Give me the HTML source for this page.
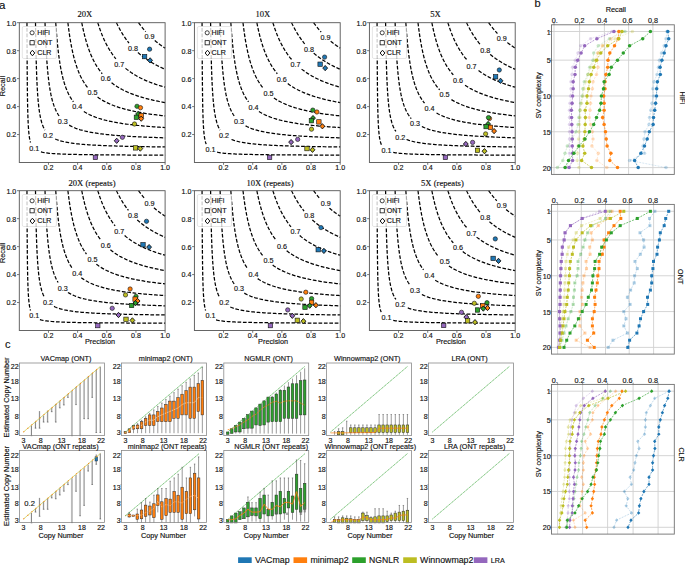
<!DOCTYPE html>
<html><head><meta charset="utf-8"><style>
html,body{margin:0;padding:0;background:#fff;width:685px;height:565px;overflow:hidden}
svg{display:block}
text{stroke:#111;stroke-width:0.15px;stroke-linejoin:round}

</style></head><body>
<svg width="685" height="565" viewBox="0 0 685 565">
<rect width="685" height="565" fill="#fff"/>
<path d="M26.97,22.7 L26.99,29.6 L27.06,46.59 L27.16,66.58 L27.31,84.75 L27.5,99.47 L27.73,110.82 L28,119.45 L28.32,126.02 L28.67,131.06 L29.07,134.98 L29.51,138.07 L29.99,140.53 L30.51,142.52" fill="none" stroke="#000" stroke-width="1.25" stroke-dasharray="3.7 1.7"/>
<path d="M40.95,151.96 L42.03,152.21 L43.14,152.43 L44.29,152.63 L45.48,152.81 L46.7,152.98 L47.96,153.13 L49.26,153.26 L50.59,153.39 L51.95,153.5 L53.35,153.61 L54.79,153.7 L56.25,153.79 L57.76,153.87 L59.29,153.95 L60.85,154.02 L62.45,154.09 L64.08,154.15 L65.74,154.21 L67.43,154.26 L69.15,154.31 L70.9,154.36 L72.68,154.4 L74.48,154.45 L76.31,154.49 L78.17,154.52 L80.06,154.56 L81.97,154.59 L83.91,154.62 L85.87,154.65 L87.86,154.68 L89.87,154.7 L91.9,154.73 L93.96,154.75 L96.04,154.78 L98.14,154.8 L100.25,154.82 L102.39,154.84 L104.55,154.86 L106.73,154.87 L108.92,154.89 L111.13,154.91 L113.36,154.92 L115.6,154.94 L117.86,154.95 L120.13,154.97 L122.42,154.98 L124.72,154.99 L127.03,155 L129.35,155.01 L131.68,155.03 L134.03,155.04 L136.38,155.05 L138.74,155.06 L141.11,155.07 L143.49,155.07 L145.88,155.08 L148.27,155.09 L150.66,155.1 L153.06,155.11 L155.46,155.11 L157.87,155.12 L160.28,155.13 L162.69,155.14 L165.1,155.14" fill="none" stroke="#000" stroke-width="1.25" stroke-dasharray="3.7 1.7"/>
<text x="34.3" y="151" text-anchor="middle" font-size="7.2" font-family="Liberation Sans, sans-serif" fill="#111">0.1</text>
<path d="M35.5,22.7 L35.52,24.21 L35.58,28.55 L35.68,35.13 L35.82,43.22 L35.99,52.06 L36.21,61.04 L36.47,69.7 L36.76,77.78 L37.1,85.13 L37.47,91.73 L37.88,97.58 L38.33,102.74 L38.82,107.27 L39.35,111.25 L39.92,114.75 L40.52,117.83 L41.16,120.53 L41.84,122.92 L42.56,125.04 L43.32,126.92 L44.11,128.59 L44.94,130.09" fill="none" stroke="#000" stroke-width="1.25" stroke-dasharray="3.7 1.7"/>
<path d="M55.19,138.96 L56.41,139.47 L57.66,139.95 L58.94,140.39 L60.25,140.79 L61.6,141.17 L62.97,141.51 L64.38,141.84 L65.82,142.14 L67.29,142.42 L68.79,142.68 L70.32,142.93 L71.87,143.16 L73.46,143.37 L75.07,143.57 L76.71,143.76 L78.38,143.94 L80.07,144.11 L81.79,144.27 L83.54,144.42 L85.31,144.56 L87.1,144.69 L88.92,144.82 L90.76,144.94 L92.63,145.05 L94.51,145.16 L96.42,145.26 L98.35,145.36 L100.3,145.45 L102.27,145.54 L104.26,145.62 L106.26,145.7 L108.29,145.78 L110.33,145.85 L112.39,145.92 L114.46,145.99 L116.55,146.05 L118.66,146.12 L120.77,146.17 L122.91,146.23 L125.05,146.28 L127.21,146.34 L129.38,146.39 L131.56,146.43 L133.75,146.48 L135.95,146.52 L138.15,146.57 L140.37,146.61 L142.6,146.65 L144.83,146.68 L147.06,146.72 L149.31,146.75 L151.55,146.79 L153.8,146.82 L156.06,146.85 L158.32,146.88 L160.58,146.91 L162.84,146.94 L165.1,146.97" fill="none" stroke="#000" stroke-width="1.25" stroke-dasharray="3.7 1.7"/>
<text x="48" y="137.8" text-anchor="middle" font-size="7.2" font-family="Liberation Sans, sans-serif" fill="#111">0.2</text>
<path d="M45.03,22.7 L45.05,23.26 L45.1,24.91 L45.19,27.56 L45.32,31.07 L45.49,35.28 L45.69,40 L45.92,45.07 L46.2,50.32 L46.51,55.61 L46.85,60.84 L47.24,65.92 L47.65,70.79 L48.11,75.42 L48.6,79.77 L49.12,83.85 L49.68,87.64 L50.28,91.17 L50.91,94.43 L51.57,97.44 L52.27,100.22 L53,102.78 L53.77,105.14 L54.57,107.32 L55.41,109.32 L56.28,111.18 L57.18,112.89 L58.12,114.47 L59.08,115.93" fill="none" stroke="#000" stroke-width="1.25" stroke-dasharray="3.7 1.7"/>
<path d="M69.21,125.17 L70.48,125.88 L71.79,126.55 L73.12,127.18 L74.48,127.76 L75.87,128.31 L77.29,128.83 L78.73,129.32 L80.2,129.78 L81.69,130.21 L83.21,130.62 L84.76,131.01 L86.33,131.37 L87.92,131.72 L89.54,132.05 L91.18,132.36 L92.84,132.65 L94.52,132.93 L96.23,133.2 L97.96,133.45 L99.7,133.7 L101.47,133.92 L103.26,134.14 L105.06,134.35 L106.89,134.55 L108.73,134.74 L110.59,134.92 L112.46,135.1 L114.36,135.26 L116.26,135.42 L118.18,135.58 L120.12,135.72 L122.07,135.86 L124.03,136 L126.01,136.12 L128,136.25 L129.99,136.37 L132,136.48 L134.02,136.59 L136.05,136.7 L138.09,136.8 L140.14,136.9 L142.19,136.99 L144.25,137.08 L146.32,137.17 L148.39,137.25 L150.47,137.33 L152.55,137.41 L154.64,137.49 L156.72,137.56 L158.82,137.63 L160.91,137.7 L163,137.77 L165.1,137.83" fill="none" stroke="#000" stroke-width="1.25" stroke-dasharray="3.7 1.7"/>
<text x="62.8" y="123.8" text-anchor="middle" font-size="7.2" font-family="Liberation Sans, sans-serif" fill="#111">0.3</text>
<path d="M55.75,22.7 L55.77,22.95 L55.82,23.71 L55.9,24.95 L56.02,26.64 L56.17,28.74 L56.35,31.19 L56.57,33.95 L56.81,36.95 L57.1,40.13 L57.41,43.46 L57.76,46.86 L58.14,50.31 L58.55,53.76 L59,57.17 L59.48,60.53 L59.99,63.8 L60.53,66.98 L61.1,70.05 L61.71,73 L62.34,75.82 L63.01,78.52 L63.71,81.09 L64.44,83.53 L65.2,85.85 L66,88.04 L66.82,90.13 L67.67,92.09 L68.55,93.96 L69.46,95.72 L70.4,97.38 L71.37,98.95 L72.37,100.43 L73.39,101.84" fill="none" stroke="#000" stroke-width="1.25" stroke-dasharray="3.7 1.7"/>
<path d="M83.84,111.49 L85.13,112.3 L86.44,113.07 L87.78,113.8 L89.14,114.5 L90.52,115.16 L91.93,115.78 L93.36,116.38 L94.81,116.95 L96.28,117.49 L97.78,118.01 L99.29,118.5 L100.83,118.97 L102.38,119.42 L103.95,119.85 L105.54,120.26 L107.15,120.65 L108.78,121.02 L110.42,121.38 L112.09,121.73 L113.76,122.05 L115.46,122.37 L117.16,122.67 L118.89,122.96 L120.62,123.24 L122.37,123.51 L124.14,123.77 L125.91,124.01 L127.7,124.25 L129.5,124.48 L131.31,124.7 L133.13,124.91 L134.96,125.11 L136.8,125.31 L138.65,125.5 L140.5,125.68 L142.36,125.86 L144.24,126.03 L146.11,126.19 L147.99,126.35 L149.88,126.5 L151.77,126.65 L153.67,126.79 L155.57,126.93 L157.47,127.06 L159.38,127.19 L161.28,127.31 L163.19,127.43 L165.1,127.55" fill="none" stroke="#000" stroke-width="1.25" stroke-dasharray="3.7 1.7"/>
<text x="77.3" y="109.3" text-anchor="middle" font-size="7.2" font-family="Liberation Sans, sans-serif" fill="#111">0.4</text>
<path d="M67.9,22.7 L67.91,22.83 L67.96,23.21 L68.03,23.84 L68.14,24.7 L68.27,25.8 L68.43,27.1 L68.62,28.6 L68.85,30.27 L69.1,32.1 L69.38,34.06 L69.69,36.14 L70.02,38.3 L70.39,40.54 L70.79,42.83 L71.21,45.16 L71.67,47.51 L72.15,49.86 L72.66,52.2 L73.2,54.53 L73.76,56.82 L74.36,59.08 L74.98,61.3 L75.63,63.46 L76.3,65.57 L77.01,67.62 L77.74,69.61 L78.49,71.54 L79.28,73.4 L80.09,75.2 L80.92,76.94 L81.78,78.62 L82.67,80.23 L83.58,81.78 L84.52,83.27 L85.48,84.7 L86.46,86.07 L87.47,87.39" fill="none" stroke="#000" stroke-width="1.25" stroke-dasharray="3.7 1.7"/>
<path d="M97.58,97.09 L98.81,97.96 L100.06,98.8 L101.33,99.6 L102.62,100.37 L103.93,101.11 L105.26,101.82 L106.6,102.5 L107.97,103.15 L109.35,103.78 L110.75,104.39 L112.16,104.97 L113.59,105.53 L115.04,106.06 L116.5,106.58 L117.98,107.08 L119.47,107.56 L120.97,108.02 L122.49,108.46 L124.02,108.89 L125.57,109.3 L127.12,109.7 L128.69,110.08 L130.27,110.45 L131.86,110.81 L133.45,111.16 L135.06,111.49 L136.68,111.81 L138.31,112.12 L139.94,112.42 L141.59,112.71 L143.23,112.99 L144.89,113.26 L146.55,113.52 L148.22,113.77 L149.89,114.02 L151.57,114.26 L153.25,114.48 L154.94,114.71 L156.63,114.92 L158.32,115.13 L160.01,115.33 L161.71,115.53 L163.4,115.72 L165.1,115.9" fill="none" stroke="#000" stroke-width="1.25" stroke-dasharray="3.7 1.7"/>
<text x="92.4" y="95.4" text-anchor="middle" font-size="7.2" font-family="Liberation Sans, sans-serif" fill="#111">0.5</text>
<path d="M81.79,22.7 L81.8,22.77 L81.84,22.96 L81.9,23.29 L81.99,23.75 L82.1,24.33 L82.24,25.03 L82.41,25.84 L82.6,26.76 L82.81,27.78 L83.05,28.89 L83.32,30.09 L83.61,31.36 L83.92,32.71 L84.26,34.11 L84.62,35.57 L85.01,37.07 L85.43,38.61 L85.86,40.18 L86.32,41.78 L86.81,43.39 L87.32,45 L87.85,46.63 L88.41,48.25 L88.99,49.86 L89.59,51.47 L90.22,53.06 L90.87,54.64 L91.54,56.19 L92.23,57.72 L92.95,59.22 L93.69,60.7 L94.45,62.15 L95.23,63.57 L96.03,64.95 L96.85,66.31 L97.7,67.63 L98.56,68.92 L99.45,70.17 L100.35,71.4 L101.28,72.58 L102.22,73.74" fill="none" stroke="#000" stroke-width="1.25" stroke-dasharray="3.7 1.7"/>
<path d="M111.55,82.74 L112.67,83.6 L113.81,84.42 L114.96,85.23 L116.13,86.01 L117.31,86.76 L118.51,87.49 L119.72,88.2 L120.95,88.88 L122.19,89.55 L123.44,90.19 L124.71,90.81 L125.99,91.42 L127.28,92 L128.58,92.57 L129.89,93.12 L131.21,93.65 L132.55,94.17 L133.89,94.67 L135.24,95.15 L136.6,95.62 L137.98,96.08 L139.35,96.52 L140.74,96.95 L142.14,97.37 L143.54,97.77 L144.94,98.16 L146.36,98.54 L147.78,98.91 L149.2,99.27 L150.63,99.62 L152.07,99.95 L153.5,100.28 L154.95,100.6 L156.39,100.91 L157.84,101.21 L159.29,101.5 L160.74,101.78 L162.19,102.06 L163.65,102.33 L165.1,102.59" fill="none" stroke="#000" stroke-width="1.25" stroke-dasharray="3.7 1.7"/>
<text x="105.7" y="81.1" text-anchor="middle" font-size="7.2" font-family="Liberation Sans, sans-serif" fill="#111">0.6</text>
<path d="M97.81,22.7 L97.82,22.73 L97.85,22.84 L97.9,23 L97.97,23.24 L98.06,23.54 L98.18,23.9 L98.31,24.33 L98.46,24.82 L98.64,25.36 L98.83,25.96 L99.04,26.61 L99.28,27.32 L99.53,28.07 L99.81,28.86 L100.1,29.7 L100.41,30.57 L100.75,31.48 L101.1,32.43 L101.47,33.4 L101.87,34.39 L102.28,35.41 L102.71,36.45 L103.16,37.51 L103.63,38.58 L104.11,39.66 L104.62,40.75 L105.14,41.85 L105.68,42.95 L106.24,44.05 L106.82,45.15 L107.42,46.25 L108.03,47.34 L108.66,48.43 L109.31,49.52 L109.98,50.59 L110.66,51.66 L111.36,52.71 L112.07,53.75 L112.8,54.78 L113.55,55.8 L114.31,56.8 L115.09,57.79 L115.89,58.76" fill="none" stroke="#000" stroke-width="1.25" stroke-dasharray="3.7 1.7"/>
<path d="M125.55,68.35 L126.5,69.12 L127.47,69.87 L128.45,70.61 L129.44,71.33 L130.44,72.03 L131.45,72.72 L132.48,73.39 L133.51,74.05 L134.55,74.69 L135.6,75.32 L136.66,75.93 L137.73,76.52 L138.81,77.11 L139.89,77.68 L140.98,78.23 L142.08,78.77 L143.19,79.3 L144.31,79.82 L145.43,80.32 L146.55,80.81 L147.68,81.29 L148.82,81.76 L149.96,82.21 L151.11,82.66 L152.26,83.09 L153.41,83.52 L154.57,83.93 L155.73,84.33 L156.9,84.73 L158.07,85.11 L159.24,85.49 L160.41,85.85 L161.58,86.21 L162.75,86.55 L163.93,86.89 L165.1,87.22" fill="none" stroke="#000" stroke-width="1.25" stroke-dasharray="3.7 1.7"/>
<text x="119.3" y="66.7" text-anchor="middle" font-size="7.2" font-family="Liberation Sans, sans-serif" fill="#111">0.7</text>
<path d="M116.5,22.7 L116.51,22.72 L116.53,22.76 L116.57,22.84 L116.62,22.95 L116.68,23.1 L116.77,23.27 L116.86,23.47 L116.97,23.71 L117.1,23.97 L117.24,24.26 L117.39,24.58 L117.56,24.93 L117.75,25.3 L117.94,25.7 L118.16,26.13 L118.38,26.57 L118.62,27.04 L118.88,27.54 L119.15,28.05 L119.43,28.58 L119.73,29.13 L120.04,29.7 L120.36,30.28 L120.7,30.88 L121.05,31.49 L121.42,32.12 L121.8,32.76 L122.19,33.41 L122.59,34.06 L123.01,34.73 L123.44,35.41 L123.88,36.09 L124.34,36.78 L124.81,37.47 L125.29,38.17 L125.78,38.87 L126.29,39.57 L126.8,40.27 L127.33,40.98 L127.87,41.68 L128.42,42.38 L128.98,43.09" fill="none" stroke="#000" stroke-width="1.25" stroke-dasharray="3.7 1.7"/>
<path d="M137.92,52.5 L138.63,53.13 L139.35,53.75 L140.07,54.36 L140.8,54.96 L141.54,55.56 L142.28,56.15 L143.04,56.73 L143.8,57.3 L144.56,57.86 L145.33,58.42 L146.11,58.96 L146.89,59.5 L147.68,60.03 L148.48,60.55 L149.28,61.07 L150.08,61.57 L150.89,62.07 L151.7,62.56 L152.52,63.04 L153.34,63.51 L154.17,63.98 L155,64.43 L155.83,64.88 L156.66,65.32 L157.5,65.75 L158.34,66.18 L159.18,66.59 L160.02,67 L160.86,67.4 L161.71,67.8 L162.56,68.18 L163.4,68.56 L164.25,68.94 L165.1,69.3" fill="none" stroke="#000" stroke-width="1.25" stroke-dasharray="3.7 1.7"/>
<text x="133" y="50.9" text-anchor="middle" font-size="7.2" font-family="Liberation Sans, sans-serif" fill="#111">0.8</text>
<path d="M138.59,22.7 L138.59,22.71 L138.61,22.72 L138.63,22.75 L138.66,22.79 L138.69,22.84 L138.74,22.91 L138.79,22.98 L138.85,23.07 L138.92,23.16 L138.99,23.27 L139.08,23.39 L139.17,23.52 L139.27,23.66 L139.38,23.81 L139.49,23.97 L139.62,24.14 L139.75,24.32 L139.89,24.51 L140.04,24.71 L140.19,24.92 L140.35,25.14 L140.52,25.37 L140.7,25.6 L140.88,25.85 L141.07,26.1 L141.27,26.36 L141.48,26.63 L141.69,26.9 L141.91,27.18 L142.14,27.47 L142.38,27.77 L142.62,28.07 L142.87,28.37 L143.12,28.69 L143.39,29 L143.65,29.33 L143.93,29.65 L144.21,29.99 L144.5,30.32 L144.79,30.66 L145.09,31.01 L145.4,31.36 L145.71,31.71" fill="none" stroke="#000" stroke-width="1.25" stroke-dasharray="3.7 1.7"/>
<path d="M154.74,40.48 L155.17,40.84 L155.6,41.2 L156.03,41.56 L156.47,41.91 L156.91,42.26 L157.35,42.61 L157.79,42.96 L158.24,43.3 L158.69,43.64 L159.14,43.98 L159.59,44.32 L160.04,44.65 L160.5,44.98 L160.95,45.31 L161.41,45.64 L161.87,45.96 L162.33,46.28 L162.79,46.59 L163.25,46.9 L163.71,47.21 L164.17,47.52 L164.64,47.82 L165.1,48.12" fill="none" stroke="#000" stroke-width="1.25" stroke-dasharray="3.7 1.7"/>
<text x="149.5" y="39" text-anchor="middle" font-size="7.2" font-family="Liberation Sans, sans-serif" fill="#111">0.9</text>
<rect x="22.3" y="26.5" width="34.1" height="32" rx="1.5" fill="#fff" fill-opacity="0.8" stroke="#d4d4d4" stroke-width="0.6"/>
<circle cx="32.1" cy="32.8" r="2.06" fill="none" stroke="#111" stroke-width="0.8"/>
<text x="37.3" y="35.3" font-size="7.1" font-family="Liberation Sans, sans-serif" fill="#111">HiFi</text>
<rect x="30" y="40.65" width="4.2" height="4.2" fill="none" stroke="#111" stroke-width="0.8"/>
<text x="37.3" y="45.25" font-size="7.1" font-family="Liberation Sans, sans-serif" fill="#111">ONT</text>
<path d="M32.4,50.2L34.75,53L32.4,55.8L30.05,53Z" fill="none" stroke="#111" stroke-width="1.0"/>
<text x="37.3" y="55.2" font-size="7.1" font-family="Liberation Sans, sans-serif" fill="#111">CLR</text>
<circle cx="149.6" cy="49.2" r="2.16" fill="#1f77b4" stroke="#111" stroke-width="0.6"/>
<rect x="142.4" y="54.4" width="4.4" height="4.4" fill="#1f77b4" stroke="#111" stroke-width="0.6"/>
<path d="M150.1,57.76L152.52,60.4L150.1,63.04L147.68,60.4Z" fill="#1f77b4" stroke="#111" stroke-width="0.9"/>
<circle cx="137" cy="106.3" r="2.16" fill="#2ca02c" stroke="#111" stroke-width="0.6"/>
<circle cx="140.5" cy="107.7" r="2.16" fill="#ff7f0e" stroke="#111" stroke-width="0.6"/>
<path d="M138.1,111.36L140.52,114L138.1,116.64L135.68,114Z" fill="#2ca02c" stroke="#111" stroke-width="0.9"/>
<rect x="134.2" y="115.1" width="4.4" height="4.4" fill="#2ca02c" stroke="#111" stroke-width="0.6"/>
<rect x="139" y="113.3" width="4.4" height="4.4" fill="#ff7f0e" stroke="#111" stroke-width="0.6"/>
<path d="M141.2,116.06L143.62,118.7L141.2,121.34L138.78,118.7Z" fill="#ff7f0e" stroke="#111" stroke-width="0.9"/>
<circle cx="134.5" cy="124" r="2.16" fill="#bcbd22" stroke="#111" stroke-width="0.6"/>
<circle cx="122.4" cy="137.3" r="2.16" fill="#9467bd" stroke="#111" stroke-width="0.6"/>
<path d="M116.7,138.16L119.12,140.8L116.7,143.44L114.28,140.8Z" fill="#9467bd" stroke="#111" stroke-width="0.9"/>
<rect x="133.3" y="145.7" width="4.4" height="4.4" fill="#bcbd22" stroke="#111" stroke-width="0.6"/>
<path d="M140.3,145.96L142.72,148.6L140.3,151.24L137.88,148.6Z" fill="#bcbd22" stroke="#111" stroke-width="0.9"/>
<rect x="93.2" y="155.2" width="4.4" height="4.4" fill="#9467bd" stroke="#111" stroke-width="0.6"/>
<rect x="19.3" y="22.7" width="145.8" height="139.8" fill="none" stroke="#555" stroke-width="0.9"/>
<line x1="48.46" y1="162.5" x2="48.46" y2="164.8" stroke="#555" stroke-width="0.8"/>
<text x="48.46" y="169.85" text-anchor="middle" font-size="7.1" font-family="Liberation Sans, sans-serif" fill="#111">0.2</text>
<line x1="17" y1="134.54" x2="19.3" y2="134.54" stroke="#555" stroke-width="0.8"/>
<text x="16.3" y="137.44" text-anchor="end" font-size="7.1" font-family="Liberation Sans, sans-serif" fill="#111">0.2</text>
<line x1="77.62" y1="162.5" x2="77.62" y2="164.8" stroke="#555" stroke-width="0.8"/>
<text x="77.62" y="169.85" text-anchor="middle" font-size="7.1" font-family="Liberation Sans, sans-serif" fill="#111">0.4</text>
<line x1="17" y1="106.58" x2="19.3" y2="106.58" stroke="#555" stroke-width="0.8"/>
<text x="16.3" y="109.48" text-anchor="end" font-size="7.1" font-family="Liberation Sans, sans-serif" fill="#111">0.4</text>
<line x1="106.78" y1="162.5" x2="106.78" y2="164.8" stroke="#555" stroke-width="0.8"/>
<text x="106.78" y="169.85" text-anchor="middle" font-size="7.1" font-family="Liberation Sans, sans-serif" fill="#111">0.6</text>
<line x1="17" y1="78.62" x2="19.3" y2="78.62" stroke="#555" stroke-width="0.8"/>
<text x="16.3" y="81.52" text-anchor="end" font-size="7.1" font-family="Liberation Sans, sans-serif" fill="#111">0.6</text>
<line x1="135.94" y1="162.5" x2="135.94" y2="164.8" stroke="#555" stroke-width="0.8"/>
<text x="135.94" y="169.85" text-anchor="middle" font-size="7.1" font-family="Liberation Sans, sans-serif" fill="#111">0.8</text>
<line x1="17" y1="50.66" x2="19.3" y2="50.66" stroke="#555" stroke-width="0.8"/>
<text x="16.3" y="53.56" text-anchor="end" font-size="7.1" font-family="Liberation Sans, sans-serif" fill="#111">0.8</text>
<line x1="165.1" y1="162.5" x2="165.1" y2="164.8" stroke="#555" stroke-width="0.8"/>
<text x="165.1" y="169.85" text-anchor="middle" font-size="7.1" font-family="Liberation Sans, sans-serif" fill="#111">1.0</text>
<line x1="17" y1="22.7" x2="19.3" y2="22.7" stroke="#555" stroke-width="0.8"/>
<text x="16.3" y="25.6" text-anchor="end" font-size="7.1" font-family="Liberation Sans, sans-serif" fill="#111">1.0</text>
<text x="84.9" y="17.3" text-anchor="middle" font-size="8.6" font-family="Liberation Serif, serif" fill="#111">20X</text>
<text transform="translate(5.3,86.1) rotate(-90)" text-anchor="middle" font-size="7.3" font-family="Liberation Sans, sans-serif" fill="#111">Recall</text>
<path d="M202.07,22.7 L202.09,29.6 L202.16,46.59 L202.26,66.58 L202.41,84.75 L202.6,99.47 L202.83,110.82 L203.1,119.45 L203.42,126.02 L203.77,131.06 L204.17,134.98 L204.61,138.07 L205.09,140.53 L205.61,142.52 L206.18,144.15" fill="none" stroke="#000" stroke-width="1.25" stroke-dasharray="3.7 1.7"/>
<path d="M217.13,152.21 L218.24,152.43 L219.39,152.63 L220.58,152.81 L221.8,152.98 L223.06,153.13 L224.36,153.26 L225.69,153.39 L227.05,153.5 L228.45,153.61 L229.89,153.7 L231.35,153.79 L232.86,153.87 L234.39,153.95 L235.95,154.02 L237.55,154.09 L239.18,154.15 L240.84,154.21 L242.53,154.26 L244.25,154.31 L246,154.36 L247.78,154.4 L249.58,154.45 L251.41,154.49 L253.27,154.52 L255.16,154.56 L257.07,154.59 L259.01,154.62 L260.97,154.65 L262.96,154.68 L264.97,154.7 L267,154.73 L269.06,154.75 L271.14,154.78 L273.24,154.8 L275.35,154.82 L277.49,154.84 L279.65,154.86 L281.83,154.87 L284.02,154.89 L286.23,154.91 L288.46,154.92 L290.7,154.94 L292.96,154.95 L295.23,154.97 L297.52,154.98 L299.82,154.99 L302.13,155 L304.45,155.01 L306.78,155.03 L309.13,155.04 L311.48,155.05 L313.84,155.06 L316.21,155.07 L318.59,155.07 L320.98,155.08 L323.37,155.09 L325.76,155.1 L328.16,155.11 L330.56,155.11 L332.97,155.12 L335.38,155.13 L337.79,155.14 L340.2,155.14" fill="none" stroke="#000" stroke-width="1.25" stroke-dasharray="3.7 1.7"/>
<text x="210.4" y="151.6" text-anchor="middle" font-size="7.2" font-family="Liberation Sans, sans-serif" fill="#111">0.1</text>
<path d="M210.6,22.7 L210.62,24.21 L210.68,28.55 L210.78,35.13 L210.92,43.22 L211.09,52.06 L211.31,61.04 L211.57,69.7 L211.86,77.78 L212.2,85.13 L212.57,91.73 L212.98,97.58 L213.43,102.74 L213.92,107.27 L214.45,111.25 L215.02,114.75 L215.62,117.83 L216.26,120.53 L216.94,122.92 L217.66,125.04 L218.42,126.92 L219.21,128.59 L220.04,130.09" fill="none" stroke="#000" stroke-width="1.25" stroke-dasharray="3.7 1.7"/>
<path d="M231.51,139.47 L232.76,139.95 L234.04,140.39 L235.35,140.79 L236.7,141.17 L238.07,141.51 L239.48,141.84 L240.92,142.14 L242.39,142.42 L243.89,142.68 L245.42,142.93 L246.97,143.16 L248.56,143.37 L250.17,143.57 L251.81,143.76 L253.48,143.94 L255.17,144.11 L256.89,144.27 L258.64,144.42 L260.41,144.56 L262.2,144.69 L264.02,144.82 L265.86,144.94 L267.73,145.05 L269.61,145.16 L271.52,145.26 L273.45,145.36 L275.4,145.45 L277.37,145.54 L279.36,145.62 L281.36,145.7 L283.39,145.78 L285.43,145.85 L287.49,145.92 L289.56,145.99 L291.65,146.05 L293.76,146.12 L295.87,146.17 L298.01,146.23 L300.15,146.28 L302.31,146.34 L304.48,146.39 L306.66,146.43 L308.85,146.48 L311.05,146.52 L313.25,146.57 L315.47,146.61 L317.7,146.65 L319.93,146.68 L322.16,146.72 L324.41,146.75 L326.65,146.79 L328.9,146.82 L331.16,146.85 L333.42,146.88 L335.68,146.91 L337.94,146.94 L340.2,146.97" fill="none" stroke="#000" stroke-width="1.25" stroke-dasharray="3.7 1.7"/>
<text x="224.1" y="138.4" text-anchor="middle" font-size="7.2" font-family="Liberation Sans, sans-serif" fill="#111">0.2</text>
<path d="M220.13,22.7 L220.15,23.26 L220.2,24.91 L220.29,27.56 L220.42,31.07 L220.59,35.28 L220.79,40 L221.02,45.07 L221.3,50.32 L221.61,55.61 L221.95,60.84 L222.34,65.92 L222.75,70.79 L223.21,75.42 L223.7,79.77 L224.22,83.85 L224.78,87.64 L225.38,91.17 L226.01,94.43 L226.67,97.44 L227.37,100.22 L228.1,102.78 L228.87,105.14 L229.67,107.32 L230.51,109.32 L231.38,111.18 L232.28,112.89 L233.22,114.47 L234.18,115.93" fill="none" stroke="#000" stroke-width="1.25" stroke-dasharray="3.7 1.7"/>
<path d="M245.58,125.88 L246.89,126.55 L248.22,127.18 L249.58,127.76 L250.97,128.31 L252.39,128.83 L253.83,129.32 L255.3,129.78 L256.79,130.21 L258.31,130.62 L259.86,131.01 L261.43,131.37 L263.02,131.72 L264.64,132.05 L266.28,132.36 L267.94,132.65 L269.62,132.93 L271.33,133.2 L273.06,133.45 L274.8,133.7 L276.57,133.92 L278.36,134.14 L280.16,134.35 L281.99,134.55 L283.83,134.74 L285.69,134.92 L287.56,135.1 L289.46,135.26 L291.36,135.42 L293.28,135.58 L295.22,135.72 L297.17,135.86 L299.13,136 L301.11,136.12 L303.1,136.25 L305.09,136.37 L307.1,136.48 L309.12,136.59 L311.15,136.7 L313.19,136.8 L315.24,136.9 L317.29,136.99 L319.35,137.08 L321.42,137.17 L323.49,137.25 L325.57,137.33 L327.65,137.41 L329.74,137.49 L331.82,137.56 L333.92,137.63 L336.01,137.7 L338.1,137.77 L340.2,137.83" fill="none" stroke="#000" stroke-width="1.25" stroke-dasharray="3.7 1.7"/>
<text x="238.9" y="124.4" text-anchor="middle" font-size="7.2" font-family="Liberation Sans, sans-serif" fill="#111">0.3</text>
<path d="M230.85,22.7 L230.87,22.95 L230.92,23.71 L231,24.95 L231.12,26.64 L231.27,28.74 L231.45,31.19 L231.67,33.95 L231.91,36.95 L232.2,40.13 L232.51,43.46 L232.86,46.86 L233.24,50.31 L233.65,53.76 L234.1,57.17 L234.58,60.53 L235.09,63.8 L235.63,66.98 L236.2,70.05 L236.81,73 L237.44,75.82 L238.11,78.52 L238.81,81.09 L239.54,83.53 L240.3,85.85 L241.1,88.04 L241.92,90.13 L242.77,92.09 L243.65,93.96 L244.56,95.72 L245.5,97.38 L246.47,98.95 L247.47,100.43 L248.49,101.84" fill="none" stroke="#000" stroke-width="1.25" stroke-dasharray="3.7 1.7"/>
<path d="M258.94,111.49 L260.23,112.3 L261.54,113.07 L262.88,113.8 L264.24,114.5 L265.62,115.16 L267.03,115.78 L268.46,116.38 L269.91,116.95 L271.38,117.49 L272.88,118.01 L274.39,118.5 L275.93,118.97 L277.48,119.42 L279.05,119.85 L280.64,120.26 L282.25,120.65 L283.88,121.02 L285.52,121.38 L287.19,121.73 L288.86,122.05 L290.56,122.37 L292.26,122.67 L293.99,122.96 L295.72,123.24 L297.47,123.51 L299.24,123.77 L301.01,124.01 L302.8,124.25 L304.6,124.48 L306.41,124.7 L308.23,124.91 L310.06,125.11 L311.9,125.31 L313.75,125.5 L315.6,125.68 L317.46,125.86 L319.34,126.03 L321.21,126.19 L323.09,126.35 L324.98,126.5 L326.87,126.65 L328.77,126.79 L330.67,126.93 L332.57,127.06 L334.48,127.19 L336.38,127.31 L338.29,127.43 L340.2,127.55" fill="none" stroke="#000" stroke-width="1.25" stroke-dasharray="3.7 1.7"/>
<text x="253.4" y="109.9" text-anchor="middle" font-size="7.2" font-family="Liberation Sans, sans-serif" fill="#111">0.4</text>
<path d="M243,22.7 L243.01,22.83 L243.06,23.21 L243.13,23.84 L243.24,24.7 L243.37,25.8 L243.53,27.1 L243.72,28.6 L243.95,30.27 L244.2,32.1 L244.48,34.06 L244.79,36.14 L245.12,38.3 L245.49,40.54 L245.89,42.83 L246.31,45.16 L246.77,47.51 L247.25,49.86 L247.76,52.2 L248.3,54.53 L248.86,56.82 L249.46,59.08 L250.08,61.3 L250.73,63.46 L251.4,65.57 L252.11,67.62 L252.84,69.61 L253.59,71.54 L254.38,73.4 L255.19,75.2 L256.02,76.94 L256.88,78.62 L257.77,80.23 L258.68,81.78 L259.62,83.27 L260.58,84.7 L261.56,86.07 L262.57,87.39 L263.61,88.66" fill="none" stroke="#000" stroke-width="1.25" stroke-dasharray="3.7 1.7"/>
<path d="M273.91,97.96 L275.16,98.8 L276.43,99.6 L277.72,100.37 L279.03,101.11 L280.36,101.82 L281.7,102.5 L283.07,103.15 L284.45,103.78 L285.85,104.39 L287.26,104.97 L288.69,105.53 L290.14,106.06 L291.6,106.58 L293.08,107.08 L294.57,107.56 L296.07,108.02 L297.59,108.46 L299.12,108.89 L300.67,109.3 L302.22,109.7 L303.79,110.08 L305.37,110.45 L306.96,110.81 L308.55,111.16 L310.16,111.49 L311.78,111.81 L313.41,112.12 L315.04,112.42 L316.69,112.71 L318.33,112.99 L319.99,113.26 L321.65,113.52 L323.32,113.77 L324.99,114.02 L326.67,114.26 L328.35,114.48 L330.04,114.71 L331.73,114.92 L333.42,115.13 L335.11,115.33 L336.81,115.53 L338.5,115.72 L340.2,115.9" fill="none" stroke="#000" stroke-width="1.25" stroke-dasharray="3.7 1.7"/>
<text x="268.5" y="96" text-anchor="middle" font-size="7.2" font-family="Liberation Sans, sans-serif" fill="#111">0.5</text>
<path d="M256.89,22.7 L256.9,22.77 L256.94,22.96 L257,23.29 L257.09,23.75 L257.2,24.33 L257.34,25.03 L257.51,25.84 L257.7,26.76 L257.91,27.78 L258.15,28.89 L258.42,30.09 L258.71,31.36 L259.02,32.71 L259.36,34.11 L259.72,35.57 L260.11,37.07 L260.53,38.61 L260.96,40.18 L261.42,41.78 L261.91,43.39 L262.42,45 L262.95,46.63 L263.51,48.25 L264.09,49.86 L264.69,51.47 L265.32,53.06 L265.97,54.64 L266.64,56.19 L267.33,57.72 L268.05,59.22 L268.79,60.7 L269.55,62.15 L270.33,63.57 L271.13,64.95 L271.95,66.31 L272.8,67.63 L273.66,68.92 L274.55,70.17 L275.45,71.4 L276.38,72.58 L277.32,73.74" fill="none" stroke="#000" stroke-width="1.25" stroke-dasharray="3.7 1.7"/>
<path d="M287.77,83.6 L288.91,84.42 L290.06,85.23 L291.23,86.01 L292.41,86.76 L293.61,87.49 L294.82,88.2 L296.05,88.88 L297.29,89.55 L298.54,90.19 L299.81,90.81 L301.09,91.42 L302.38,92 L303.68,92.57 L304.99,93.12 L306.31,93.65 L307.65,94.17 L308.99,94.67 L310.34,95.15 L311.7,95.62 L313.08,96.08 L314.45,96.52 L315.84,96.95 L317.24,97.37 L318.64,97.77 L320.04,98.16 L321.46,98.54 L322.88,98.91 L324.3,99.27 L325.73,99.62 L327.17,99.95 L328.6,100.28 L330.05,100.6 L331.49,100.91 L332.94,101.21 L334.39,101.5 L335.84,101.78 L337.29,102.06 L338.75,102.33 L340.2,102.59" fill="none" stroke="#000" stroke-width="1.25" stroke-dasharray="3.7 1.7"/>
<text x="281.8" y="81.7" text-anchor="middle" font-size="7.2" font-family="Liberation Sans, sans-serif" fill="#111">0.6</text>
<path d="M272.91,22.7 L272.92,22.73 L272.95,22.84 L273,23 L273.07,23.24 L273.16,23.54 L273.28,23.9 L273.41,24.33 L273.56,24.82 L273.74,25.36 L273.93,25.96 L274.14,26.61 L274.38,27.32 L274.63,28.07 L274.91,28.86 L275.2,29.7 L275.51,30.57 L275.85,31.48 L276.2,32.43 L276.57,33.4 L276.97,34.39 L277.38,35.41 L277.81,36.45 L278.26,37.51 L278.73,38.58 L279.21,39.66 L279.72,40.75 L280.24,41.85 L280.78,42.95 L281.34,44.05 L281.92,45.15 L282.52,46.25 L283.13,47.34 L283.76,48.43 L284.41,49.52 L285.08,50.59 L285.76,51.66 L286.46,52.71 L287.17,53.75 L287.9,54.78 L288.65,55.8 L289.41,56.8 L290.19,57.79 L290.99,58.76 L291.79,59.72" fill="none" stroke="#000" stroke-width="1.25" stroke-dasharray="3.7 1.7"/>
<path d="M301.6,69.12 L302.57,69.87 L303.55,70.61 L304.54,71.33 L305.54,72.03 L306.55,72.72 L307.58,73.39 L308.61,74.05 L309.65,74.69 L310.7,75.32 L311.76,75.93 L312.83,76.52 L313.91,77.11 L314.99,77.68 L316.08,78.23 L317.18,78.77 L318.29,79.3 L319.41,79.82 L320.53,80.32 L321.65,80.81 L322.78,81.29 L323.92,81.76 L325.06,82.21 L326.21,82.66 L327.36,83.09 L328.51,83.52 L329.67,83.93 L330.83,84.33 L332,84.73 L333.17,85.11 L334.34,85.49 L335.51,85.85 L336.68,86.21 L337.85,86.55 L339.03,86.89 L340.2,87.22" fill="none" stroke="#000" stroke-width="1.25" stroke-dasharray="3.7 1.7"/>
<text x="295.4" y="67.3" text-anchor="middle" font-size="7.2" font-family="Liberation Sans, sans-serif" fill="#111">0.7</text>
<path d="M291.6,22.7 L291.61,22.72 L291.63,22.76 L291.67,22.84 L291.72,22.95 L291.78,23.1 L291.87,23.27 L291.96,23.47 L292.07,23.71 L292.2,23.97 L292.34,24.26 L292.49,24.58 L292.66,24.93 L292.85,25.3 L293.04,25.7 L293.26,26.13 L293.48,26.57 L293.72,27.04 L293.98,27.54 L294.25,28.05 L294.53,28.58 L294.83,29.13 L295.14,29.7 L295.46,30.28 L295.8,30.88 L296.15,31.49 L296.52,32.12 L296.9,32.76 L297.29,33.41 L297.69,34.06 L298.11,34.73 L298.54,35.41 L298.98,36.09 L299.44,36.78 L299.91,37.47 L300.39,38.17 L300.88,38.87 L301.39,39.57 L301.9,40.27 L302.43,40.98 L302.97,41.68 L303.52,42.38 L304.08,43.09 L304.66,43.79" fill="none" stroke="#000" stroke-width="1.25" stroke-dasharray="3.7 1.7"/>
<path d="M313.73,53.13 L314.45,53.75 L315.17,54.36 L315.9,54.96 L316.64,55.56 L317.38,56.15 L318.14,56.73 L318.9,57.3 L319.66,57.86 L320.43,58.42 L321.21,58.96 L321.99,59.5 L322.78,60.03 L323.58,60.55 L324.38,61.07 L325.18,61.57 L325.99,62.07 L326.8,62.56 L327.62,63.04 L328.44,63.51 L329.27,63.98 L330.1,64.43 L330.93,64.88 L331.76,65.32 L332.6,65.75 L333.44,66.18 L334.28,66.59 L335.12,67 L335.96,67.4 L336.81,67.8 L337.66,68.18 L338.5,68.56 L339.35,68.94 L340.2,69.3" fill="none" stroke="#000" stroke-width="1.25" stroke-dasharray="3.7 1.7"/>
<text x="309.1" y="51.5" text-anchor="middle" font-size="7.2" font-family="Liberation Sans, sans-serif" fill="#111">0.8</text>
<path d="M313.69,22.7 L313.69,22.71 L313.71,22.72 L313.73,22.75 L313.76,22.79 L313.79,22.84 L313.84,22.91 L313.89,22.98 L313.95,23.07 L314.02,23.16 L314.09,23.27 L314.18,23.39 L314.27,23.52 L314.37,23.66 L314.48,23.81 L314.59,23.97 L314.72,24.14 L314.85,24.32 L314.99,24.51 L315.14,24.71 L315.29,24.92 L315.45,25.14 L315.62,25.37 L315.8,25.6 L315.98,25.85 L316.17,26.1 L316.37,26.36 L316.58,26.63 L316.79,26.9 L317.01,27.18 L317.24,27.47 L317.48,27.77 L317.72,28.07 L317.97,28.37 L318.22,28.69 L318.49,29 L318.75,29.33 L319.03,29.65 L319.31,29.99 L319.6,30.32 L319.89,30.66 L320.19,31.01 L320.5,31.36 L320.81,31.71 L321.13,32.06" fill="none" stroke="#000" stroke-width="1.25" stroke-dasharray="3.7 1.7"/>
<path d="M330.7,41.2 L331.13,41.56 L331.57,41.91 L332.01,42.26 L332.45,42.61 L332.89,42.96 L333.34,43.3 L333.79,43.64 L334.24,43.98 L334.69,44.32 L335.14,44.65 L335.6,44.98 L336.05,45.31 L336.51,45.64 L336.97,45.96 L337.43,46.28 L337.89,46.59 L338.35,46.9 L338.81,47.21 L339.27,47.52 L339.74,47.82 L340.2,48.12" fill="none" stroke="#000" stroke-width="1.25" stroke-dasharray="3.7 1.7"/>
<text x="325.6" y="39.6" text-anchor="middle" font-size="7.2" font-family="Liberation Sans, sans-serif" fill="#111">0.9</text>
<rect x="197.4" y="26.5" width="34.1" height="32" rx="1.5" fill="#fff" fill-opacity="0.8" stroke="#d4d4d4" stroke-width="0.6"/>
<circle cx="207.2" cy="32.8" r="2.06" fill="none" stroke="#111" stroke-width="0.8"/>
<text x="211.6" y="35.3" font-size="7.1" font-family="Liberation Sans, sans-serif" fill="#111">HiFi</text>
<rect x="205.1" y="40.65" width="4.2" height="4.2" fill="none" stroke="#111" stroke-width="0.8"/>
<text x="211.6" y="45.25" font-size="7.1" font-family="Liberation Sans, sans-serif" fill="#111">ONT</text>
<path d="M207.5,50.2L209.85,53L207.5,55.8L205.15,53Z" fill="none" stroke="#111" stroke-width="1.0"/>
<text x="211.6" y="55.2" font-size="7.1" font-family="Liberation Sans, sans-serif" fill="#111">CLR</text>
<circle cx="324.6" cy="57.1" r="2.16" fill="#1f77b4" stroke="#111" stroke-width="0.6"/>
<rect x="317.9" y="62" width="4.4" height="4.4" fill="#1f77b4" stroke="#111" stroke-width="0.6"/>
<path d="M325.2,65.46L327.62,68.1L325.2,70.74L322.78,68.1Z" fill="#1f77b4" stroke="#111" stroke-width="0.9"/>
<circle cx="312.8" cy="110.1" r="2.16" fill="#2ca02c" stroke="#111" stroke-width="0.6"/>
<circle cx="316.9" cy="112" r="2.16" fill="#ff7f0e" stroke="#111" stroke-width="0.6"/>
<path d="M313,115.46L315.42,118.1L313,120.74L310.58,118.1Z" fill="#2ca02c" stroke="#111" stroke-width="0.9"/>
<rect x="309.2" y="118.5" width="4.4" height="4.4" fill="#2ca02c" stroke="#111" stroke-width="0.6"/>
<rect x="316.7" y="119.7" width="4.4" height="4.4" fill="#ff7f0e" stroke="#111" stroke-width="0.6"/>
<path d="M322.4,123.66L324.82,126.3L322.4,128.94L319.98,126.3Z" fill="#ff7f0e" stroke="#111" stroke-width="0.9"/>
<circle cx="311.5" cy="129.2" r="2.16" fill="#bcbd22" stroke="#111" stroke-width="0.6"/>
<circle cx="297.7" cy="139.4" r="2.16" fill="#9467bd" stroke="#111" stroke-width="0.6"/>
<path d="M291.1,139.46L293.52,142.1L291.1,144.74L288.68,142.1Z" fill="#9467bd" stroke="#111" stroke-width="0.9"/>
<rect x="304.8" y="146.4" width="4.4" height="4.4" fill="#bcbd22" stroke="#111" stroke-width="0.6"/>
<path d="M312.5,147.16L314.92,149.8L312.5,152.44L310.08,149.8Z" fill="#bcbd22" stroke="#111" stroke-width="0.9"/>
<rect x="267.4" y="155.2" width="4.4" height="4.4" fill="#9467bd" stroke="#111" stroke-width="0.6"/>
<rect x="194.4" y="22.7" width="145.8" height="139.8" fill="none" stroke="#555" stroke-width="0.9"/>
<line x1="223.56" y1="162.5" x2="223.56" y2="164.8" stroke="#555" stroke-width="0.8"/>
<text x="223.56" y="169.85" text-anchor="middle" font-size="7.1" font-family="Liberation Sans, sans-serif" fill="#111">0.2</text>
<line x1="192.1" y1="134.54" x2="194.4" y2="134.54" stroke="#555" stroke-width="0.8"/>
<text x="191.4" y="137.44" text-anchor="end" font-size="7.1" font-family="Liberation Sans, sans-serif" fill="#111">0.2</text>
<line x1="252.72" y1="162.5" x2="252.72" y2="164.8" stroke="#555" stroke-width="0.8"/>
<text x="252.72" y="169.85" text-anchor="middle" font-size="7.1" font-family="Liberation Sans, sans-serif" fill="#111">0.4</text>
<line x1="192.1" y1="106.58" x2="194.4" y2="106.58" stroke="#555" stroke-width="0.8"/>
<text x="191.4" y="109.48" text-anchor="end" font-size="7.1" font-family="Liberation Sans, sans-serif" fill="#111">0.4</text>
<line x1="281.88" y1="162.5" x2="281.88" y2="164.8" stroke="#555" stroke-width="0.8"/>
<text x="281.88" y="169.85" text-anchor="middle" font-size="7.1" font-family="Liberation Sans, sans-serif" fill="#111">0.6</text>
<line x1="192.1" y1="78.62" x2="194.4" y2="78.62" stroke="#555" stroke-width="0.8"/>
<text x="191.4" y="81.52" text-anchor="end" font-size="7.1" font-family="Liberation Sans, sans-serif" fill="#111">0.6</text>
<line x1="311.04" y1="162.5" x2="311.04" y2="164.8" stroke="#555" stroke-width="0.8"/>
<text x="311.04" y="169.85" text-anchor="middle" font-size="7.1" font-family="Liberation Sans, sans-serif" fill="#111">0.8</text>
<line x1="192.1" y1="50.66" x2="194.4" y2="50.66" stroke="#555" stroke-width="0.8"/>
<text x="191.4" y="53.56" text-anchor="end" font-size="7.1" font-family="Liberation Sans, sans-serif" fill="#111">0.8</text>
<line x1="340.2" y1="162.5" x2="340.2" y2="164.8" stroke="#555" stroke-width="0.8"/>
<text x="340.2" y="169.85" text-anchor="middle" font-size="7.1" font-family="Liberation Sans, sans-serif" fill="#111">1.0</text>
<line x1="192.1" y1="22.7" x2="194.4" y2="22.7" stroke="#555" stroke-width="0.8"/>
<text x="191.4" y="25.6" text-anchor="end" font-size="7.1" font-family="Liberation Sans, sans-serif" fill="#111">1.0</text>
<text x="262.8" y="17.3" text-anchor="middle" font-size="8.6" font-family="Liberation Serif, serif" fill="#111">10X</text>
<path d="M377.07,22.7 L377.09,29.6 L377.16,46.59 L377.26,66.58 L377.41,84.75 L377.6,99.47 L377.83,110.82 L378.1,119.45 L378.42,126.02 L378.77,131.06 L379.17,134.98 L379.61,138.07 L380.09,140.53 L380.61,142.52 L381.18,144.15 L381.78,145.5" fill="none" stroke="#000" stroke-width="1.25" stroke-dasharray="3.7 1.7"/>
<path d="M393.24,152.43 L394.39,152.63 L395.58,152.81 L396.8,152.98 L398.06,153.13 L399.36,153.26 L400.69,153.39 L402.05,153.5 L403.45,153.61 L404.89,153.7 L406.35,153.79 L407.86,153.87 L409.39,153.95 L410.95,154.02 L412.55,154.09 L414.18,154.15 L415.84,154.21 L417.53,154.26 L419.25,154.31 L421,154.36 L422.78,154.4 L424.58,154.45 L426.41,154.49 L428.27,154.52 L430.16,154.56 L432.07,154.59 L434.01,154.62 L435.97,154.65 L437.96,154.68 L439.97,154.7 L442,154.73 L444.06,154.75 L446.14,154.78 L448.24,154.8 L450.35,154.82 L452.49,154.84 L454.65,154.86 L456.83,154.87 L459.02,154.89 L461.23,154.91 L463.46,154.92 L465.7,154.94 L467.96,154.95 L470.23,154.97 L472.52,154.98 L474.82,154.99 L477.13,155 L479.45,155.01 L481.78,155.03 L484.13,155.04 L486.48,155.05 L488.84,155.06 L491.21,155.07 L493.59,155.07 L495.98,155.08 L498.37,155.09 L500.76,155.1 L503.16,155.11 L505.56,155.11 L507.97,155.12 L510.38,155.13 L512.79,155.14 L515.2,155.14" fill="none" stroke="#000" stroke-width="1.25" stroke-dasharray="3.7 1.7"/>
<text x="386.5" y="153" text-anchor="middle" font-size="7.2" font-family="Liberation Sans, sans-serif" fill="#111">0.1</text>
<path d="M385.6,22.7 L385.62,24.21 L385.68,28.55 L385.78,35.13 L385.92,43.22 L386.09,52.06 L386.31,61.04 L386.57,69.7 L386.86,77.78 L387.2,85.13 L387.57,91.73 L387.98,97.58 L388.43,102.74 L388.92,107.27 L389.45,111.25 L390.02,114.75 L390.62,117.83 L391.26,120.53 L391.94,122.92 L392.66,125.04 L393.42,126.92 L394.21,128.59 L395.04,130.09 L395.9,131.42" fill="none" stroke="#000" stroke-width="1.25" stroke-dasharray="3.7 1.7"/>
<path d="M406.51,139.47 L407.76,139.95 L409.04,140.39 L410.35,140.79 L411.7,141.17 L413.07,141.51 L414.48,141.84 L415.92,142.14 L417.39,142.42 L418.89,142.68 L420.42,142.93 L421.97,143.16 L423.56,143.37 L425.17,143.57 L426.81,143.76 L428.48,143.94 L430.17,144.11 L431.89,144.27 L433.64,144.42 L435.41,144.56 L437.2,144.69 L439.02,144.82 L440.86,144.94 L442.73,145.05 L444.61,145.16 L446.52,145.26 L448.45,145.36 L450.4,145.45 L452.37,145.54 L454.36,145.62 L456.36,145.7 L458.39,145.78 L460.43,145.85 L462.49,145.92 L464.56,145.99 L466.65,146.05 L468.76,146.12 L470.87,146.17 L473.01,146.23 L475.15,146.28 L477.31,146.34 L479.48,146.39 L481.66,146.43 L483.85,146.48 L486.05,146.52 L488.25,146.57 L490.47,146.61 L492.7,146.65 L494.93,146.68 L497.16,146.72 L499.41,146.75 L501.65,146.79 L503.9,146.82 L506.16,146.85 L508.42,146.88 L510.68,146.91 L512.94,146.94 L515.2,146.97" fill="none" stroke="#000" stroke-width="1.25" stroke-dasharray="3.7 1.7"/>
<text x="400.2" y="139.8" text-anchor="middle" font-size="7.2" font-family="Liberation Sans, sans-serif" fill="#111">0.2</text>
<path d="M395.13,22.7 L395.15,23.26 L395.2,24.91 L395.29,27.56 L395.42,31.07 L395.59,35.28 L395.79,40 L396.02,45.07 L396.3,50.32 L396.61,55.61 L396.95,60.84 L397.34,65.92 L397.75,70.79 L398.21,75.42 L398.7,79.77 L399.22,83.85 L399.78,87.64 L400.38,91.17 L401.01,94.43 L401.67,97.44 L402.37,100.22 L403.1,102.78 L403.87,105.14 L404.67,107.32 L405.51,109.32 L406.38,111.18 L407.28,112.89 L408.22,114.47 L409.18,115.93 L410.18,117.28 L411.22,118.54" fill="none" stroke="#000" stroke-width="1.25" stroke-dasharray="3.7 1.7"/>
<path d="M421.89,126.55 L423.22,127.18 L424.58,127.76 L425.97,128.31 L427.39,128.83 L428.83,129.32 L430.3,129.78 L431.79,130.21 L433.31,130.62 L434.86,131.01 L436.43,131.37 L438.02,131.72 L439.64,132.05 L441.28,132.36 L442.94,132.65 L444.62,132.93 L446.33,133.2 L448.06,133.45 L449.8,133.7 L451.57,133.92 L453.36,134.14 L455.16,134.35 L456.99,134.55 L458.83,134.74 L460.69,134.92 L462.56,135.1 L464.46,135.26 L466.36,135.42 L468.28,135.58 L470.22,135.72 L472.17,135.86 L474.13,136 L476.11,136.12 L478.1,136.25 L480.09,136.37 L482.1,136.48 L484.12,136.59 L486.15,136.7 L488.19,136.8 L490.24,136.9 L492.29,136.99 L494.35,137.08 L496.42,137.17 L498.49,137.25 L500.57,137.33 L502.65,137.41 L504.74,137.49 L506.82,137.56 L508.92,137.63 L511.01,137.7 L513.1,137.77 L515.2,137.83" fill="none" stroke="#000" stroke-width="1.25" stroke-dasharray="3.7 1.7"/>
<text x="415" y="125.8" text-anchor="middle" font-size="7.2" font-family="Liberation Sans, sans-serif" fill="#111">0.3</text>
<path d="M405.85,22.7 L405.87,22.95 L405.92,23.71 L406,24.95 L406.12,26.64 L406.27,28.74 L406.45,31.19 L406.67,33.95 L406.91,36.95 L407.2,40.13 L407.51,43.46 L407.86,46.86 L408.24,50.31 L408.65,53.76 L409.1,57.17 L409.58,60.53 L410.09,63.8 L410.63,66.98 L411.2,70.05 L411.81,73 L412.44,75.82 L413.11,78.52 L413.81,81.09 L414.54,83.53 L415.3,85.85 L416.1,88.04 L416.92,90.13 L417.77,92.09 L418.65,93.96 L419.56,95.72 L420.5,97.38 L421.47,98.95 L422.47,100.43 L423.49,101.84 L424.54,103.16" fill="none" stroke="#000" stroke-width="1.25" stroke-dasharray="3.7 1.7"/>
<path d="M436.54,113.07 L437.88,113.8 L439.24,114.5 L440.62,115.16 L442.03,115.78 L443.46,116.38 L444.91,116.95 L446.38,117.49 L447.88,118.01 L449.39,118.5 L450.93,118.97 L452.48,119.42 L454.05,119.85 L455.64,120.26 L457.25,120.65 L458.88,121.02 L460.52,121.38 L462.19,121.73 L463.86,122.05 L465.56,122.37 L467.26,122.67 L468.99,122.96 L470.72,123.24 L472.47,123.51 L474.24,123.77 L476.01,124.01 L477.8,124.25 L479.6,124.48 L481.41,124.7 L483.23,124.91 L485.06,125.11 L486.9,125.31 L488.75,125.5 L490.6,125.68 L492.46,125.86 L494.34,126.03 L496.21,126.19 L498.09,126.35 L499.98,126.5 L501.87,126.65 L503.77,126.79 L505.67,126.93 L507.57,127.06 L509.48,127.19 L511.38,127.31 L513.29,127.43 L515.2,127.55" fill="none" stroke="#000" stroke-width="1.25" stroke-dasharray="3.7 1.7"/>
<text x="429.5" y="111.3" text-anchor="middle" font-size="7.2" font-family="Liberation Sans, sans-serif" fill="#111">0.4</text>
<path d="M418,22.7 L418.01,22.83 L418.06,23.21 L418.13,23.84 L418.24,24.7 L418.37,25.8 L418.53,27.1 L418.72,28.6 L418.95,30.27 L419.2,32.1 L419.48,34.06 L419.79,36.14 L420.12,38.3 L420.49,40.54 L420.89,42.83 L421.31,45.16 L421.77,47.51 L422.25,49.86 L422.76,52.2 L423.3,54.53 L423.86,56.82 L424.46,59.08 L425.08,61.3 L425.73,63.46 L426.4,65.57 L427.11,67.62 L427.84,69.61 L428.59,71.54 L429.38,73.4 L430.19,75.2 L431.02,76.94 L431.88,78.62 L432.77,80.23 L433.68,81.78 L434.62,83.27 L435.58,84.7 L436.56,86.07 L437.57,87.39 L438.61,88.66 L439.66,89.87" fill="none" stroke="#000" stroke-width="1.25" stroke-dasharray="3.7 1.7"/>
<path d="M451.43,99.6 L452.72,100.37 L454.03,101.11 L455.36,101.82 L456.7,102.5 L458.07,103.15 L459.45,103.78 L460.85,104.39 L462.26,104.97 L463.69,105.53 L465.14,106.06 L466.6,106.58 L468.08,107.08 L469.57,107.56 L471.07,108.02 L472.59,108.46 L474.12,108.89 L475.67,109.3 L477.22,109.7 L478.79,110.08 L480.37,110.45 L481.96,110.81 L483.55,111.16 L485.16,111.49 L486.78,111.81 L488.41,112.12 L490.04,112.42 L491.69,112.71 L493.33,112.99 L494.99,113.26 L496.65,113.52 L498.32,113.77 L499.99,114.02 L501.67,114.26 L503.35,114.48 L505.04,114.71 L506.73,114.92 L508.42,115.13 L510.11,115.33 L511.81,115.53 L513.5,115.72 L515.2,115.9" fill="none" stroke="#000" stroke-width="1.25" stroke-dasharray="3.7 1.7"/>
<text x="444.6" y="97.4" text-anchor="middle" font-size="7.2" font-family="Liberation Sans, sans-serif" fill="#111">0.5</text>
<path d="M431.89,22.7 L431.9,22.77 L431.94,22.96 L432,23.29 L432.09,23.75 L432.2,24.33 L432.34,25.03 L432.51,25.84 L432.7,26.76 L432.91,27.78 L433.15,28.89 L433.42,30.09 L433.71,31.36 L434.02,32.71 L434.36,34.11 L434.72,35.57 L435.11,37.07 L435.53,38.61 L435.96,40.18 L436.42,41.78 L436.91,43.39 L437.42,45 L437.95,46.63 L438.51,48.25 L439.09,49.86 L439.69,51.47 L440.32,53.06 L440.97,54.64 L441.64,56.19 L442.33,57.72 L443.05,59.22 L443.79,60.7 L444.55,62.15 L445.33,63.57 L446.13,64.95 L446.95,66.31 L447.8,67.63 L448.66,68.92 L449.55,70.17 L450.45,71.4 L451.38,72.58 L452.32,73.74 L453.29,74.86" fill="none" stroke="#000" stroke-width="1.25" stroke-dasharray="3.7 1.7"/>
<path d="M465.06,85.23 L466.23,86.01 L467.41,86.76 L468.61,87.49 L469.82,88.2 L471.05,88.88 L472.29,89.55 L473.54,90.19 L474.81,90.81 L476.09,91.42 L477.38,92 L478.68,92.57 L479.99,93.12 L481.31,93.65 L482.65,94.17 L483.99,94.67 L485.34,95.15 L486.7,95.62 L488.08,96.08 L489.45,96.52 L490.84,96.95 L492.24,97.37 L493.64,97.77 L495.04,98.16 L496.46,98.54 L497.88,98.91 L499.3,99.27 L500.73,99.62 L502.17,99.95 L503.6,100.28 L505.05,100.6 L506.49,100.91 L507.94,101.21 L509.39,101.5 L510.84,101.78 L512.29,102.06 L513.75,102.33 L515.2,102.59" fill="none" stroke="#000" stroke-width="1.25" stroke-dasharray="3.7 1.7"/>
<text x="457.9" y="83.1" text-anchor="middle" font-size="7.2" font-family="Liberation Sans, sans-serif" fill="#111">0.6</text>
<path d="M447.91,22.7 L447.92,22.73 L447.95,22.84 L448,23 L448.07,23.24 L448.16,23.54 L448.28,23.9 L448.41,24.33 L448.56,24.82 L448.74,25.36 L448.93,25.96 L449.14,26.61 L449.38,27.32 L449.63,28.07 L449.91,28.86 L450.2,29.7 L450.51,30.57 L450.85,31.48 L451.2,32.43 L451.57,33.4 L451.97,34.39 L452.38,35.41 L452.81,36.45 L453.26,37.51 L453.73,38.58 L454.21,39.66 L454.72,40.75 L455.24,41.85 L455.78,42.95 L456.34,44.05 L456.92,45.15 L457.52,46.25 L458.13,47.34 L458.76,48.43 L459.41,49.52 L460.08,50.59 L460.76,51.66 L461.46,52.71 L462.17,53.75 L462.9,54.78 L463.65,55.8 L464.41,56.8 L465.19,57.79 L465.99,58.76 L466.79,59.72 L467.62,60.66" fill="none" stroke="#000" stroke-width="1.25" stroke-dasharray="3.7 1.7"/>
<path d="M478.55,70.61 L479.54,71.33 L480.54,72.03 L481.55,72.72 L482.58,73.39 L483.61,74.05 L484.65,74.69 L485.7,75.32 L486.76,75.93 L487.83,76.52 L488.91,77.11 L489.99,77.68 L491.08,78.23 L492.18,78.77 L493.29,79.3 L494.41,79.82 L495.53,80.32 L496.65,80.81 L497.78,81.29 L498.92,81.76 L500.06,82.21 L501.21,82.66 L502.36,83.09 L503.51,83.52 L504.67,83.93 L505.83,84.33 L507,84.73 L508.17,85.11 L509.34,85.49 L510.51,85.85 L511.68,86.21 L512.85,86.55 L514.03,86.89 L515.2,87.22" fill="none" stroke="#000" stroke-width="1.25" stroke-dasharray="3.7 1.7"/>
<text x="471.5" y="68.7" text-anchor="middle" font-size="7.2" font-family="Liberation Sans, sans-serif" fill="#111">0.7</text>
<path d="M466.6,22.7 L466.61,22.72 L466.63,22.76 L466.67,22.84 L466.72,22.95 L466.78,23.1 L466.87,23.27 L466.96,23.47 L467.07,23.71 L467.2,23.97 L467.34,24.26 L467.49,24.58 L467.66,24.93 L467.85,25.3 L468.04,25.7 L468.26,26.13 L468.48,26.57 L468.72,27.04 L468.98,27.54 L469.25,28.05 L469.53,28.58 L469.83,29.13 L470.14,29.7 L470.46,30.28 L470.8,30.88 L471.15,31.49 L471.52,32.12 L471.9,32.76 L472.29,33.41 L472.69,34.06 L473.11,34.73 L473.54,35.41 L473.98,36.09 L474.44,36.78 L474.91,37.47 L475.39,38.17 L475.88,38.87 L476.39,39.57 L476.9,40.27 L477.43,40.98 L477.97,41.68 L478.52,42.38 L479.08,43.09 L479.66,43.79 L480.24,44.48 L480.83,45.18" fill="none" stroke="#000" stroke-width="1.25" stroke-dasharray="3.7 1.7"/>
<path d="M490.17,54.36 L490.9,54.96 L491.64,55.56 L492.38,56.15 L493.14,56.73 L493.9,57.3 L494.66,57.86 L495.43,58.42 L496.21,58.96 L496.99,59.5 L497.78,60.03 L498.58,60.55 L499.38,61.07 L500.18,61.57 L500.99,62.07 L501.8,62.56 L502.62,63.04 L503.44,63.51 L504.27,63.98 L505.1,64.43 L505.93,64.88 L506.76,65.32 L507.6,65.75 L508.44,66.18 L509.28,66.59 L510.12,67 L510.96,67.4 L511.81,67.8 L512.66,68.18 L513.5,68.56 L514.35,68.94 L515.2,69.3" fill="none" stroke="#000" stroke-width="1.25" stroke-dasharray="3.7 1.7"/>
<text x="485.2" y="52.9" text-anchor="middle" font-size="7.2" font-family="Liberation Sans, sans-serif" fill="#111">0.8</text>
<path d="M488.69,22.7 L488.69,22.71 L488.71,22.72 L488.73,22.75 L488.76,22.79 L488.79,22.84 L488.84,22.91 L488.89,22.98 L488.95,23.07 L489.02,23.16 L489.09,23.27 L489.18,23.39 L489.27,23.52 L489.37,23.66 L489.48,23.81 L489.59,23.97 L489.72,24.14 L489.85,24.32 L489.99,24.51 L490.14,24.71 L490.29,24.92 L490.45,25.14 L490.62,25.37 L490.8,25.6 L490.98,25.85 L491.17,26.1 L491.37,26.36 L491.58,26.63 L491.79,26.9 L492.01,27.18 L492.24,27.47 L492.48,27.77 L492.72,28.07 L492.97,28.37 L493.22,28.69 L493.49,29 L493.75,29.33 L494.03,29.65 L494.31,29.99 L494.6,30.32 L494.89,30.66 L495.19,31.01 L495.5,31.36 L495.81,31.71 L496.13,32.06 L496.46,32.42 L496.79,32.77 L497.12,33.14 L497.46,33.5" fill="none" stroke="#000" stroke-width="1.25" stroke-dasharray="3.7 1.7"/>
<path d="M507.45,42.61 L507.89,42.96 L508.34,43.3 L508.79,43.64 L509.24,43.98 L509.69,44.32 L510.14,44.65 L510.6,44.98 L511.05,45.31 L511.51,45.64 L511.97,45.96 L512.43,46.28 L512.89,46.59 L513.35,46.9 L513.81,47.21 L514.27,47.52 L514.74,47.82 L515.2,48.12" fill="none" stroke="#000" stroke-width="1.25" stroke-dasharray="3.7 1.7"/>
<text x="501.7" y="41" text-anchor="middle" font-size="7.2" font-family="Liberation Sans, sans-serif" fill="#111">0.9</text>
<rect x="372.4" y="26.5" width="34.1" height="32" rx="1.5" fill="#fff" fill-opacity="0.8" stroke="#d4d4d4" stroke-width="0.6"/>
<circle cx="382.2" cy="32.8" r="2.06" fill="none" stroke="#111" stroke-width="0.8"/>
<text x="386.8" y="35.3" font-size="7.1" font-family="Liberation Sans, sans-serif" fill="#111">HiFi</text>
<rect x="380.1" y="40.65" width="4.2" height="4.2" fill="none" stroke="#111" stroke-width="0.8"/>
<text x="386.8" y="45.25" font-size="7.1" font-family="Liberation Sans, sans-serif" fill="#111">ONT</text>
<path d="M382.5,50.2L384.85,53L382.5,55.8L380.15,53Z" fill="none" stroke="#111" stroke-width="1.0"/>
<text x="386.8" y="55.2" font-size="7.1" font-family="Liberation Sans, sans-serif" fill="#111">CLR</text>
<circle cx="499.3" cy="70" r="2.16" fill="#1f77b4" stroke="#111" stroke-width="0.6"/>
<rect x="493.4" y="74.6" width="4.4" height="4.4" fill="#1f77b4" stroke="#111" stroke-width="0.6"/>
<path d="M500.5,78.16L502.92,80.8L500.5,83.44L498.08,80.8Z" fill="#1f77b4" stroke="#111" stroke-width="0.9"/>
<circle cx="489.5" cy="118.5" r="2.16" fill="#ff7f0e" stroke="#111" stroke-width="0.6"/>
<circle cx="488.5" cy="117.6" r="2.16" fill="#2ca02c" stroke="#111" stroke-width="0.6"/>
<path d="M488.1,121.36L490.52,124L488.1,126.64L485.68,124Z" fill="#2ca02c" stroke="#111" stroke-width="0.9"/>
<rect x="483.9" y="124.4" width="4.4" height="4.4" fill="#2ca02c" stroke="#111" stroke-width="0.6"/>
<rect x="488.3" y="125.1" width="4.4" height="4.4" fill="#ff7f0e" stroke="#111" stroke-width="0.6"/>
<path d="M494.1,128.46L496.52,131.1L494.1,133.74L491.68,131.1Z" fill="#ff7f0e" stroke="#111" stroke-width="0.9"/>
<circle cx="485.6" cy="133.9" r="2.16" fill="#bcbd22" stroke="#111" stroke-width="0.6"/>
<circle cx="472.6" cy="142.4" r="2.16" fill="#9467bd" stroke="#111" stroke-width="0.6"/>
<path d="M465.8,141.36L468.22,144L465.8,146.64L463.38,144Z" fill="#9467bd" stroke="#111" stroke-width="0.9"/>
<rect x="475.3" y="148.1" width="4.4" height="4.4" fill="#bcbd22" stroke="#111" stroke-width="0.6"/>
<path d="M484.5,148.56L486.92,151.2L484.5,153.84L482.08,151.2Z" fill="#bcbd22" stroke="#111" stroke-width="0.9"/>
<rect x="443.2" y="155.2" width="4.4" height="4.4" fill="#9467bd" stroke="#111" stroke-width="0.6"/>
<rect x="369.4" y="22.7" width="145.8" height="139.8" fill="none" stroke="#555" stroke-width="0.9"/>
<line x1="398.56" y1="162.5" x2="398.56" y2="164.8" stroke="#555" stroke-width="0.8"/>
<text x="398.56" y="169.85" text-anchor="middle" font-size="7.1" font-family="Liberation Sans, sans-serif" fill="#111">0.2</text>
<line x1="367.1" y1="134.54" x2="369.4" y2="134.54" stroke="#555" stroke-width="0.8"/>
<text x="366.4" y="137.44" text-anchor="end" font-size="7.1" font-family="Liberation Sans, sans-serif" fill="#111">0.2</text>
<line x1="427.72" y1="162.5" x2="427.72" y2="164.8" stroke="#555" stroke-width="0.8"/>
<text x="427.72" y="169.85" text-anchor="middle" font-size="7.1" font-family="Liberation Sans, sans-serif" fill="#111">0.4</text>
<line x1="367.1" y1="106.58" x2="369.4" y2="106.58" stroke="#555" stroke-width="0.8"/>
<text x="366.4" y="109.48" text-anchor="end" font-size="7.1" font-family="Liberation Sans, sans-serif" fill="#111">0.4</text>
<line x1="456.88" y1="162.5" x2="456.88" y2="164.8" stroke="#555" stroke-width="0.8"/>
<text x="456.88" y="169.85" text-anchor="middle" font-size="7.1" font-family="Liberation Sans, sans-serif" fill="#111">0.6</text>
<line x1="367.1" y1="78.62" x2="369.4" y2="78.62" stroke="#555" stroke-width="0.8"/>
<text x="366.4" y="81.52" text-anchor="end" font-size="7.1" font-family="Liberation Sans, sans-serif" fill="#111">0.6</text>
<line x1="486.04" y1="162.5" x2="486.04" y2="164.8" stroke="#555" stroke-width="0.8"/>
<text x="486.04" y="169.85" text-anchor="middle" font-size="7.1" font-family="Liberation Sans, sans-serif" fill="#111">0.8</text>
<line x1="367.1" y1="50.66" x2="369.4" y2="50.66" stroke="#555" stroke-width="0.8"/>
<text x="366.4" y="53.56" text-anchor="end" font-size="7.1" font-family="Liberation Sans, sans-serif" fill="#111">0.8</text>
<line x1="515.2" y1="162.5" x2="515.2" y2="164.8" stroke="#555" stroke-width="0.8"/>
<text x="515.2" y="169.85" text-anchor="middle" font-size="7.1" font-family="Liberation Sans, sans-serif" fill="#111">1.0</text>
<line x1="367.1" y1="22.7" x2="369.4" y2="22.7" stroke="#555" stroke-width="0.8"/>
<text x="366.4" y="25.6" text-anchor="end" font-size="7.1" font-family="Liberation Sans, sans-serif" fill="#111">1.0</text>
<text x="435.5" y="17.3" text-anchor="middle" font-size="8.6" font-family="Liberation Serif, serif" fill="#111">5X</text>
<path d="M26.97,190.7 L26.99,197.6 L27.06,214.59 L27.16,234.58 L27.31,252.75 L27.5,267.47 L27.73,278.82 L28,287.45 L28.32,294.02 L28.67,299.06 L29.07,302.98 L29.51,306.07 L29.99,308.53 L30.51,310.52" fill="none" stroke="#000" stroke-width="1.25" stroke-dasharray="3.7 1.7"/>
<path d="M39.92,319.69 L40.95,319.96 L42.03,320.21 L43.14,320.43 L44.29,320.63 L45.48,320.81 L46.7,320.98 L47.96,321.13 L49.26,321.26 L50.59,321.39 L51.95,321.5 L53.35,321.61 L54.79,321.7 L56.25,321.79 L57.76,321.87 L59.29,321.95 L60.85,322.02 L62.45,322.09 L64.08,322.15 L65.74,322.21 L67.43,322.26 L69.15,322.31 L70.9,322.36 L72.68,322.4 L74.48,322.45 L76.31,322.49 L78.17,322.52 L80.06,322.56 L81.97,322.59 L83.91,322.62 L85.87,322.65 L87.86,322.68 L89.87,322.7 L91.9,322.73 L93.96,322.75 L96.04,322.78 L98.14,322.8 L100.25,322.82 L102.39,322.84 L104.55,322.86 L106.73,322.87 L108.92,322.89 L111.13,322.91 L113.36,322.92 L115.6,322.94 L117.86,322.95 L120.13,322.97 L122.42,322.98 L124.72,322.99 L127.03,323 L129.35,323.01 L131.68,323.03 L134.03,323.04 L136.38,323.05 L138.74,323.06 L141.11,323.07 L143.49,323.07 L145.88,323.08 L148.27,323.09 L150.66,323.1 L153.06,323.11 L155.46,323.11 L157.87,323.12 L160.28,323.13 L162.69,323.14 L165.1,323.14" fill="none" stroke="#000" stroke-width="1.25" stroke-dasharray="3.7 1.7"/>
<text x="34.3" y="318" text-anchor="middle" font-size="7.2" font-family="Liberation Sans, sans-serif" fill="#111">0.1</text>
<path d="M35.5,190.7 L35.52,192.21 L35.58,196.55 L35.68,203.13 L35.82,211.22 L35.99,220.06 L36.21,229.04 L36.47,237.7 L36.76,245.78 L37.1,253.13 L37.47,259.73 L37.88,265.58 L38.33,270.74 L38.82,275.27 L39.35,279.25 L39.92,282.75 L40.52,285.83 L41.16,288.53 L41.84,290.92 L42.56,293.04 L43.32,294.92 L44.11,296.59" fill="none" stroke="#000" stroke-width="1.25" stroke-dasharray="3.7 1.7"/>
<path d="M54.01,306.39 L55.19,306.96 L56.41,307.47 L57.66,307.95 L58.94,308.39 L60.25,308.79 L61.6,309.17 L62.97,309.51 L64.38,309.84 L65.82,310.14 L67.29,310.42 L68.79,310.68 L70.32,310.93 L71.87,311.16 L73.46,311.37 L75.07,311.57 L76.71,311.76 L78.38,311.94 L80.07,312.11 L81.79,312.27 L83.54,312.42 L85.31,312.56 L87.1,312.69 L88.92,312.82 L90.76,312.94 L92.63,313.05 L94.51,313.16 L96.42,313.26 L98.35,313.36 L100.3,313.45 L102.27,313.54 L104.26,313.62 L106.26,313.7 L108.29,313.78 L110.33,313.85 L112.39,313.92 L114.46,313.99 L116.55,314.05 L118.66,314.12 L120.77,314.17 L122.91,314.23 L125.05,314.28 L127.21,314.34 L129.38,314.39 L131.56,314.43 L133.75,314.48 L135.95,314.52 L138.15,314.57 L140.37,314.61 L142.6,314.65 L144.83,314.68 L147.06,314.72 L149.31,314.75 L151.55,314.79 L153.8,314.82 L156.06,314.85 L158.32,314.88 L160.58,314.91 L162.84,314.94 L165.1,314.97" fill="none" stroke="#000" stroke-width="1.25" stroke-dasharray="3.7 1.7"/>
<text x="48" y="304.8" text-anchor="middle" font-size="7.2" font-family="Liberation Sans, sans-serif" fill="#111">0.2</text>
<path d="M45.03,190.7 L45.05,191.26 L45.1,192.91 L45.19,195.56 L45.32,199.07 L45.49,203.28 L45.69,208 L45.92,213.07 L46.2,218.32 L46.51,223.61 L46.85,228.84 L47.24,233.92 L47.65,238.79 L48.11,243.42 L48.6,247.77 L49.12,251.85 L49.68,255.64 L50.28,259.17 L50.91,262.43 L51.57,265.44 L52.27,268.22 L53,270.78 L53.77,273.14 L54.57,275.32 L55.41,277.32 L56.28,279.18 L57.18,280.89 L58.12,282.47" fill="none" stroke="#000" stroke-width="1.25" stroke-dasharray="3.7 1.7"/>
<path d="M67.96,292.41 L69.21,293.17 L70.48,293.88 L71.79,294.55 L73.12,295.18 L74.48,295.76 L75.87,296.31 L77.29,296.83 L78.73,297.32 L80.2,297.78 L81.69,298.21 L83.21,298.62 L84.76,299.01 L86.33,299.37 L87.92,299.72 L89.54,300.05 L91.18,300.36 L92.84,300.65 L94.52,300.93 L96.23,301.2 L97.96,301.45 L99.7,301.7 L101.47,301.92 L103.26,302.14 L105.06,302.35 L106.89,302.55 L108.73,302.74 L110.59,302.92 L112.46,303.1 L114.36,303.26 L116.26,303.42 L118.18,303.58 L120.12,303.72 L122.07,303.86 L124.03,304 L126.01,304.12 L128,304.25 L129.99,304.37 L132,304.48 L134.02,304.59 L136.05,304.7 L138.09,304.8 L140.14,304.9 L142.19,304.99 L144.25,305.08 L146.32,305.17 L148.39,305.25 L150.47,305.33 L152.55,305.41 L154.64,305.49 L156.72,305.56 L158.82,305.63 L160.91,305.7 L163,305.77 L165.1,305.83" fill="none" stroke="#000" stroke-width="1.25" stroke-dasharray="3.7 1.7"/>
<text x="62.8" y="290.8" text-anchor="middle" font-size="7.2" font-family="Liberation Sans, sans-serif" fill="#111">0.3</text>
<path d="M55.75,190.7 L55.77,190.95 L55.82,191.71 L55.9,192.95 L56.02,194.64 L56.17,196.74 L56.35,199.19 L56.57,201.95 L56.81,204.95 L57.1,208.13 L57.41,211.46 L57.76,214.86 L58.14,218.31 L58.55,221.76 L59,225.17 L59.48,228.53 L59.99,231.8 L60.53,234.98 L61.1,238.05 L61.71,241 L62.34,243.82 L63.01,246.52 L63.71,249.09 L64.44,251.53 L65.2,253.85 L66,256.04 L66.82,258.13 L67.67,260.09 L68.55,261.96 L69.46,263.72 L70.4,265.38 L71.37,266.95 L72.37,268.43" fill="none" stroke="#000" stroke-width="1.25" stroke-dasharray="3.7 1.7"/>
<path d="M81.33,277.74 L82.57,278.64 L83.84,279.49 L85.13,280.3 L86.44,281.07 L87.78,281.8 L89.14,282.5 L90.52,283.16 L91.93,283.78 L93.36,284.38 L94.81,284.95 L96.28,285.49 L97.78,286.01 L99.29,286.5 L100.83,286.97 L102.38,287.42 L103.95,287.85 L105.54,288.26 L107.15,288.65 L108.78,289.02 L110.42,289.38 L112.09,289.73 L113.76,290.05 L115.46,290.37 L117.16,290.67 L118.89,290.96 L120.62,291.24 L122.37,291.51 L124.14,291.77 L125.91,292.01 L127.7,292.25 L129.5,292.48 L131.31,292.7 L133.13,292.91 L134.96,293.11 L136.8,293.31 L138.65,293.5 L140.5,293.68 L142.36,293.86 L144.24,294.03 L146.11,294.19 L147.99,294.35 L149.88,294.5 L151.77,294.65 L153.67,294.79 L155.57,294.93 L157.47,295.06 L159.38,295.19 L161.28,295.31 L163.19,295.43 L165.1,295.55" fill="none" stroke="#000" stroke-width="1.25" stroke-dasharray="3.7 1.7"/>
<text x="77.3" y="276.3" text-anchor="middle" font-size="7.2" font-family="Liberation Sans, sans-serif" fill="#111">0.4</text>
<path d="M67.9,190.7 L67.91,190.83 L67.96,191.21 L68.03,191.84 L68.14,192.7 L68.27,193.8 L68.43,195.1 L68.62,196.6 L68.85,198.27 L69.1,200.1 L69.38,202.06 L69.69,204.14 L70.02,206.3 L70.39,208.54 L70.79,210.83 L71.21,213.16 L71.67,215.51 L72.15,217.86 L72.66,220.2 L73.2,222.53 L73.76,224.82 L74.36,227.08 L74.98,229.3 L75.63,231.46 L76.3,233.57 L77.01,235.62 L77.74,237.61 L78.49,239.54 L79.28,241.4 L80.09,243.2 L80.92,244.94 L81.78,246.62 L82.67,248.23 L83.58,249.78 L84.52,251.27 L85.48,252.7 L86.46,254.07" fill="none" stroke="#000" stroke-width="1.25" stroke-dasharray="3.7 1.7"/>
<path d="M96.37,264.19 L97.58,265.09 L98.81,265.96 L100.06,266.8 L101.33,267.6 L102.62,268.37 L103.93,269.11 L105.26,269.82 L106.6,270.5 L107.97,271.15 L109.35,271.78 L110.75,272.39 L112.16,272.97 L113.59,273.53 L115.04,274.06 L116.5,274.58 L117.98,275.08 L119.47,275.56 L120.97,276.02 L122.49,276.46 L124.02,276.89 L125.57,277.3 L127.12,277.7 L128.69,278.08 L130.27,278.45 L131.86,278.81 L133.45,279.16 L135.06,279.49 L136.68,279.81 L138.31,280.12 L139.94,280.42 L141.59,280.71 L143.23,280.99 L144.89,281.26 L146.55,281.52 L148.22,281.77 L149.89,282.02 L151.57,282.26 L153.25,282.48 L154.94,282.71 L156.63,282.92 L158.32,283.13 L160.01,283.33 L161.71,283.53 L163.4,283.72 L165.1,283.9" fill="none" stroke="#000" stroke-width="1.25" stroke-dasharray="3.7 1.7"/>
<text x="92.4" y="262.4" text-anchor="middle" font-size="7.2" font-family="Liberation Sans, sans-serif" fill="#111">0.5</text>
<path d="M81.79,190.7 L81.8,190.77 L81.84,190.96 L81.9,191.29 L81.99,191.75 L82.1,192.33 L82.24,193.03 L82.41,193.84 L82.6,194.76 L82.81,195.78 L83.05,196.89 L83.32,198.09 L83.61,199.36 L83.92,200.71 L84.26,202.11 L84.62,203.57 L85.01,205.07 L85.43,206.61 L85.86,208.18 L86.32,209.78 L86.81,211.39 L87.32,213 L87.85,214.63 L88.41,216.25 L88.99,217.86 L89.59,219.47 L90.22,221.06 L90.87,222.64 L91.54,224.19 L92.23,225.72 L92.95,227.22 L93.69,228.7 L94.45,230.15 L95.23,231.57 L96.03,232.95 L96.85,234.31 L97.7,235.63 L98.56,236.92 L99.45,238.17 L100.35,239.4 L101.28,240.58" fill="none" stroke="#000" stroke-width="1.25" stroke-dasharray="3.7 1.7"/>
<path d="M110.44,249.86 L111.55,250.74 L112.67,251.6 L113.81,252.42 L114.96,253.23 L116.13,254.01 L117.31,254.76 L118.51,255.49 L119.72,256.2 L120.95,256.88 L122.19,257.55 L123.44,258.19 L124.71,258.81 L125.99,259.42 L127.28,260 L128.58,260.57 L129.89,261.12 L131.21,261.65 L132.55,262.17 L133.89,262.67 L135.24,263.15 L136.6,263.62 L137.98,264.08 L139.35,264.52 L140.74,264.95 L142.14,265.37 L143.54,265.77 L144.94,266.16 L146.36,266.54 L147.78,266.91 L149.2,267.27 L150.63,267.62 L152.07,267.95 L153.5,268.28 L154.95,268.6 L156.39,268.91 L157.84,269.21 L159.29,269.5 L160.74,269.78 L162.19,270.06 L163.65,270.33 L165.1,270.59" fill="none" stroke="#000" stroke-width="1.25" stroke-dasharray="3.7 1.7"/>
<text x="105.7" y="248.1" text-anchor="middle" font-size="7.2" font-family="Liberation Sans, sans-serif" fill="#111">0.6</text>
<path d="M97.81,190.7 L97.82,190.73 L97.85,190.84 L97.9,191 L97.97,191.24 L98.06,191.54 L98.18,191.9 L98.31,192.33 L98.46,192.82 L98.64,193.36 L98.83,193.96 L99.04,194.61 L99.28,195.32 L99.53,196.07 L99.81,196.86 L100.1,197.7 L100.41,198.57 L100.75,199.48 L101.1,200.43 L101.47,201.4 L101.87,202.39 L102.28,203.41 L102.71,204.45 L103.16,205.51 L103.63,206.58 L104.11,207.66 L104.62,208.75 L105.14,209.85 L105.68,210.95 L106.24,212.05 L106.82,213.15 L107.42,214.25 L108.03,215.34 L108.66,216.43 L109.31,217.52 L109.98,218.59 L110.66,219.66 L111.36,220.71 L112.07,221.75 L112.8,222.78 L113.55,223.8 L114.31,224.8 L115.09,225.79" fill="none" stroke="#000" stroke-width="1.25" stroke-dasharray="3.7 1.7"/>
<path d="M124.6,235.56 L125.55,236.35 L126.5,237.12 L127.47,237.87 L128.45,238.61 L129.44,239.33 L130.44,240.03 L131.45,240.72 L132.48,241.39 L133.51,242.05 L134.55,242.69 L135.6,243.32 L136.66,243.93 L137.73,244.52 L138.81,245.11 L139.89,245.68 L140.98,246.23 L142.08,246.77 L143.19,247.3 L144.31,247.82 L145.43,248.32 L146.55,248.81 L147.68,249.29 L148.82,249.76 L149.96,250.21 L151.11,250.66 L152.26,251.09 L153.41,251.52 L154.57,251.93 L155.73,252.33 L156.9,252.73 L158.07,253.11 L159.24,253.49 L160.41,253.85 L161.58,254.21 L162.75,254.55 L163.93,254.89 L165.1,255.22" fill="none" stroke="#000" stroke-width="1.25" stroke-dasharray="3.7 1.7"/>
<text x="119.3" y="233.7" text-anchor="middle" font-size="7.2" font-family="Liberation Sans, sans-serif" fill="#111">0.7</text>
<path d="M116.5,190.7 L116.51,190.72 L116.53,190.76 L116.57,190.84 L116.62,190.95 L116.68,191.1 L116.77,191.27 L116.86,191.47 L116.97,191.71 L117.1,191.97 L117.24,192.26 L117.39,192.58 L117.56,192.93 L117.75,193.3 L117.94,193.7 L118.16,194.13 L118.38,194.57 L118.62,195.04 L118.88,195.54 L119.15,196.05 L119.43,196.58 L119.73,197.13 L120.04,197.7 L120.36,198.28 L120.7,198.88 L121.05,199.49 L121.42,200.12 L121.8,200.76 L122.19,201.41 L122.59,202.06 L123.01,202.73 L123.44,203.41 L123.88,204.09 L124.34,204.78 L124.81,205.47 L125.29,206.17 L125.78,206.87 L126.29,207.57 L126.8,208.27 L127.33,208.98 L127.87,209.68 L128.42,210.38" fill="none" stroke="#000" stroke-width="1.25" stroke-dasharray="3.7 1.7"/>
<path d="M137.22,219.86 L137.92,220.5 L138.63,221.13 L139.35,221.75 L140.07,222.36 L140.8,222.96 L141.54,223.56 L142.28,224.15 L143.04,224.73 L143.8,225.3 L144.56,225.86 L145.33,226.42 L146.11,226.96 L146.89,227.5 L147.68,228.03 L148.48,228.55 L149.28,229.07 L150.08,229.57 L150.89,230.07 L151.7,230.56 L152.52,231.04 L153.34,231.51 L154.17,231.98 L155,232.43 L155.83,232.88 L156.66,233.32 L157.5,233.75 L158.34,234.18 L159.18,234.59 L160.02,235 L160.86,235.4 L161.71,235.8 L162.56,236.18 L163.4,236.56 L164.25,236.94 L165.1,237.3" fill="none" stroke="#000" stroke-width="1.25" stroke-dasharray="3.7 1.7"/>
<text x="133" y="217.9" text-anchor="middle" font-size="7.2" font-family="Liberation Sans, sans-serif" fill="#111">0.8</text>
<path d="M138.59,190.7 L138.59,190.71 L138.61,190.72 L138.63,190.75 L138.66,190.79 L138.69,190.84 L138.74,190.91 L138.79,190.98 L138.85,191.07 L138.92,191.16 L138.99,191.27 L139.08,191.39 L139.17,191.52 L139.27,191.66 L139.38,191.81 L139.49,191.97 L139.62,192.14 L139.75,192.32 L139.89,192.51 L140.04,192.71 L140.19,192.92 L140.35,193.14 L140.52,193.37 L140.7,193.6 L140.88,193.85 L141.07,194.1 L141.27,194.36 L141.48,194.63 L141.69,194.9 L141.91,195.18 L142.14,195.47 L142.38,195.77 L142.62,196.07 L142.87,196.37 L143.12,196.69 L143.39,197 L143.65,197.33 L143.93,197.65 L144.21,197.99 L144.5,198.32 L144.79,198.66" fill="none" stroke="#000" stroke-width="1.25" stroke-dasharray="3.7 1.7"/>
<path d="M153.9,207.76 L154.32,208.12 L154.74,208.48 L155.17,208.84 L155.6,209.2 L156.03,209.56 L156.47,209.91 L156.91,210.26 L157.35,210.61 L157.79,210.96 L158.24,211.3 L158.69,211.64 L159.14,211.98 L159.59,212.32 L160.04,212.65 L160.5,212.98 L160.95,213.31 L161.41,213.64 L161.87,213.96 L162.33,214.28 L162.79,214.59 L163.25,214.9 L163.71,215.21 L164.17,215.52 L164.64,215.82 L165.1,216.12" fill="none" stroke="#000" stroke-width="1.25" stroke-dasharray="3.7 1.7"/>
<text x="149.5" y="206" text-anchor="middle" font-size="7.2" font-family="Liberation Sans, sans-serif" fill="#111">0.9</text>
<rect x="22.3" y="194.5" width="34.1" height="32" rx="1.5" fill="#fff" fill-opacity="0.8" stroke="#d4d4d4" stroke-width="0.6"/>
<circle cx="32.1" cy="200.8" r="2.06" fill="none" stroke="#111" stroke-width="0.8"/>
<text x="37.3" y="203.3" font-size="7.1" font-family="Liberation Sans, sans-serif" fill="#111">HiFi</text>
<rect x="30" y="208.65" width="4.2" height="4.2" fill="none" stroke="#111" stroke-width="0.8"/>
<text x="37.3" y="213.25" font-size="7.1" font-family="Liberation Sans, sans-serif" fill="#111">ONT</text>
<path d="M32.4,218.2L34.75,221L32.4,223.8L30.05,221Z" fill="none" stroke="#111" stroke-width="1.0"/>
<text x="37.3" y="223.2" font-size="7.1" font-family="Liberation Sans, sans-serif" fill="#111">CLR</text>
<circle cx="146.5" cy="221.3" r="2.16" fill="#1f77b4" stroke="#111" stroke-width="0.6"/>
<rect x="140.8" y="242.5" width="4.4" height="4.4" fill="#1f77b4" stroke="#111" stroke-width="0.6"/>
<path d="M149.1,244.46L151.52,247.1L149.1,249.74L146.68,247.1Z" fill="#1f77b4" stroke="#111" stroke-width="0.9"/>
<circle cx="130.1" cy="289" r="2.16" fill="#ff7f0e" stroke="#111" stroke-width="0.6"/>
<circle cx="125.5" cy="294.9" r="2.16" fill="#bcbd22" stroke="#111" stroke-width="0.6"/>
<circle cx="136" cy="296.4" r="2.16" fill="#2ca02c" stroke="#111" stroke-width="0.6"/>
<rect x="132.9" y="296.9" width="4.4" height="4.4" fill="#ff7f0e" stroke="#111" stroke-width="0.6"/>
<path d="M137.6,298.36L140.02,301L137.6,303.64L135.18,301Z" fill="#ff7f0e" stroke="#111" stroke-width="0.9"/>
<path d="M135.4,300.46L137.82,303.1L135.4,305.74L132.98,303.1Z" fill="#2ca02c" stroke="#111" stroke-width="0.9"/>
<rect x="129.4" y="303.3" width="4.4" height="4.4" fill="#2ca02c" stroke="#111" stroke-width="0.6"/>
<circle cx="112.2" cy="308.3" r="2.16" fill="#9467bd" stroke="#111" stroke-width="0.6"/>
<path d="M118.5,312.36L120.92,315L118.5,317.64L116.08,315Z" fill="#9467bd" stroke="#111" stroke-width="0.9"/>
<rect x="123.8" y="317.1" width="4.4" height="4.4" fill="#bcbd22" stroke="#111" stroke-width="0.6"/>
<path d="M132.4,317.76L134.82,320.4L132.4,323.04L129.98,320.4Z" fill="#bcbd22" stroke="#111" stroke-width="0.9"/>
<rect x="95.6" y="323.4" width="4.4" height="4.4" fill="#9467bd" stroke="#111" stroke-width="0.6"/>
<rect x="19.3" y="190.7" width="145.8" height="139.8" fill="none" stroke="#555" stroke-width="0.9"/>
<line x1="48.46" y1="330.5" x2="48.46" y2="332.8" stroke="#555" stroke-width="0.8"/>
<text x="48.46" y="337.85" text-anchor="middle" font-size="7.1" font-family="Liberation Sans, sans-serif" fill="#111">0.2</text>
<line x1="17" y1="302.54" x2="19.3" y2="302.54" stroke="#555" stroke-width="0.8"/>
<text x="16.3" y="305.44" text-anchor="end" font-size="7.1" font-family="Liberation Sans, sans-serif" fill="#111">0.2</text>
<line x1="77.62" y1="330.5" x2="77.62" y2="332.8" stroke="#555" stroke-width="0.8"/>
<text x="77.62" y="337.85" text-anchor="middle" font-size="7.1" font-family="Liberation Sans, sans-serif" fill="#111">0.4</text>
<line x1="17" y1="274.58" x2="19.3" y2="274.58" stroke="#555" stroke-width="0.8"/>
<text x="16.3" y="277.48" text-anchor="end" font-size="7.1" font-family="Liberation Sans, sans-serif" fill="#111">0.4</text>
<line x1="106.78" y1="330.5" x2="106.78" y2="332.8" stroke="#555" stroke-width="0.8"/>
<text x="106.78" y="337.85" text-anchor="middle" font-size="7.1" font-family="Liberation Sans, sans-serif" fill="#111">0.6</text>
<line x1="17" y1="246.62" x2="19.3" y2="246.62" stroke="#555" stroke-width="0.8"/>
<text x="16.3" y="249.52" text-anchor="end" font-size="7.1" font-family="Liberation Sans, sans-serif" fill="#111">0.6</text>
<line x1="135.94" y1="330.5" x2="135.94" y2="332.8" stroke="#555" stroke-width="0.8"/>
<text x="135.94" y="337.85" text-anchor="middle" font-size="7.1" font-family="Liberation Sans, sans-serif" fill="#111">0.8</text>
<line x1="17" y1="218.66" x2="19.3" y2="218.66" stroke="#555" stroke-width="0.8"/>
<text x="16.3" y="221.56" text-anchor="end" font-size="7.1" font-family="Liberation Sans, sans-serif" fill="#111">0.8</text>
<line x1="165.1" y1="330.5" x2="165.1" y2="332.8" stroke="#555" stroke-width="0.8"/>
<text x="165.1" y="337.85" text-anchor="middle" font-size="7.1" font-family="Liberation Sans, sans-serif" fill="#111">1.0</text>
<line x1="17" y1="190.7" x2="19.3" y2="190.7" stroke="#555" stroke-width="0.8"/>
<text x="16.3" y="193.6" text-anchor="end" font-size="7.1" font-family="Liberation Sans, sans-serif" fill="#111">1.0</text>
<text x="92" y="186.0" text-anchor="middle" font-size="8.6" font-family="Liberation Serif, serif" fill="#111">20X (repeats)</text>
<text x="100" y="343.8" text-anchor="middle" font-size="7.3" font-family="Liberation Sans, sans-serif" fill="#111">Precision</text>
<text transform="translate(5.3,252.9) rotate(-90)" text-anchor="middle" font-size="7.3" font-family="Liberation Sans, sans-serif" fill="#111">Recall</text>
<path d="M202.07,190.7 L202.09,197.6 L202.16,214.59 L202.26,234.58 L202.41,252.75 L202.6,267.47 L202.83,278.82 L203.1,287.45 L203.42,294.02 L203.77,299.06 L204.17,302.98 L204.61,306.07 L205.09,308.53 L205.61,310.52" fill="none" stroke="#000" stroke-width="1.25" stroke-dasharray="3.7 1.7"/>
<path d="M216.05,319.96 L217.13,320.21 L218.24,320.43 L219.39,320.63 L220.58,320.81 L221.8,320.98 L223.06,321.13 L224.36,321.26 L225.69,321.39 L227.05,321.5 L228.45,321.61 L229.89,321.7 L231.35,321.79 L232.86,321.87 L234.39,321.95 L235.95,322.02 L237.55,322.09 L239.18,322.15 L240.84,322.21 L242.53,322.26 L244.25,322.31 L246,322.36 L247.78,322.4 L249.58,322.45 L251.41,322.49 L253.27,322.52 L255.16,322.56 L257.07,322.59 L259.01,322.62 L260.97,322.65 L262.96,322.68 L264.97,322.7 L267,322.73 L269.06,322.75 L271.14,322.78 L273.24,322.8 L275.35,322.82 L277.49,322.84 L279.65,322.86 L281.83,322.87 L284.02,322.89 L286.23,322.91 L288.46,322.92 L290.7,322.94 L292.96,322.95 L295.23,322.97 L297.52,322.98 L299.82,322.99 L302.13,323 L304.45,323.01 L306.78,323.03 L309.13,323.04 L311.48,323.05 L313.84,323.06 L316.21,323.07 L318.59,323.07 L320.98,323.08 L323.37,323.09 L325.76,323.1 L328.16,323.11 L330.56,323.11 L332.97,323.12 L335.38,323.13 L337.79,323.14 L340.2,323.14" fill="none" stroke="#000" stroke-width="1.25" stroke-dasharray="3.7 1.7"/>
<text x="210.5" y="318.4" text-anchor="middle" font-size="7.2" font-family="Liberation Sans, sans-serif" fill="#111">0.1</text>
<path d="M210.6,190.7 L210.62,192.21 L210.68,196.55 L210.78,203.13 L210.92,211.22 L211.09,220.06 L211.31,229.04 L211.57,237.7 L211.86,245.78 L212.2,253.13 L212.57,259.73 L212.98,265.58 L213.43,270.74 L213.92,275.27 L214.45,279.25 L215.02,282.75 L215.62,285.83 L216.26,288.53 L216.94,290.92 L217.66,293.04 L218.42,294.92 L219.21,296.59" fill="none" stroke="#000" stroke-width="1.25" stroke-dasharray="3.7 1.7"/>
<path d="M230.29,306.96 L231.51,307.47 L232.76,307.95 L234.04,308.39 L235.35,308.79 L236.7,309.17 L238.07,309.51 L239.48,309.84 L240.92,310.14 L242.39,310.42 L243.89,310.68 L245.42,310.93 L246.97,311.16 L248.56,311.37 L250.17,311.57 L251.81,311.76 L253.48,311.94 L255.17,312.11 L256.89,312.27 L258.64,312.42 L260.41,312.56 L262.2,312.69 L264.02,312.82 L265.86,312.94 L267.73,313.05 L269.61,313.16 L271.52,313.26 L273.45,313.36 L275.4,313.45 L277.37,313.54 L279.36,313.62 L281.36,313.7 L283.39,313.78 L285.43,313.85 L287.49,313.92 L289.56,313.99 L291.65,314.05 L293.76,314.12 L295.87,314.17 L298.01,314.23 L300.15,314.28 L302.31,314.34 L304.48,314.39 L306.66,314.43 L308.85,314.48 L311.05,314.52 L313.25,314.57 L315.47,314.61 L317.7,314.65 L319.93,314.68 L322.16,314.72 L324.41,314.75 L326.65,314.79 L328.9,314.82 L331.16,314.85 L333.42,314.88 L335.68,314.91 L337.94,314.94 L340.2,314.97" fill="none" stroke="#000" stroke-width="1.25" stroke-dasharray="3.7 1.7"/>
<text x="224.2" y="305.2" text-anchor="middle" font-size="7.2" font-family="Liberation Sans, sans-serif" fill="#111">0.2</text>
<path d="M220.13,190.7 L220.15,191.26 L220.2,192.91 L220.29,195.56 L220.42,199.07 L220.59,203.28 L220.79,208 L221.02,213.07 L221.3,218.32 L221.61,223.61 L221.95,228.84 L222.34,233.92 L222.75,238.79 L223.21,243.42 L223.7,247.77 L224.22,251.85 L224.78,255.64 L225.38,259.17 L226.01,262.43 L226.67,265.44 L227.37,268.22 L228.1,270.78 L228.87,273.14 L229.67,275.32 L230.51,277.32 L231.38,279.18 L232.28,280.89 L233.22,282.47 L234.18,283.93" fill="none" stroke="#000" stroke-width="1.25" stroke-dasharray="3.7 1.7"/>
<path d="M244.31,293.17 L245.58,293.88 L246.89,294.55 L248.22,295.18 L249.58,295.76 L250.97,296.31 L252.39,296.83 L253.83,297.32 L255.3,297.78 L256.79,298.21 L258.31,298.62 L259.86,299.01 L261.43,299.37 L263.02,299.72 L264.64,300.05 L266.28,300.36 L267.94,300.65 L269.62,300.93 L271.33,301.2 L273.06,301.45 L274.8,301.7 L276.57,301.92 L278.36,302.14 L280.16,302.35 L281.99,302.55 L283.83,302.74 L285.69,302.92 L287.56,303.1 L289.46,303.26 L291.36,303.42 L293.28,303.58 L295.22,303.72 L297.17,303.86 L299.13,304 L301.11,304.12 L303.1,304.25 L305.09,304.37 L307.1,304.48 L309.12,304.59 L311.15,304.7 L313.19,304.8 L315.24,304.9 L317.29,304.99 L319.35,305.08 L321.42,305.17 L323.49,305.25 L325.57,305.33 L327.65,305.41 L329.74,305.49 L331.82,305.56 L333.92,305.63 L336.01,305.7 L338.1,305.77 L340.2,305.83" fill="none" stroke="#000" stroke-width="1.25" stroke-dasharray="3.7 1.7"/>
<text x="239" y="291.2" text-anchor="middle" font-size="7.2" font-family="Liberation Sans, sans-serif" fill="#111">0.3</text>
<path d="M230.85,190.7 L230.87,190.95 L230.92,191.71 L231,192.95 L231.12,194.64 L231.27,196.74 L231.45,199.19 L231.67,201.95 L231.91,204.95 L232.2,208.13 L232.51,211.46 L232.86,214.86 L233.24,218.31 L233.65,221.76 L234.1,225.17 L234.58,228.53 L235.09,231.8 L235.63,234.98 L236.2,238.05 L236.81,241 L237.44,243.82 L238.11,246.52 L238.81,249.09 L239.54,251.53 L240.3,253.85 L241.1,256.04 L241.92,258.13 L242.77,260.09 L243.65,261.96 L244.56,263.72 L245.5,265.38 L246.47,266.95 L247.47,268.43" fill="none" stroke="#000" stroke-width="1.25" stroke-dasharray="3.7 1.7"/>
<path d="M257.67,278.64 L258.94,279.49 L260.23,280.3 L261.54,281.07 L262.88,281.8 L264.24,282.5 L265.62,283.16 L267.03,283.78 L268.46,284.38 L269.91,284.95 L271.38,285.49 L272.88,286.01 L274.39,286.5 L275.93,286.97 L277.48,287.42 L279.05,287.85 L280.64,288.26 L282.25,288.65 L283.88,289.02 L285.52,289.38 L287.19,289.73 L288.86,290.05 L290.56,290.37 L292.26,290.67 L293.99,290.96 L295.72,291.24 L297.47,291.51 L299.24,291.77 L301.01,292.01 L302.8,292.25 L304.6,292.48 L306.41,292.7 L308.23,292.91 L310.06,293.11 L311.9,293.31 L313.75,293.5 L315.6,293.68 L317.46,293.86 L319.34,294.03 L321.21,294.19 L323.09,294.35 L324.98,294.5 L326.87,294.65 L328.77,294.79 L330.67,294.93 L332.57,295.06 L334.48,295.19 L336.38,295.31 L338.29,295.43 L340.2,295.55" fill="none" stroke="#000" stroke-width="1.25" stroke-dasharray="3.7 1.7"/>
<text x="253.5" y="276.7" text-anchor="middle" font-size="7.2" font-family="Liberation Sans, sans-serif" fill="#111">0.4</text>
<path d="M243,190.7 L243.01,190.83 L243.06,191.21 L243.13,191.84 L243.24,192.7 L243.37,193.8 L243.53,195.1 L243.72,196.6 L243.95,198.27 L244.2,200.1 L244.48,202.06 L244.79,204.14 L245.12,206.3 L245.49,208.54 L245.89,210.83 L246.31,213.16 L246.77,215.51 L247.25,217.86 L247.76,220.2 L248.3,222.53 L248.86,224.82 L249.46,227.08 L250.08,229.3 L250.73,231.46 L251.4,233.57 L252.11,235.62 L252.84,237.61 L253.59,239.54 L254.38,241.4 L255.19,243.2 L256.02,244.94 L256.88,246.62 L257.77,248.23 L258.68,249.78 L259.62,251.27 L260.58,252.7 L261.56,254.07 L262.57,255.39" fill="none" stroke="#000" stroke-width="1.25" stroke-dasharray="3.7 1.7"/>
<path d="M272.68,265.09 L273.91,265.96 L275.16,266.8 L276.43,267.6 L277.72,268.37 L279.03,269.11 L280.36,269.82 L281.7,270.5 L283.07,271.15 L284.45,271.78 L285.85,272.39 L287.26,272.97 L288.69,273.53 L290.14,274.06 L291.6,274.58 L293.08,275.08 L294.57,275.56 L296.07,276.02 L297.59,276.46 L299.12,276.89 L300.67,277.3 L302.22,277.7 L303.79,278.08 L305.37,278.45 L306.96,278.81 L308.55,279.16 L310.16,279.49 L311.78,279.81 L313.41,280.12 L315.04,280.42 L316.69,280.71 L318.33,280.99 L319.99,281.26 L321.65,281.52 L323.32,281.77 L324.99,282.02 L326.67,282.26 L328.35,282.48 L330.04,282.71 L331.73,282.92 L333.42,283.13 L335.11,283.33 L336.81,283.53 L338.5,283.72 L340.2,283.9" fill="none" stroke="#000" stroke-width="1.25" stroke-dasharray="3.7 1.7"/>
<text x="268.6" y="262.8" text-anchor="middle" font-size="7.2" font-family="Liberation Sans, sans-serif" fill="#111">0.5</text>
<path d="M256.89,190.7 L256.9,190.77 L256.94,190.96 L257,191.29 L257.09,191.75 L257.2,192.33 L257.34,193.03 L257.51,193.84 L257.7,194.76 L257.91,195.78 L258.15,196.89 L258.42,198.09 L258.71,199.36 L259.02,200.71 L259.36,202.11 L259.72,203.57 L260.11,205.07 L260.53,206.61 L260.96,208.18 L261.42,209.78 L261.91,211.39 L262.42,213 L262.95,214.63 L263.51,216.25 L264.09,217.86 L264.69,219.47 L265.32,221.06 L265.97,222.64 L266.64,224.19 L267.33,225.72 L268.05,227.22 L268.79,228.7 L269.55,230.15 L270.33,231.57 L271.13,232.95 L271.95,234.31 L272.8,235.63 L273.66,236.92 L274.55,238.17 L275.45,239.4 L276.38,240.58" fill="none" stroke="#000" stroke-width="1.25" stroke-dasharray="3.7 1.7"/>
<path d="M286.65,250.74 L287.77,251.6 L288.91,252.42 L290.06,253.23 L291.23,254.01 L292.41,254.76 L293.61,255.49 L294.82,256.2 L296.05,256.88 L297.29,257.55 L298.54,258.19 L299.81,258.81 L301.09,259.42 L302.38,260 L303.68,260.57 L304.99,261.12 L306.31,261.65 L307.65,262.17 L308.99,262.67 L310.34,263.15 L311.7,263.62 L313.08,264.08 L314.45,264.52 L315.84,264.95 L317.24,265.37 L318.64,265.77 L320.04,266.16 L321.46,266.54 L322.88,266.91 L324.3,267.27 L325.73,267.62 L327.17,267.95 L328.6,268.28 L330.05,268.6 L331.49,268.91 L332.94,269.21 L334.39,269.5 L335.84,269.78 L337.29,270.06 L338.75,270.33 L340.2,270.59" fill="none" stroke="#000" stroke-width="1.25" stroke-dasharray="3.7 1.7"/>
<text x="281.9" y="248.5" text-anchor="middle" font-size="7.2" font-family="Liberation Sans, sans-serif" fill="#111">0.6</text>
<path d="M272.91,190.7 L272.92,190.73 L272.95,190.84 L273,191 L273.07,191.24 L273.16,191.54 L273.28,191.9 L273.41,192.33 L273.56,192.82 L273.74,193.36 L273.93,193.96 L274.14,194.61 L274.38,195.32 L274.63,196.07 L274.91,196.86 L275.2,197.7 L275.51,198.57 L275.85,199.48 L276.2,200.43 L276.57,201.4 L276.97,202.39 L277.38,203.41 L277.81,204.45 L278.26,205.51 L278.73,206.58 L279.21,207.66 L279.72,208.75 L280.24,209.85 L280.78,210.95 L281.34,212.05 L281.92,213.15 L282.52,214.25 L283.13,215.34 L283.76,216.43 L284.41,217.52 L285.08,218.59 L285.76,219.66 L286.46,220.71 L287.17,221.75 L287.9,222.78 L288.65,223.8 L289.41,224.8 L290.19,225.79 L290.99,226.76" fill="none" stroke="#000" stroke-width="1.25" stroke-dasharray="3.7 1.7"/>
<path d="M299.7,235.56 L300.65,236.35 L301.6,237.12 L302.57,237.87 L303.55,238.61 L304.54,239.33 L305.54,240.03 L306.55,240.72 L307.58,241.39 L308.61,242.05 L309.65,242.69 L310.7,243.32 L311.76,243.93 L312.83,244.52 L313.91,245.11 L314.99,245.68 L316.08,246.23 L317.18,246.77 L318.29,247.3 L319.41,247.82 L320.53,248.32 L321.65,248.81 L322.78,249.29 L323.92,249.76 L325.06,250.21 L326.21,250.66 L327.36,251.09 L328.51,251.52 L329.67,251.93 L330.83,252.33 L332,252.73 L333.17,253.11 L334.34,253.49 L335.51,253.85 L336.68,254.21 L337.85,254.55 L339.03,254.89 L340.2,255.22" fill="none" stroke="#000" stroke-width="1.25" stroke-dasharray="3.7 1.7"/>
<text x="295.5" y="234.1" text-anchor="middle" font-size="7.2" font-family="Liberation Sans, sans-serif" fill="#111">0.7</text>
<path d="M291.6,190.7 L291.61,190.72 L291.63,190.76 L291.67,190.84 L291.72,190.95 L291.78,191.1 L291.87,191.27 L291.96,191.47 L292.07,191.71 L292.2,191.97 L292.34,192.26 L292.49,192.58 L292.66,192.93 L292.85,193.3 L293.04,193.7 L293.26,194.13 L293.48,194.57 L293.72,195.04 L293.98,195.54 L294.25,196.05 L294.53,196.58 L294.83,197.13 L295.14,197.7 L295.46,198.28 L295.8,198.88 L296.15,199.49 L296.52,200.12 L296.9,200.76 L297.29,201.41 L297.69,202.06 L298.11,202.73 L298.54,203.41 L298.98,204.09 L299.44,204.78 L299.91,205.47 L300.39,206.17 L300.88,206.87 L301.39,207.57 L301.9,208.27 L302.43,208.98 L302.97,209.68 L303.52,210.38 L304.08,211.09" fill="none" stroke="#000" stroke-width="1.25" stroke-dasharray="3.7 1.7"/>
<path d="M312.32,219.86 L313.02,220.5 L313.73,221.13 L314.45,221.75 L315.17,222.36 L315.9,222.96 L316.64,223.56 L317.38,224.15 L318.14,224.73 L318.9,225.3 L319.66,225.86 L320.43,226.42 L321.21,226.96 L321.99,227.5 L322.78,228.03 L323.58,228.55 L324.38,229.07 L325.18,229.57 L325.99,230.07 L326.8,230.56 L327.62,231.04 L328.44,231.51 L329.27,231.98 L330.1,232.43 L330.93,232.88 L331.76,233.32 L332.6,233.75 L333.44,234.18 L334.28,234.59 L335.12,235 L335.96,235.4 L336.81,235.8 L337.66,236.18 L338.5,236.56 L339.35,236.94 L340.2,237.3" fill="none" stroke="#000" stroke-width="1.25" stroke-dasharray="3.7 1.7"/>
<text x="309.2" y="218.3" text-anchor="middle" font-size="7.2" font-family="Liberation Sans, sans-serif" fill="#111">0.8</text>
<path d="M313.69,190.7 L313.69,190.71 L313.71,190.72 L313.73,190.75 L313.76,190.79 L313.79,190.84 L313.84,190.91 L313.89,190.98 L313.95,191.07 L314.02,191.16 L314.09,191.27 L314.18,191.39 L314.27,191.52 L314.37,191.66 L314.48,191.81 L314.59,191.97 L314.72,192.14 L314.85,192.32 L314.99,192.51 L315.14,192.71 L315.29,192.92 L315.45,193.14 L315.62,193.37 L315.8,193.6 L315.98,193.85 L316.17,194.1 L316.37,194.36 L316.58,194.63 L316.79,194.9 L317.01,195.18 L317.24,195.47 L317.48,195.77 L317.72,196.07 L317.97,196.37 L318.22,196.69 L318.49,197 L318.75,197.33 L319.03,197.65 L319.31,197.99 L319.6,198.32 L319.89,198.66 L320.19,199.01" fill="none" stroke="#000" stroke-width="1.25" stroke-dasharray="3.7 1.7"/>
<path d="M329.42,208.12 L329.84,208.48 L330.27,208.84 L330.7,209.2 L331.13,209.56 L331.57,209.91 L332.01,210.26 L332.45,210.61 L332.89,210.96 L333.34,211.3 L333.79,211.64 L334.24,211.98 L334.69,212.32 L335.14,212.65 L335.6,212.98 L336.05,213.31 L336.51,213.64 L336.97,213.96 L337.43,214.28 L337.89,214.59 L338.35,214.9 L338.81,215.21 L339.27,215.52 L339.74,215.82 L340.2,216.12" fill="none" stroke="#000" stroke-width="1.25" stroke-dasharray="3.7 1.7"/>
<text x="325.7" y="206.4" text-anchor="middle" font-size="7.2" font-family="Liberation Sans, sans-serif" fill="#111">0.9</text>
<rect x="197.4" y="194.5" width="34.1" height="32" rx="1.5" fill="#fff" fill-opacity="0.8" stroke="#d4d4d4" stroke-width="0.6"/>
<circle cx="207.2" cy="200.8" r="2.06" fill="none" stroke="#111" stroke-width="0.8"/>
<text x="211.6" y="203.3" font-size="7.1" font-family="Liberation Sans, sans-serif" fill="#111">HiFi</text>
<rect x="205.1" y="208.65" width="4.2" height="4.2" fill="none" stroke="#111" stroke-width="0.8"/>
<text x="211.6" y="213.25" font-size="7.1" font-family="Liberation Sans, sans-serif" fill="#111">ONT</text>
<path d="M207.5,218.2L209.85,221L207.5,223.8L205.15,221Z" fill="none" stroke="#111" stroke-width="1.0"/>
<text x="211.6" y="223.2" font-size="7.1" font-family="Liberation Sans, sans-serif" fill="#111">CLR</text>
<circle cx="321" cy="227.6" r="2.16" fill="#1f77b4" stroke="#111" stroke-width="0.6"/>
<rect x="316" y="247.5" width="4.4" height="4.4" fill="#1f77b4" stroke="#111" stroke-width="0.6"/>
<path d="M323.9,248.26L326.32,250.9L323.9,253.54L321.48,250.9Z" fill="#1f77b4" stroke="#111" stroke-width="0.9"/>
<circle cx="305.8" cy="292.2" r="2.16" fill="#ff7f0e" stroke="#111" stroke-width="0.6"/>
<circle cx="301.2" cy="299" r="2.16" fill="#bcbd22" stroke="#111" stroke-width="0.6"/>
<circle cx="311.6" cy="298.6" r="2.16" fill="#2ca02c" stroke="#111" stroke-width="0.6"/>
<rect x="309.4" y="300.1" width="4.4" height="4.4" fill="#ff7f0e" stroke="#111" stroke-width="0.6"/>
<path d="M315.9,302.56L318.32,305.2L315.9,307.84L313.48,305.2Z" fill="#ff7f0e" stroke="#111" stroke-width="0.9"/>
<path d="M309.7,303.06L312.12,305.7L309.7,308.34L307.28,305.7Z" fill="#2ca02c" stroke="#111" stroke-width="0.9"/>
<rect x="302.8" y="305.1" width="4.4" height="4.4" fill="#2ca02c" stroke="#111" stroke-width="0.6"/>
<circle cx="287.7" cy="309.9" r="2.16" fill="#9467bd" stroke="#111" stroke-width="0.6"/>
<path d="M292.3,313.16L294.72,315.8L292.3,318.44L289.88,315.8Z" fill="#9467bd" stroke="#111" stroke-width="0.9"/>
<rect x="295.1" y="318.1" width="4.4" height="4.4" fill="#bcbd22" stroke="#111" stroke-width="0.6"/>
<path d="M303.4,318.56L305.82,321.2L303.4,323.84L300.98,321.2Z" fill="#bcbd22" stroke="#111" stroke-width="0.9"/>
<rect x="268.2" y="323.4" width="4.4" height="4.4" fill="#9467bd" stroke="#111" stroke-width="0.6"/>
<rect x="194.4" y="190.7" width="145.8" height="139.8" fill="none" stroke="#555" stroke-width="0.9"/>
<line x1="223.56" y1="330.5" x2="223.56" y2="332.8" stroke="#555" stroke-width="0.8"/>
<text x="223.56" y="337.85" text-anchor="middle" font-size="7.1" font-family="Liberation Sans, sans-serif" fill="#111">0.2</text>
<line x1="192.1" y1="302.54" x2="194.4" y2="302.54" stroke="#555" stroke-width="0.8"/>
<text x="191.4" y="305.44" text-anchor="end" font-size="7.1" font-family="Liberation Sans, sans-serif" fill="#111">0.2</text>
<line x1="252.72" y1="330.5" x2="252.72" y2="332.8" stroke="#555" stroke-width="0.8"/>
<text x="252.72" y="337.85" text-anchor="middle" font-size="7.1" font-family="Liberation Sans, sans-serif" fill="#111">0.4</text>
<line x1="192.1" y1="274.58" x2="194.4" y2="274.58" stroke="#555" stroke-width="0.8"/>
<text x="191.4" y="277.48" text-anchor="end" font-size="7.1" font-family="Liberation Sans, sans-serif" fill="#111">0.4</text>
<line x1="281.88" y1="330.5" x2="281.88" y2="332.8" stroke="#555" stroke-width="0.8"/>
<text x="281.88" y="337.85" text-anchor="middle" font-size="7.1" font-family="Liberation Sans, sans-serif" fill="#111">0.6</text>
<line x1="192.1" y1="246.62" x2="194.4" y2="246.62" stroke="#555" stroke-width="0.8"/>
<text x="191.4" y="249.52" text-anchor="end" font-size="7.1" font-family="Liberation Sans, sans-serif" fill="#111">0.6</text>
<line x1="311.04" y1="330.5" x2="311.04" y2="332.8" stroke="#555" stroke-width="0.8"/>
<text x="311.04" y="337.85" text-anchor="middle" font-size="7.1" font-family="Liberation Sans, sans-serif" fill="#111">0.8</text>
<line x1="192.1" y1="218.66" x2="194.4" y2="218.66" stroke="#555" stroke-width="0.8"/>
<text x="191.4" y="221.56" text-anchor="end" font-size="7.1" font-family="Liberation Sans, sans-serif" fill="#111">0.8</text>
<line x1="340.2" y1="330.5" x2="340.2" y2="332.8" stroke="#555" stroke-width="0.8"/>
<text x="340.2" y="337.85" text-anchor="middle" font-size="7.1" font-family="Liberation Sans, sans-serif" fill="#111">1.0</text>
<line x1="192.1" y1="190.7" x2="194.4" y2="190.7" stroke="#555" stroke-width="0.8"/>
<text x="191.4" y="193.6" text-anchor="end" font-size="7.1" font-family="Liberation Sans, sans-serif" fill="#111">1.0</text>
<text x="270" y="186.0" text-anchor="middle" font-size="8.6" font-family="Liberation Serif, serif" fill="#111">10X (repeats)</text>
<text x="273.1" y="343.8" text-anchor="middle" font-size="7.3" font-family="Liberation Sans, sans-serif" fill="#111">Precision</text>
<path d="M377.07,190.7 L377.09,197.6 L377.16,214.59 L377.26,234.58 L377.41,252.75 L377.6,267.47 L377.83,278.82 L378.1,287.45 L378.42,294.02 L378.77,299.06 L379.17,302.98 L379.61,306.07 L380.09,308.53 L380.61,310.52 L381.18,312.15" fill="none" stroke="#000" stroke-width="1.25" stroke-dasharray="3.7 1.7"/>
<path d="M393.24,320.43 L394.39,320.63 L395.58,320.81 L396.8,320.98 L398.06,321.13 L399.36,321.26 L400.69,321.39 L402.05,321.5 L403.45,321.61 L404.89,321.7 L406.35,321.79 L407.86,321.87 L409.39,321.95 L410.95,322.02 L412.55,322.09 L414.18,322.15 L415.84,322.21 L417.53,322.26 L419.25,322.31 L421,322.36 L422.78,322.4 L424.58,322.45 L426.41,322.49 L428.27,322.52 L430.16,322.56 L432.07,322.59 L434.01,322.62 L435.97,322.65 L437.96,322.68 L439.97,322.7 L442,322.73 L444.06,322.75 L446.14,322.78 L448.24,322.8 L450.35,322.82 L452.49,322.84 L454.65,322.86 L456.83,322.87 L459.02,322.89 L461.23,322.91 L463.46,322.92 L465.7,322.94 L467.96,322.95 L470.23,322.97 L472.52,322.98 L474.82,322.99 L477.13,323 L479.45,323.01 L481.78,323.03 L484.13,323.04 L486.48,323.05 L488.84,323.06 L491.21,323.07 L493.59,323.07 L495.98,323.08 L498.37,323.09 L500.76,323.1 L503.16,323.11 L505.56,323.11 L507.97,323.12 L510.38,323.13 L512.79,323.14 L515.2,323.14" fill="none" stroke="#000" stroke-width="1.25" stroke-dasharray="3.7 1.7"/>
<text x="386.6" y="320" text-anchor="middle" font-size="7.2" font-family="Liberation Sans, sans-serif" fill="#111">0.1</text>
<path d="M385.6,190.7 L385.62,192.21 L385.68,196.55 L385.78,203.13 L385.92,211.22 L386.09,220.06 L386.31,229.04 L386.57,237.7 L386.86,245.78 L387.2,253.13 L387.57,259.73 L387.98,265.58 L388.43,270.74 L388.92,275.27 L389.45,279.25 L390.02,282.75 L390.62,285.83 L391.26,288.53 L391.94,290.92 L392.66,293.04 L393.42,294.92 L394.21,296.59 L395.04,298.09 L395.9,299.42" fill="none" stroke="#000" stroke-width="1.25" stroke-dasharray="3.7 1.7"/>
<path d="M407.76,307.95 L409.04,308.39 L410.35,308.79 L411.7,309.17 L413.07,309.51 L414.48,309.84 L415.92,310.14 L417.39,310.42 L418.89,310.68 L420.42,310.93 L421.97,311.16 L423.56,311.37 L425.17,311.57 L426.81,311.76 L428.48,311.94 L430.17,312.11 L431.89,312.27 L433.64,312.42 L435.41,312.56 L437.2,312.69 L439.02,312.82 L440.86,312.94 L442.73,313.05 L444.61,313.16 L446.52,313.26 L448.45,313.36 L450.4,313.45 L452.37,313.54 L454.36,313.62 L456.36,313.7 L458.39,313.78 L460.43,313.85 L462.49,313.92 L464.56,313.99 L466.65,314.05 L468.76,314.12 L470.87,314.17 L473.01,314.23 L475.15,314.28 L477.31,314.34 L479.48,314.39 L481.66,314.43 L483.85,314.48 L486.05,314.52 L488.25,314.57 L490.47,314.61 L492.7,314.65 L494.93,314.68 L497.16,314.72 L499.41,314.75 L501.65,314.79 L503.9,314.82 L506.16,314.85 L508.42,314.88 L510.68,314.91 L512.94,314.94 L515.2,314.97" fill="none" stroke="#000" stroke-width="1.25" stroke-dasharray="3.7 1.7"/>
<text x="400.3" y="306.8" text-anchor="middle" font-size="7.2" font-family="Liberation Sans, sans-serif" fill="#111">0.2</text>
<path d="M395.13,190.7 L395.15,191.26 L395.2,192.91 L395.29,195.56 L395.42,199.07 L395.59,203.28 L395.79,208 L396.02,213.07 L396.3,218.32 L396.61,223.61 L396.95,228.84 L397.34,233.92 L397.75,238.79 L398.21,243.42 L398.7,247.77 L399.22,251.85 L399.78,255.64 L400.38,259.17 L401.01,262.43 L401.67,265.44 L402.37,268.22 L403.1,270.78 L403.87,273.14 L404.67,275.32 L405.51,277.32 L406.38,279.18 L407.28,280.89 L408.22,282.47 L409.18,283.93 L410.18,285.28" fill="none" stroke="#000" stroke-width="1.25" stroke-dasharray="3.7 1.7"/>
<path d="M421.89,294.55 L423.22,295.18 L424.58,295.76 L425.97,296.31 L427.39,296.83 L428.83,297.32 L430.3,297.78 L431.79,298.21 L433.31,298.62 L434.86,299.01 L436.43,299.37 L438.02,299.72 L439.64,300.05 L441.28,300.36 L442.94,300.65 L444.62,300.93 L446.33,301.2 L448.06,301.45 L449.8,301.7 L451.57,301.92 L453.36,302.14 L455.16,302.35 L456.99,302.55 L458.83,302.74 L460.69,302.92 L462.56,303.1 L464.46,303.26 L466.36,303.42 L468.28,303.58 L470.22,303.72 L472.17,303.86 L474.13,304 L476.11,304.12 L478.1,304.25 L480.09,304.37 L482.1,304.48 L484.12,304.59 L486.15,304.7 L488.19,304.8 L490.24,304.9 L492.29,304.99 L494.35,305.08 L496.42,305.17 L498.49,305.25 L500.57,305.33 L502.65,305.41 L504.74,305.49 L506.82,305.56 L508.92,305.63 L511.01,305.7 L513.1,305.77 L515.2,305.83" fill="none" stroke="#000" stroke-width="1.25" stroke-dasharray="3.7 1.7"/>
<text x="415.1" y="292.8" text-anchor="middle" font-size="7.2" font-family="Liberation Sans, sans-serif" fill="#111">0.3</text>
<path d="M405.85,190.7 L405.87,190.95 L405.92,191.71 L406,192.95 L406.12,194.64 L406.27,196.74 L406.45,199.19 L406.67,201.95 L406.91,204.95 L407.2,208.13 L407.51,211.46 L407.86,214.86 L408.24,218.31 L408.65,221.76 L409.1,225.17 L409.58,228.53 L410.09,231.8 L410.63,234.98 L411.2,238.05 L411.81,241 L412.44,243.82 L413.11,246.52 L413.81,249.09 L414.54,251.53 L415.3,253.85 L416.1,256.04 L416.92,258.13 L417.77,260.09 L418.65,261.96 L419.56,263.72 L420.5,265.38 L421.47,266.95 L422.47,268.43 L423.49,269.84" fill="none" stroke="#000" stroke-width="1.25" stroke-dasharray="3.7 1.7"/>
<path d="M435.23,280.3 L436.54,281.07 L437.88,281.8 L439.24,282.5 L440.62,283.16 L442.03,283.78 L443.46,284.38 L444.91,284.95 L446.38,285.49 L447.88,286.01 L449.39,286.5 L450.93,286.97 L452.48,287.42 L454.05,287.85 L455.64,288.26 L457.25,288.65 L458.88,289.02 L460.52,289.38 L462.19,289.73 L463.86,290.05 L465.56,290.37 L467.26,290.67 L468.99,290.96 L470.72,291.24 L472.47,291.51 L474.24,291.77 L476.01,292.01 L477.8,292.25 L479.6,292.48 L481.41,292.7 L483.23,292.91 L485.06,293.11 L486.9,293.31 L488.75,293.5 L490.6,293.68 L492.46,293.86 L494.34,294.03 L496.21,294.19 L498.09,294.35 L499.98,294.5 L501.87,294.65 L503.77,294.79 L505.67,294.93 L507.57,295.06 L509.48,295.19 L511.38,295.31 L513.29,295.43 L515.2,295.55" fill="none" stroke="#000" stroke-width="1.25" stroke-dasharray="3.7 1.7"/>
<text x="429.6" y="278.3" text-anchor="middle" font-size="7.2" font-family="Liberation Sans, sans-serif" fill="#111">0.4</text>
<path d="M418,190.7 L418.01,190.83 L418.06,191.21 L418.13,191.84 L418.24,192.7 L418.37,193.8 L418.53,195.1 L418.72,196.6 L418.95,198.27 L419.2,200.1 L419.48,202.06 L419.79,204.14 L420.12,206.3 L420.49,208.54 L420.89,210.83 L421.31,213.16 L421.77,215.51 L422.25,217.86 L422.76,220.2 L423.3,222.53 L423.86,224.82 L424.46,227.08 L425.08,229.3 L425.73,231.46 L426.4,233.57 L427.11,235.62 L427.84,237.61 L428.59,239.54 L429.38,241.4 L430.19,243.2 L431.02,244.94 L431.88,246.62 L432.77,248.23 L433.68,249.78 L434.62,251.27 L435.58,252.7 L436.56,254.07 L437.57,255.39 L438.61,256.66" fill="none" stroke="#000" stroke-width="1.25" stroke-dasharray="3.7 1.7"/>
<path d="M448.91,265.96 L450.16,266.8 L451.43,267.6 L452.72,268.37 L454.03,269.11 L455.36,269.82 L456.7,270.5 L458.07,271.15 L459.45,271.78 L460.85,272.39 L462.26,272.97 L463.69,273.53 L465.14,274.06 L466.6,274.58 L468.08,275.08 L469.57,275.56 L471.07,276.02 L472.59,276.46 L474.12,276.89 L475.67,277.3 L477.22,277.7 L478.79,278.08 L480.37,278.45 L481.96,278.81 L483.55,279.16 L485.16,279.49 L486.78,279.81 L488.41,280.12 L490.04,280.42 L491.69,280.71 L493.33,280.99 L494.99,281.26 L496.65,281.52 L498.32,281.77 L499.99,282.02 L501.67,282.26 L503.35,282.48 L505.04,282.71 L506.73,282.92 L508.42,283.13 L510.11,283.33 L511.81,283.53 L513.5,283.72 L515.2,283.9" fill="none" stroke="#000" stroke-width="1.25" stroke-dasharray="3.7 1.7"/>
<text x="444.7" y="264.4" text-anchor="middle" font-size="7.2" font-family="Liberation Sans, sans-serif" fill="#111">0.5</text>
<path d="M431.89,190.7 L431.9,190.77 L431.94,190.96 L432,191.29 L432.09,191.75 L432.2,192.33 L432.34,193.03 L432.51,193.84 L432.7,194.76 L432.91,195.78 L433.15,196.89 L433.42,198.09 L433.71,199.36 L434.02,200.71 L434.36,202.11 L434.72,203.57 L435.11,205.07 L435.53,206.61 L435.96,208.18 L436.42,209.78 L436.91,211.39 L437.42,213 L437.95,214.63 L438.51,216.25 L439.09,217.86 L439.69,219.47 L440.32,221.06 L440.97,222.64 L441.64,224.19 L442.33,225.72 L443.05,227.22 L443.79,228.7 L444.55,230.15 L445.33,231.57 L446.13,232.95 L446.95,234.31 L447.8,235.63 L448.66,236.92 L449.55,238.17 L450.45,239.4 L451.38,240.58 L452.32,241.74 L453.29,242.86" fill="none" stroke="#000" stroke-width="1.25" stroke-dasharray="3.7 1.7"/>
<path d="M462.77,251.6 L463.91,252.42 L465.06,253.23 L466.23,254.01 L467.41,254.76 L468.61,255.49 L469.82,256.2 L471.05,256.88 L472.29,257.55 L473.54,258.19 L474.81,258.81 L476.09,259.42 L477.38,260 L478.68,260.57 L479.99,261.12 L481.31,261.65 L482.65,262.17 L483.99,262.67 L485.34,263.15 L486.7,263.62 L488.08,264.08 L489.45,264.52 L490.84,264.95 L492.24,265.37 L493.64,265.77 L495.04,266.16 L496.46,266.54 L497.88,266.91 L499.3,267.27 L500.73,267.62 L502.17,267.95 L503.6,268.28 L505.05,268.6 L506.49,268.91 L507.94,269.21 L509.39,269.5 L510.84,269.78 L512.29,270.06 L513.75,270.33 L515.2,270.59" fill="none" stroke="#000" stroke-width="1.25" stroke-dasharray="3.7 1.7"/>
<text x="458" y="250.1" text-anchor="middle" font-size="7.2" font-family="Liberation Sans, sans-serif" fill="#111">0.6</text>
<path d="M447.91,190.7 L447.92,190.73 L447.95,190.84 L448,191 L448.07,191.24 L448.16,191.54 L448.28,191.9 L448.41,192.33 L448.56,192.82 L448.74,193.36 L448.93,193.96 L449.14,194.61 L449.38,195.32 L449.63,196.07 L449.91,196.86 L450.2,197.7 L450.51,198.57 L450.85,199.48 L451.2,200.43 L451.57,201.4 L451.97,202.39 L452.38,203.41 L452.81,204.45 L453.26,205.51 L453.73,206.58 L454.21,207.66 L454.72,208.75 L455.24,209.85 L455.78,210.95 L456.34,212.05 L456.92,213.15 L457.52,214.25 L458.13,215.34 L458.76,216.43 L459.41,217.52 L460.08,218.59 L460.76,219.66 L461.46,220.71 L462.17,221.75 L462.9,222.78 L463.65,223.8 L464.41,224.8 L465.19,225.79 L465.99,226.76 L466.79,227.72" fill="none" stroke="#000" stroke-width="1.25" stroke-dasharray="3.7 1.7"/>
<path d="M476.6,237.12 L477.57,237.87 L478.55,238.61 L479.54,239.33 L480.54,240.03 L481.55,240.72 L482.58,241.39 L483.61,242.05 L484.65,242.69 L485.7,243.32 L486.76,243.93 L487.83,244.52 L488.91,245.11 L489.99,245.68 L491.08,246.23 L492.18,246.77 L493.29,247.3 L494.41,247.82 L495.53,248.32 L496.65,248.81 L497.78,249.29 L498.92,249.76 L500.06,250.21 L501.21,250.66 L502.36,251.09 L503.51,251.52 L504.67,251.93 L505.83,252.33 L507,252.73 L508.17,253.11 L509.34,253.49 L510.51,253.85 L511.68,254.21 L512.85,254.55 L514.03,254.89 L515.2,255.22" fill="none" stroke="#000" stroke-width="1.25" stroke-dasharray="3.7 1.7"/>
<text x="471.6" y="235.7" text-anchor="middle" font-size="7.2" font-family="Liberation Sans, sans-serif" fill="#111">0.7</text>
<path d="M466.6,190.7 L466.61,190.72 L466.63,190.76 L466.67,190.84 L466.72,190.95 L466.78,191.1 L466.87,191.27 L466.96,191.47 L467.07,191.71 L467.2,191.97 L467.34,192.26 L467.49,192.58 L467.66,192.93 L467.85,193.3 L468.04,193.7 L468.26,194.13 L468.48,194.57 L468.72,195.04 L468.98,195.54 L469.25,196.05 L469.53,196.58 L469.83,197.13 L470.14,197.7 L470.46,198.28 L470.8,198.88 L471.15,199.49 L471.52,200.12 L471.9,200.76 L472.29,201.41 L472.69,202.06 L473.11,202.73 L473.54,203.41 L473.98,204.09 L474.44,204.78 L474.91,205.47 L475.39,206.17 L475.88,206.87 L476.39,207.57 L476.9,208.27 L477.43,208.98 L477.97,209.68 L478.52,210.38 L479.08,211.09 L479.66,211.79 L480.24,212.48" fill="none" stroke="#000" stroke-width="1.25" stroke-dasharray="3.7 1.7"/>
<path d="M489.45,221.75 L490.17,222.36 L490.9,222.96 L491.64,223.56 L492.38,224.15 L493.14,224.73 L493.9,225.3 L494.66,225.86 L495.43,226.42 L496.21,226.96 L496.99,227.5 L497.78,228.03 L498.58,228.55 L499.38,229.07 L500.18,229.57 L500.99,230.07 L501.8,230.56 L502.62,231.04 L503.44,231.51 L504.27,231.98 L505.1,232.43 L505.93,232.88 L506.76,233.32 L507.6,233.75 L508.44,234.18 L509.28,234.59 L510.12,235 L510.96,235.4 L511.81,235.8 L512.66,236.18 L513.5,236.56 L514.35,236.94 L515.2,237.3" fill="none" stroke="#000" stroke-width="1.25" stroke-dasharray="3.7 1.7"/>
<text x="485.3" y="219.9" text-anchor="middle" font-size="7.2" font-family="Liberation Sans, sans-serif" fill="#111">0.8</text>
<path d="M488.69,190.7 L488.69,190.71 L488.71,190.72 L488.73,190.75 L488.76,190.79 L488.79,190.84 L488.84,190.91 L488.89,190.98 L488.95,191.07 L489.02,191.16 L489.09,191.27 L489.18,191.39 L489.27,191.52 L489.37,191.66 L489.48,191.81 L489.59,191.97 L489.72,192.14 L489.85,192.32 L489.99,192.51 L490.14,192.71 L490.29,192.92 L490.45,193.14 L490.62,193.37 L490.8,193.6 L490.98,193.85 L491.17,194.1 L491.37,194.36 L491.58,194.63 L491.79,194.9 L492.01,195.18 L492.24,195.47 L492.48,195.77 L492.72,196.07 L492.97,196.37 L493.22,196.69 L493.49,197 L493.75,197.33 L494.03,197.65 L494.31,197.99 L494.6,198.32 L494.89,198.66 L495.19,199.01 L495.5,199.36 L495.81,199.71 L496.13,200.06 L496.46,200.42 L496.79,200.77" fill="none" stroke="#000" stroke-width="1.25" stroke-dasharray="3.7 1.7"/>
<path d="M506.13,209.56 L506.57,209.91 L507.01,210.26 L507.45,210.61 L507.89,210.96 L508.34,211.3 L508.79,211.64 L509.24,211.98 L509.69,212.32 L510.14,212.65 L510.6,212.98 L511.05,213.31 L511.51,213.64 L511.97,213.96 L512.43,214.28 L512.89,214.59 L513.35,214.9 L513.81,215.21 L514.27,215.52 L514.74,215.82 L515.2,216.12" fill="none" stroke="#000" stroke-width="1.25" stroke-dasharray="3.7 1.7"/>
<text x="501.8" y="208" text-anchor="middle" font-size="7.2" font-family="Liberation Sans, sans-serif" fill="#111">0.9</text>
<rect x="372.4" y="194.5" width="34.1" height="32" rx="1.5" fill="#fff" fill-opacity="0.8" stroke="#d4d4d4" stroke-width="0.6"/>
<circle cx="382.2" cy="200.8" r="2.06" fill="none" stroke="#111" stroke-width="0.8"/>
<text x="386.8" y="203.3" font-size="7.1" font-family="Liberation Sans, sans-serif" fill="#111">HiFi</text>
<rect x="380.1" y="208.65" width="4.2" height="4.2" fill="none" stroke="#111" stroke-width="0.8"/>
<text x="386.8" y="213.25" font-size="7.1" font-family="Liberation Sans, sans-serif" fill="#111">ONT</text>
<path d="M382.5,218.2L384.85,221L382.5,223.8L380.15,221Z" fill="none" stroke="#111" stroke-width="1.0"/>
<text x="386.8" y="223.2" font-size="7.1" font-family="Liberation Sans, sans-serif" fill="#111">CLR</text>
<circle cx="495.3" cy="238.9" r="2.16" fill="#1f77b4" stroke="#111" stroke-width="0.6"/>
<rect x="490.9" y="256.2" width="4.4" height="4.4" fill="#1f77b4" stroke="#111" stroke-width="0.6"/>
<path d="M498.5,258.26L500.92,260.9L498.5,263.54L496.08,260.9Z" fill="#1f77b4" stroke="#111" stroke-width="0.9"/>
<circle cx="478.3" cy="296.3" r="2.16" fill="#ff7f0e" stroke="#111" stroke-width="0.6"/>
<circle cx="474.3" cy="303.3" r="2.16" fill="#bcbd22" stroke="#111" stroke-width="0.6"/>
<circle cx="487" cy="302.7" r="2.16" fill="#2ca02c" stroke="#111" stroke-width="0.6"/>
<rect x="480.5" y="303.6" width="4.4" height="4.4" fill="#ff7f0e" stroke="#111" stroke-width="0.6"/>
<path d="M487.5,305.36L489.92,308L487.5,310.64L485.08,308Z" fill="#ff7f0e" stroke="#111" stroke-width="0.9"/>
<path d="M483.3,305.96L485.72,308.6L483.3,311.24L480.88,308.6Z" fill="#2ca02c" stroke="#111" stroke-width="0.9"/>
<rect x="475.3" y="307.8" width="4.4" height="4.4" fill="#2ca02c" stroke="#111" stroke-width="0.6"/>
<circle cx="461.5" cy="312.3" r="2.16" fill="#9467bd" stroke="#111" stroke-width="0.6"/>
<path d="M466.3,314.46L468.72,317.1L466.3,319.74L463.88,317.1Z" fill="#9467bd" stroke="#111" stroke-width="0.9"/>
<rect x="465.4" y="318.6" width="4.4" height="4.4" fill="#bcbd22" stroke="#111" stroke-width="0.6"/>
<path d="M475,319.56L477.42,322.2L475,324.84L472.58,322.2Z" fill="#bcbd22" stroke="#111" stroke-width="0.9"/>
<rect x="441.5" y="323.3" width="4.4" height="4.4" fill="#9467bd" stroke="#111" stroke-width="0.6"/>
<rect x="369.4" y="190.7" width="145.8" height="139.8" fill="none" stroke="#555" stroke-width="0.9"/>
<line x1="398.56" y1="330.5" x2="398.56" y2="332.8" stroke="#555" stroke-width="0.8"/>
<text x="398.56" y="337.85" text-anchor="middle" font-size="7.1" font-family="Liberation Sans, sans-serif" fill="#111">0.2</text>
<line x1="367.1" y1="302.54" x2="369.4" y2="302.54" stroke="#555" stroke-width="0.8"/>
<text x="366.4" y="305.44" text-anchor="end" font-size="7.1" font-family="Liberation Sans, sans-serif" fill="#111">0.2</text>
<line x1="427.72" y1="330.5" x2="427.72" y2="332.8" stroke="#555" stroke-width="0.8"/>
<text x="427.72" y="337.85" text-anchor="middle" font-size="7.1" font-family="Liberation Sans, sans-serif" fill="#111">0.4</text>
<line x1="367.1" y1="274.58" x2="369.4" y2="274.58" stroke="#555" stroke-width="0.8"/>
<text x="366.4" y="277.48" text-anchor="end" font-size="7.1" font-family="Liberation Sans, sans-serif" fill="#111">0.4</text>
<line x1="456.88" y1="330.5" x2="456.88" y2="332.8" stroke="#555" stroke-width="0.8"/>
<text x="456.88" y="337.85" text-anchor="middle" font-size="7.1" font-family="Liberation Sans, sans-serif" fill="#111">0.6</text>
<line x1="367.1" y1="246.62" x2="369.4" y2="246.62" stroke="#555" stroke-width="0.8"/>
<text x="366.4" y="249.52" text-anchor="end" font-size="7.1" font-family="Liberation Sans, sans-serif" fill="#111">0.6</text>
<line x1="486.04" y1="330.5" x2="486.04" y2="332.8" stroke="#555" stroke-width="0.8"/>
<text x="486.04" y="337.85" text-anchor="middle" font-size="7.1" font-family="Liberation Sans, sans-serif" fill="#111">0.8</text>
<line x1="367.1" y1="218.66" x2="369.4" y2="218.66" stroke="#555" stroke-width="0.8"/>
<text x="366.4" y="221.56" text-anchor="end" font-size="7.1" font-family="Liberation Sans, sans-serif" fill="#111">0.8</text>
<line x1="515.2" y1="330.5" x2="515.2" y2="332.8" stroke="#555" stroke-width="0.8"/>
<text x="515.2" y="337.85" text-anchor="middle" font-size="7.1" font-family="Liberation Sans, sans-serif" fill="#111">1.0</text>
<line x1="367.1" y1="190.7" x2="369.4" y2="190.7" stroke="#555" stroke-width="0.8"/>
<text x="366.4" y="193.6" text-anchor="end" font-size="7.1" font-family="Liberation Sans, sans-serif" fill="#111">1.0</text>
<text x="442.4" y="186.0" text-anchor="middle" font-size="8.6" font-family="Liberation Serif, serif" fill="#111">5X (repeats)</text>
<text x="450.9" y="343.8" text-anchor="middle" font-size="7.3" font-family="Liberation Sans, sans-serif" fill="#111">Precision</text>
<text x="-0.9" y="8.9" font-size="11.5" font-family="Liberation Sans, sans-serif" fill="#111">a</text>
<line x1="554" y1="24.8" x2="554" y2="174.4" stroke="#d0d0d0" stroke-width="0.9"/>
<line x1="579.6" y1="24.8" x2="579.6" y2="174.4" stroke="#d0d0d0" stroke-width="0.9"/>
<line x1="604.4" y1="24.8" x2="604.4" y2="174.4" stroke="#d0d0d0" stroke-width="0.9"/>
<line x1="628.6" y1="24.8" x2="628.6" y2="174.4" stroke="#d0d0d0" stroke-width="0.9"/>
<line x1="652.9" y1="24.8" x2="652.9" y2="174.4" stroke="#d0d0d0" stroke-width="0.9"/>
<line x1="551.5" y1="31.5" x2="674.3" y2="31.5" stroke="#d0d0d0" stroke-width="0.9"/>
<line x1="551.5" y1="60.15" x2="674.3" y2="60.15" stroke="#d0d0d0" stroke-width="0.9"/>
<line x1="551.5" y1="95.97" x2="674.3" y2="95.97" stroke="#d0d0d0" stroke-width="0.9"/>
<line x1="551.5" y1="131.78" x2="674.3" y2="131.78" stroke="#d0d0d0" stroke-width="0.9"/>
<line x1="551.5" y1="167.6" x2="674.3" y2="167.6" stroke="#d0d0d0" stroke-width="0.9"/>
<path d="M612,31.5 L590.6,38.66 L580.7,45.83 L578,52.99 L575.3,60.15 L572.6,67.31 L572,74.48 L571,81.64 L571,88.8 L570.5,95.97 L570,103.13 L569.5,110.29 L569.5,117.46 L569.5,124.62 L569.5,131.78 L569.5,138.94 L569.5,146.11 L569.5,153.27 L569,160.43 L567,167.6" fill="none" stroke="#9467bd" stroke-opacity="0.234" stroke-width="0.75" stroke-dasharray="2 1.1"/>
<circle cx="612" cy="31.5" r="1.75" fill="#9467bd" fill-opacity="0.26"/>
<circle cx="590.6" cy="38.66" r="1.75" fill="#9467bd" fill-opacity="0.26"/>
<circle cx="580.7" cy="45.83" r="1.75" fill="#9467bd" fill-opacity="0.26"/>
<circle cx="578" cy="52.99" r="1.75" fill="#9467bd" fill-opacity="0.26"/>
<circle cx="575.3" cy="60.15" r="1.75" fill="#9467bd" fill-opacity="0.26"/>
<circle cx="572.6" cy="67.31" r="1.75" fill="#9467bd" fill-opacity="0.26"/>
<circle cx="572" cy="74.48" r="1.75" fill="#9467bd" fill-opacity="0.26"/>
<circle cx="571" cy="81.64" r="1.75" fill="#9467bd" fill-opacity="0.26"/>
<circle cx="571" cy="88.8" r="1.75" fill="#9467bd" fill-opacity="0.26"/>
<circle cx="570.5" cy="95.97" r="1.75" fill="#9467bd" fill-opacity="0.26"/>
<circle cx="570" cy="103.13" r="1.75" fill="#9467bd" fill-opacity="0.26"/>
<circle cx="569.5" cy="110.29" r="1.75" fill="#9467bd" fill-opacity="0.26"/>
<circle cx="569.5" cy="117.46" r="1.75" fill="#9467bd" fill-opacity="0.26"/>
<circle cx="569.5" cy="124.62" r="1.75" fill="#9467bd" fill-opacity="0.26"/>
<circle cx="569.5" cy="131.78" r="1.75" fill="#9467bd" fill-opacity="0.26"/>
<circle cx="569.5" cy="138.94" r="1.75" fill="#9467bd" fill-opacity="0.26"/>
<circle cx="569.5" cy="146.11" r="1.75" fill="#9467bd" fill-opacity="0.26"/>
<circle cx="569.5" cy="153.27" r="1.75" fill="#9467bd" fill-opacity="0.26"/>
<circle cx="569" cy="160.43" r="1.75" fill="#9467bd" fill-opacity="0.26"/>
<circle cx="567" cy="167.6" r="1.75" fill="#9467bd" fill-opacity="0.26"/>
<path d="M625,31.5 L609.5,38.66 L598.3,45.83 L593.7,52.99 L593,60.15 L589.7,67.31 L587.9,74.48 L584.3,81.64 L582.9,88.8 L582.2,95.97 L580.7,103.13 L579.8,110.29 L578.9,117.46 L578,124.62 L576,131.78 L572,138.94 L567.3,146.11 L565,153.27 L562.8,160.43 L557.4,167.6" fill="none" stroke="#2ca02c" stroke-opacity="0.234" stroke-width="0.75" stroke-dasharray="2 1.1"/>
<circle cx="625" cy="31.5" r="1.75" fill="#2ca02c" fill-opacity="0.26"/>
<circle cx="609.5" cy="38.66" r="1.75" fill="#2ca02c" fill-opacity="0.26"/>
<circle cx="598.3" cy="45.83" r="1.75" fill="#2ca02c" fill-opacity="0.26"/>
<circle cx="593.7" cy="52.99" r="1.75" fill="#2ca02c" fill-opacity="0.26"/>
<circle cx="593" cy="60.15" r="1.75" fill="#2ca02c" fill-opacity="0.26"/>
<circle cx="589.7" cy="67.31" r="1.75" fill="#2ca02c" fill-opacity="0.26"/>
<circle cx="587.9" cy="74.48" r="1.75" fill="#2ca02c" fill-opacity="0.26"/>
<circle cx="584.3" cy="81.64" r="1.75" fill="#2ca02c" fill-opacity="0.26"/>
<circle cx="582.9" cy="88.8" r="1.75" fill="#2ca02c" fill-opacity="0.26"/>
<circle cx="582.2" cy="95.97" r="1.75" fill="#2ca02c" fill-opacity="0.26"/>
<circle cx="580.7" cy="103.13" r="1.75" fill="#2ca02c" fill-opacity="0.26"/>
<circle cx="579.8" cy="110.29" r="1.75" fill="#2ca02c" fill-opacity="0.26"/>
<circle cx="578.9" cy="117.46" r="1.75" fill="#2ca02c" fill-opacity="0.26"/>
<circle cx="578" cy="124.62" r="1.75" fill="#2ca02c" fill-opacity="0.26"/>
<circle cx="576" cy="131.78" r="1.75" fill="#2ca02c" fill-opacity="0.26"/>
<circle cx="572" cy="138.94" r="1.75" fill="#2ca02c" fill-opacity="0.26"/>
<circle cx="567.3" cy="146.11" r="1.75" fill="#2ca02c" fill-opacity="0.26"/>
<circle cx="565" cy="153.27" r="1.75" fill="#2ca02c" fill-opacity="0.26"/>
<circle cx="562.8" cy="160.43" r="1.75" fill="#2ca02c" fill-opacity="0.26"/>
<circle cx="557.4" cy="167.6" r="1.75" fill="#2ca02c" fill-opacity="0.26"/>
<path d="M632.4,31.5 L615,38.66 L603,45.83 L598,52.99 L594.5,60.15 L591,67.31 L588,74.48 L586,81.64 L584,88.8 L583,95.97 L581.5,103.13 L580.5,110.29 L580,117.46 L579.5,124.62 L579,131.78 L578.5,138.94 L578,146.11 L577.5,153.27 L577.1,160.43 L578.9,167.6" fill="none" stroke="#bcbd22" stroke-opacity="0.234" stroke-width="0.75" stroke-dasharray="2 1.1"/>
<circle cx="632.4" cy="31.5" r="1.75" fill="#bcbd22" fill-opacity="0.26"/>
<circle cx="615" cy="38.66" r="1.75" fill="#bcbd22" fill-opacity="0.26"/>
<circle cx="603" cy="45.83" r="1.75" fill="#bcbd22" fill-opacity="0.26"/>
<circle cx="598" cy="52.99" r="1.75" fill="#bcbd22" fill-opacity="0.26"/>
<circle cx="594.5" cy="60.15" r="1.75" fill="#bcbd22" fill-opacity="0.26"/>
<circle cx="591" cy="67.31" r="1.75" fill="#bcbd22" fill-opacity="0.26"/>
<circle cx="588" cy="74.48" r="1.75" fill="#bcbd22" fill-opacity="0.26"/>
<circle cx="586" cy="81.64" r="1.75" fill="#bcbd22" fill-opacity="0.26"/>
<circle cx="584" cy="88.8" r="1.75" fill="#bcbd22" fill-opacity="0.26"/>
<circle cx="583" cy="95.97" r="1.75" fill="#bcbd22" fill-opacity="0.26"/>
<circle cx="581.5" cy="103.13" r="1.75" fill="#bcbd22" fill-opacity="0.26"/>
<circle cx="580.5" cy="110.29" r="1.75" fill="#bcbd22" fill-opacity="0.26"/>
<circle cx="580" cy="117.46" r="1.75" fill="#bcbd22" fill-opacity="0.26"/>
<circle cx="579.5" cy="124.62" r="1.75" fill="#bcbd22" fill-opacity="0.26"/>
<circle cx="579" cy="131.78" r="1.75" fill="#bcbd22" fill-opacity="0.26"/>
<circle cx="578.5" cy="138.94" r="1.75" fill="#bcbd22" fill-opacity="0.26"/>
<circle cx="578" cy="146.11" r="1.75" fill="#bcbd22" fill-opacity="0.26"/>
<circle cx="577.5" cy="153.27" r="1.75" fill="#bcbd22" fill-opacity="0.26"/>
<circle cx="577.1" cy="160.43" r="1.75" fill="#bcbd22" fill-opacity="0.26"/>
<circle cx="578.9" cy="167.6" r="1.75" fill="#bcbd22" fill-opacity="0.26"/>
<path d="M620,31.5 L611,38.66 L602.3,45.83 L597.8,52.99 L597,60.15 L598,67.31 L596.5,74.48 L593,81.64 L592.4,88.8 L591,95.97 L590.5,103.13 L590,110.29 L589.2,117.46 L590.6,124.62 L592.4,131.78 L593,138.94 L591.9,146.11 L598.3,153.27 L596.9,160.43 L606.8,167.6" fill="none" stroke="#ff7f0e" stroke-opacity="0.234" stroke-width="0.75" stroke-dasharray="2 1.1"/>
<circle cx="620" cy="31.5" r="1.75" fill="#ff7f0e" fill-opacity="0.26"/>
<circle cx="611" cy="38.66" r="1.75" fill="#ff7f0e" fill-opacity="0.26"/>
<circle cx="602.3" cy="45.83" r="1.75" fill="#ff7f0e" fill-opacity="0.26"/>
<circle cx="597.8" cy="52.99" r="1.75" fill="#ff7f0e" fill-opacity="0.26"/>
<circle cx="597" cy="60.15" r="1.75" fill="#ff7f0e" fill-opacity="0.26"/>
<circle cx="598" cy="67.31" r="1.75" fill="#ff7f0e" fill-opacity="0.26"/>
<circle cx="596.5" cy="74.48" r="1.75" fill="#ff7f0e" fill-opacity="0.26"/>
<circle cx="593" cy="81.64" r="1.75" fill="#ff7f0e" fill-opacity="0.26"/>
<circle cx="592.4" cy="88.8" r="1.75" fill="#ff7f0e" fill-opacity="0.26"/>
<circle cx="591" cy="95.97" r="1.75" fill="#ff7f0e" fill-opacity="0.26"/>
<circle cx="590.5" cy="103.13" r="1.75" fill="#ff7f0e" fill-opacity="0.26"/>
<circle cx="590" cy="110.29" r="1.75" fill="#ff7f0e" fill-opacity="0.26"/>
<circle cx="589.2" cy="117.46" r="1.75" fill="#ff7f0e" fill-opacity="0.26"/>
<circle cx="590.6" cy="124.62" r="1.75" fill="#ff7f0e" fill-opacity="0.26"/>
<circle cx="592.4" cy="131.78" r="1.75" fill="#ff7f0e" fill-opacity="0.26"/>
<circle cx="593" cy="138.94" r="1.75" fill="#ff7f0e" fill-opacity="0.26"/>
<circle cx="591.9" cy="146.11" r="1.75" fill="#ff7f0e" fill-opacity="0.26"/>
<circle cx="598.3" cy="153.27" r="1.75" fill="#ff7f0e" fill-opacity="0.26"/>
<circle cx="596.9" cy="160.43" r="1.75" fill="#ff7f0e" fill-opacity="0.26"/>
<circle cx="606.8" cy="167.6" r="1.75" fill="#ff7f0e" fill-opacity="0.26"/>
<path d="M667,31.5 L666,38.66 L664.2,45.83 L661.5,52.99 L659.4,60.15 L658.5,67.31 L657,74.48 L654,81.64 L652.9,88.8 L653.5,95.97 L652,103.13 L650.8,110.29 L649.5,117.46 L649,124.62 L645,131.78 L644,138.94 L643,146.11 L644.5,153.27 L629.6,160.43 L666,167.6" fill="none" stroke="#1f77b4" stroke-opacity="0.234" stroke-width="0.75" stroke-dasharray="2 1.1"/>
<circle cx="667" cy="31.5" r="1.75" fill="#1f77b4" fill-opacity="0.26"/>
<circle cx="666" cy="38.66" r="1.75" fill="#1f77b4" fill-opacity="0.26"/>
<circle cx="664.2" cy="45.83" r="1.75" fill="#1f77b4" fill-opacity="0.26"/>
<circle cx="661.5" cy="52.99" r="1.75" fill="#1f77b4" fill-opacity="0.26"/>
<circle cx="659.4" cy="60.15" r="1.75" fill="#1f77b4" fill-opacity="0.26"/>
<circle cx="658.5" cy="67.31" r="1.75" fill="#1f77b4" fill-opacity="0.26"/>
<circle cx="657" cy="74.48" r="1.75" fill="#1f77b4" fill-opacity="0.26"/>
<circle cx="654" cy="81.64" r="1.75" fill="#1f77b4" fill-opacity="0.26"/>
<circle cx="652.9" cy="88.8" r="1.75" fill="#1f77b4" fill-opacity="0.26"/>
<circle cx="653.5" cy="95.97" r="1.75" fill="#1f77b4" fill-opacity="0.26"/>
<circle cx="652" cy="103.13" r="1.75" fill="#1f77b4" fill-opacity="0.26"/>
<circle cx="650.8" cy="110.29" r="1.75" fill="#1f77b4" fill-opacity="0.26"/>
<circle cx="649.5" cy="117.46" r="1.75" fill="#1f77b4" fill-opacity="0.26"/>
<circle cx="649" cy="124.62" r="1.75" fill="#1f77b4" fill-opacity="0.26"/>
<circle cx="645" cy="131.78" r="1.75" fill="#1f77b4" fill-opacity="0.26"/>
<circle cx="644" cy="138.94" r="1.75" fill="#1f77b4" fill-opacity="0.26"/>
<circle cx="643" cy="146.11" r="1.75" fill="#1f77b4" fill-opacity="0.26"/>
<circle cx="644.5" cy="153.27" r="1.75" fill="#1f77b4" fill-opacity="0.26"/>
<circle cx="629.6" cy="160.43" r="1.75" fill="#1f77b4" fill-opacity="0.26"/>
<circle cx="666" cy="167.6" r="1.75" fill="#1f77b4" fill-opacity="0.26"/>
<path d="M614,31.5 L596.9,38.66 L584.7,45.83 L581.1,52.99 L577.7,60.15 L575.3,67.31 L575,74.48 L573.2,81.64 L573.2,88.8 L572.6,95.97 L572.1,103.13 L571.4,110.29 L571.6,117.46 L571.8,124.62 L572.1,131.78 L572.3,138.94 L572.3,146.11 L572.6,153.27 L572.6,160.43 L569.1,167.6" fill="none" stroke="#9467bd" stroke-opacity="0.85" stroke-width="0.75" stroke-dasharray="2 1.1"/>
<circle cx="614" cy="31.5" r="1.75" fill="#9467bd"/>
<circle cx="596.9" cy="38.66" r="1.75" fill="#9467bd"/>
<circle cx="584.7" cy="45.83" r="1.75" fill="#9467bd"/>
<circle cx="581.1" cy="52.99" r="1.75" fill="#9467bd"/>
<circle cx="577.7" cy="60.15" r="1.75" fill="#9467bd"/>
<circle cx="575.3" cy="67.31" r="1.75" fill="#9467bd"/>
<circle cx="575" cy="74.48" r="1.75" fill="#9467bd"/>
<circle cx="573.2" cy="81.64" r="1.75" fill="#9467bd"/>
<circle cx="573.2" cy="88.8" r="1.75" fill="#9467bd"/>
<circle cx="572.6" cy="95.97" r="1.75" fill="#9467bd"/>
<circle cx="572.1" cy="103.13" r="1.75" fill="#9467bd"/>
<circle cx="571.4" cy="110.29" r="1.75" fill="#9467bd"/>
<circle cx="571.6" cy="117.46" r="1.75" fill="#9467bd"/>
<circle cx="571.8" cy="124.62" r="1.75" fill="#9467bd"/>
<circle cx="572.1" cy="131.78" r="1.75" fill="#9467bd"/>
<circle cx="572.3" cy="138.94" r="1.75" fill="#9467bd"/>
<circle cx="572.3" cy="146.11" r="1.75" fill="#9467bd"/>
<circle cx="572.6" cy="153.27" r="1.75" fill="#9467bd"/>
<circle cx="572.6" cy="160.43" r="1.75" fill="#9467bd"/>
<circle cx="569.1" cy="167.6" r="1.75" fill="#9467bd"/>
<path d="M618.8,31.5 L618.3,38.66 L614.5,45.83 L609.8,52.99 L608,60.15 L607.7,67.31 L605.9,74.48 L605,81.64 L605,88.8 L603.7,95.97 L604.1,103.13 L604.1,110.29 L602.6,117.46 L604.1,124.62 L605.5,131.78 L606.2,138.94 L607.1,146.11 L610.9,153.27 L609.8,160.43 L617.5,167.6" fill="none" stroke="#ff7f0e" stroke-opacity="0.85" stroke-width="0.75" stroke-dasharray="2 1.1"/>
<circle cx="618.8" cy="31.5" r="1.75" fill="#ff7f0e"/>
<circle cx="618.3" cy="38.66" r="1.75" fill="#ff7f0e"/>
<circle cx="614.5" cy="45.83" r="1.75" fill="#ff7f0e"/>
<circle cx="609.8" cy="52.99" r="1.75" fill="#ff7f0e"/>
<circle cx="608" cy="60.15" r="1.75" fill="#ff7f0e"/>
<circle cx="607.7" cy="67.31" r="1.75" fill="#ff7f0e"/>
<circle cx="605.9" cy="74.48" r="1.75" fill="#ff7f0e"/>
<circle cx="605" cy="81.64" r="1.75" fill="#ff7f0e"/>
<circle cx="605" cy="88.8" r="1.75" fill="#ff7f0e"/>
<circle cx="603.7" cy="95.97" r="1.75" fill="#ff7f0e"/>
<circle cx="604.1" cy="103.13" r="1.75" fill="#ff7f0e"/>
<circle cx="604.1" cy="110.29" r="1.75" fill="#ff7f0e"/>
<circle cx="602.6" cy="117.46" r="1.75" fill="#ff7f0e"/>
<circle cx="604.1" cy="124.62" r="1.75" fill="#ff7f0e"/>
<circle cx="605.5" cy="131.78" r="1.75" fill="#ff7f0e"/>
<circle cx="606.2" cy="138.94" r="1.75" fill="#ff7f0e"/>
<circle cx="607.1" cy="146.11" r="1.75" fill="#ff7f0e"/>
<circle cx="610.9" cy="153.27" r="1.75" fill="#ff7f0e"/>
<circle cx="609.8" cy="160.43" r="1.75" fill="#ff7f0e"/>
<circle cx="617.5" cy="167.6" r="1.75" fill="#ff7f0e"/>
<path d="M622,31.5 L618.8,38.66 L607.7,45.83 L600.8,52.99 L596.5,60.15 L593.8,67.31 L591.1,74.48 L589.4,81.64 L588.5,88.8 L587,95.97 L587,103.13 L585.2,110.29 L585.4,117.46 L585.2,124.62 L584.9,131.78 L584.3,138.94 L582.9,146.11 L584.7,153.27 L581.6,160.43 L591.5,167.6" fill="none" stroke="#bcbd22" stroke-opacity="0.85" stroke-width="0.75" stroke-dasharray="2 1.1"/>
<circle cx="622" cy="31.5" r="1.75" fill="#bcbd22"/>
<circle cx="618.8" cy="38.66" r="1.75" fill="#bcbd22"/>
<circle cx="607.7" cy="45.83" r="1.75" fill="#bcbd22"/>
<circle cx="600.8" cy="52.99" r="1.75" fill="#bcbd22"/>
<circle cx="596.5" cy="60.15" r="1.75" fill="#bcbd22"/>
<circle cx="593.8" cy="67.31" r="1.75" fill="#bcbd22"/>
<circle cx="591.1" cy="74.48" r="1.75" fill="#bcbd22"/>
<circle cx="589.4" cy="81.64" r="1.75" fill="#bcbd22"/>
<circle cx="588.5" cy="88.8" r="1.75" fill="#bcbd22"/>
<circle cx="587" cy="95.97" r="1.75" fill="#bcbd22"/>
<circle cx="587" cy="103.13" r="1.75" fill="#bcbd22"/>
<circle cx="585.2" cy="110.29" r="1.75" fill="#bcbd22"/>
<circle cx="585.4" cy="117.46" r="1.75" fill="#bcbd22"/>
<circle cx="585.2" cy="124.62" r="1.75" fill="#bcbd22"/>
<circle cx="584.9" cy="131.78" r="1.75" fill="#bcbd22"/>
<circle cx="584.3" cy="138.94" r="1.75" fill="#bcbd22"/>
<circle cx="582.9" cy="146.11" r="1.75" fill="#bcbd22"/>
<circle cx="584.7" cy="153.27" r="1.75" fill="#bcbd22"/>
<circle cx="581.6" cy="160.43" r="1.75" fill="#bcbd22"/>
<circle cx="591.5" cy="167.6" r="1.75" fill="#bcbd22"/>
<path d="M650.4,31.5 L642.7,38.66 L629.6,45.83 L623.3,52.99 L617.5,60.15 L611.3,67.31 L609.1,74.48 L604.1,81.64 L603.5,88.8 L601.4,95.97 L601,103.13 L599.6,110.29 L596.5,117.46 L593.7,124.62 L589.4,131.78 L585,138.94 L578.9,146.11 L573.9,153.27 L568.5,160.43 L565.1,167.6" fill="none" stroke="#2ca02c" stroke-opacity="0.85" stroke-width="0.75" stroke-dasharray="2 1.1"/>
<circle cx="650.4" cy="31.5" r="1.75" fill="#2ca02c"/>
<circle cx="642.7" cy="38.66" r="1.75" fill="#2ca02c"/>
<circle cx="629.6" cy="45.83" r="1.75" fill="#2ca02c"/>
<circle cx="623.3" cy="52.99" r="1.75" fill="#2ca02c"/>
<circle cx="617.5" cy="60.15" r="1.75" fill="#2ca02c"/>
<circle cx="611.3" cy="67.31" r="1.75" fill="#2ca02c"/>
<circle cx="609.1" cy="74.48" r="1.75" fill="#2ca02c"/>
<circle cx="604.1" cy="81.64" r="1.75" fill="#2ca02c"/>
<circle cx="603.5" cy="88.8" r="1.75" fill="#2ca02c"/>
<circle cx="601.4" cy="95.97" r="1.75" fill="#2ca02c"/>
<circle cx="601" cy="103.13" r="1.75" fill="#2ca02c"/>
<circle cx="599.6" cy="110.29" r="1.75" fill="#2ca02c"/>
<circle cx="596.5" cy="117.46" r="1.75" fill="#2ca02c"/>
<circle cx="593.7" cy="124.62" r="1.75" fill="#2ca02c"/>
<circle cx="589.4" cy="131.78" r="1.75" fill="#2ca02c"/>
<circle cx="585" cy="138.94" r="1.75" fill="#2ca02c"/>
<circle cx="578.9" cy="146.11" r="1.75" fill="#2ca02c"/>
<circle cx="573.9" cy="153.27" r="1.75" fill="#2ca02c"/>
<circle cx="568.5" cy="160.43" r="1.75" fill="#2ca02c"/>
<circle cx="565.1" cy="167.6" r="1.75" fill="#2ca02c"/>
<path d="M667.8,31.5 L668.7,38.66 L666,45.83 L664.2,52.99 L661.9,60.15 L660.1,67.31 L660.3,74.48 L657.4,81.64 L656.7,88.8 L656.5,95.97 L655.6,103.13 L654.7,110.29 L653.5,117.46 L653.1,124.62 L649.3,131.78 L647.2,138.94 L644.5,146.11 L640.9,153.27 L634.6,160.43 L638.2,167.6" fill="none" stroke="#1f77b4" stroke-opacity="0.85" stroke-width="0.75" stroke-dasharray="2 1.1"/>
<circle cx="667.8" cy="31.5" r="1.75" fill="#1f77b4"/>
<circle cx="668.7" cy="38.66" r="1.75" fill="#1f77b4"/>
<circle cx="666" cy="45.83" r="1.75" fill="#1f77b4"/>
<circle cx="664.2" cy="52.99" r="1.75" fill="#1f77b4"/>
<circle cx="661.9" cy="60.15" r="1.75" fill="#1f77b4"/>
<circle cx="660.1" cy="67.31" r="1.75" fill="#1f77b4"/>
<circle cx="660.3" cy="74.48" r="1.75" fill="#1f77b4"/>
<circle cx="657.4" cy="81.64" r="1.75" fill="#1f77b4"/>
<circle cx="656.7" cy="88.8" r="1.75" fill="#1f77b4"/>
<circle cx="656.5" cy="95.97" r="1.75" fill="#1f77b4"/>
<circle cx="655.6" cy="103.13" r="1.75" fill="#1f77b4"/>
<circle cx="654.7" cy="110.29" r="1.75" fill="#1f77b4"/>
<circle cx="653.5" cy="117.46" r="1.75" fill="#1f77b4"/>
<circle cx="653.1" cy="124.62" r="1.75" fill="#1f77b4"/>
<circle cx="649.3" cy="131.78" r="1.75" fill="#1f77b4"/>
<circle cx="647.2" cy="138.94" r="1.75" fill="#1f77b4"/>
<circle cx="644.5" cy="146.11" r="1.75" fill="#1f77b4"/>
<circle cx="640.9" cy="153.27" r="1.75" fill="#1f77b4"/>
<circle cx="634.6" cy="160.43" r="1.75" fill="#1f77b4"/>
<circle cx="638.2" cy="167.6" r="1.75" fill="#1f77b4"/>
<rect x="551.5" y="24.8" width="122.8" height="149.6" fill="none" stroke="#707070" stroke-width="0.9"/>
<line x1="554" y1="23" x2="554" y2="24.8" stroke="#666" stroke-width="0.7"/>
<text x="554.8" y="23.1" text-anchor="middle" font-size="7.2" font-family="Liberation Sans, sans-serif" fill="#111">0.</text>
<line x1="579.6" y1="23" x2="579.6" y2="24.8" stroke="#666" stroke-width="0.7"/>
<text x="579.4" y="23.1" text-anchor="middle" font-size="7.2" font-family="Liberation Sans, sans-serif" fill="#111">0.2</text>
<line x1="604.4" y1="23" x2="604.4" y2="24.8" stroke="#666" stroke-width="0.7"/>
<text x="602.3" y="23.1" text-anchor="middle" font-size="7.2" font-family="Liberation Sans, sans-serif" fill="#111">0.4</text>
<line x1="628.6" y1="23" x2="628.6" y2="24.8" stroke="#666" stroke-width="0.7"/>
<text x="627.4" y="23.1" text-anchor="middle" font-size="7.2" font-family="Liberation Sans, sans-serif" fill="#111">0.6</text>
<line x1="652.9" y1="23" x2="652.9" y2="24.8" stroke="#666" stroke-width="0.7"/>
<text x="652.9" y="23.1" text-anchor="middle" font-size="7.2" font-family="Liberation Sans, sans-serif" fill="#111">0.8</text>
<line x1="549.7" y1="31.5" x2="551.5" y2="31.5" stroke="#666" stroke-width="0.7"/>
<text x="550.8" y="34.5" text-anchor="end" font-size="7.2" font-family="Liberation Sans, sans-serif" fill="#111">1</text>
<line x1="549.7" y1="60.15" x2="551.5" y2="60.15" stroke="#666" stroke-width="0.7"/>
<text x="550.8" y="63.15" text-anchor="end" font-size="7.2" font-family="Liberation Sans, sans-serif" fill="#111">5</text>
<line x1="549.7" y1="95.97" x2="551.5" y2="95.97" stroke="#666" stroke-width="0.7"/>
<text x="550.8" y="98.97" text-anchor="end" font-size="7.2" font-family="Liberation Sans, sans-serif" fill="#111">10</text>
<line x1="549.7" y1="131.78" x2="551.5" y2="131.78" stroke="#666" stroke-width="0.7"/>
<text x="550.8" y="134.78" text-anchor="end" font-size="7.2" font-family="Liberation Sans, sans-serif" fill="#111">15</text>
<line x1="549.7" y1="167.6" x2="551.5" y2="167.6" stroke="#666" stroke-width="0.7"/>
<text x="550.8" y="170.6" text-anchor="end" font-size="7.2" font-family="Liberation Sans, sans-serif" fill="#111">20</text>
<text transform="translate(541.2,95.4) rotate(-90)" text-anchor="middle" font-size="7.3" font-family="Liberation Sans, sans-serif" fill="#111">SV complexity</text>
<text transform="translate(680.3,97.9) rotate(90)" text-anchor="middle" font-size="7.2" font-family="Liberation Sans, sans-serif" fill="#111">HiFi</text>
<line x1="557.6" y1="204.4" x2="557.6" y2="354.1" stroke="#d0d0d0" stroke-width="0.9"/>
<line x1="581.3" y1="204.4" x2="581.3" y2="354.1" stroke="#d0d0d0" stroke-width="0.9"/>
<line x1="605.5" y1="204.4" x2="605.5" y2="354.1" stroke="#d0d0d0" stroke-width="0.9"/>
<line x1="629.2" y1="204.4" x2="629.2" y2="354.1" stroke="#d0d0d0" stroke-width="0.9"/>
<line x1="653.6" y1="204.4" x2="653.6" y2="354.1" stroke="#d0d0d0" stroke-width="0.9"/>
<line x1="551.5" y1="211.3" x2="674.3" y2="211.3" stroke="#d0d0d0" stroke-width="0.9"/>
<line x1="551.5" y1="239.95" x2="674.3" y2="239.95" stroke="#d0d0d0" stroke-width="0.9"/>
<line x1="551.5" y1="275.77" x2="674.3" y2="275.77" stroke="#d0d0d0" stroke-width="0.9"/>
<line x1="551.5" y1="311.58" x2="674.3" y2="311.58" stroke="#d0d0d0" stroke-width="0.9"/>
<line x1="551.5" y1="347.4" x2="674.3" y2="347.4" stroke="#d0d0d0" stroke-width="0.9"/>
<path d="M599.7,211.3 L582,218.46 L570.2,225.63 L564.8,232.79 L563.9,239.95 L562.1,247.12 L561.9,254.28 L561,261.44 L560.7,268.6 L560.3,275.77 L560.1,282.93 L560,290.09 L559.8,297.26 L559.8,304.42 L559.2,311.58 L559.4,318.75 L559.8,325.91 L559.8,333.07 L559.4,340.23 L558.3,347.4" fill="none" stroke="#9467bd" stroke-opacity="0.324" stroke-width="0.75" stroke-dasharray="2 1.1"/>
<rect x="598.2" y="209.8" width="3" height="3" fill="#9467bd" fill-opacity="0.36"/>
<rect x="580.5" y="216.96" width="3" height="3" fill="#9467bd" fill-opacity="0.36"/>
<rect x="568.7" y="224.13" width="3" height="3" fill="#9467bd" fill-opacity="0.36"/>
<rect x="563.3" y="231.29" width="3" height="3" fill="#9467bd" fill-opacity="0.36"/>
<rect x="562.4" y="238.45" width="3" height="3" fill="#9467bd" fill-opacity="0.36"/>
<rect x="560.6" y="245.62" width="3" height="3" fill="#9467bd" fill-opacity="0.36"/>
<rect x="560.4" y="252.78" width="3" height="3" fill="#9467bd" fill-opacity="0.36"/>
<rect x="559.5" y="259.94" width="3" height="3" fill="#9467bd" fill-opacity="0.36"/>
<rect x="559.2" y="267.1" width="3" height="3" fill="#9467bd" fill-opacity="0.36"/>
<rect x="558.8" y="274.27" width="3" height="3" fill="#9467bd" fill-opacity="0.36"/>
<rect x="558.6" y="281.43" width="3" height="3" fill="#9467bd" fill-opacity="0.36"/>
<rect x="558.5" y="288.59" width="3" height="3" fill="#9467bd" fill-opacity="0.36"/>
<rect x="558.3" y="295.76" width="3" height="3" fill="#9467bd" fill-opacity="0.36"/>
<rect x="558.3" y="302.92" width="3" height="3" fill="#9467bd" fill-opacity="0.36"/>
<rect x="557.7" y="310.08" width="3" height="3" fill="#9467bd" fill-opacity="0.36"/>
<rect x="557.9" y="317.25" width="3" height="3" fill="#9467bd" fill-opacity="0.36"/>
<rect x="558.3" y="324.41" width="3" height="3" fill="#9467bd" fill-opacity="0.36"/>
<rect x="558.3" y="331.57" width="3" height="3" fill="#9467bd" fill-opacity="0.36"/>
<rect x="557.9" y="338.73" width="3" height="3" fill="#9467bd" fill-opacity="0.36"/>
<rect x="556.8" y="345.9" width="3" height="3" fill="#9467bd" fill-opacity="0.36"/>
<path d="M608,211.3 L600.1,218.46 L581.6,225.63 L576.2,232.79 L573.2,239.95 L568.7,247.12 L567.3,254.28 L566,261.44 L565.5,268.6 L565.5,275.77 L564.9,282.93 L564.6,290.09 L564.2,297.26 L564,304.42 L563,311.58 L562,318.75 L561.5,325.91 L561,333.07 L560.5,340.23 L560,347.4" fill="none" stroke="#bcbd22" stroke-opacity="0.324" stroke-width="0.75" stroke-dasharray="2 1.1"/>
<rect x="606.5" y="209.8" width="3" height="3" fill="#bcbd22" fill-opacity="0.36"/>
<rect x="598.6" y="216.96" width="3" height="3" fill="#bcbd22" fill-opacity="0.36"/>
<rect x="580.1" y="224.13" width="3" height="3" fill="#bcbd22" fill-opacity="0.36"/>
<rect x="574.7" y="231.29" width="3" height="3" fill="#bcbd22" fill-opacity="0.36"/>
<rect x="571.7" y="238.45" width="3" height="3" fill="#bcbd22" fill-opacity="0.36"/>
<rect x="567.2" y="245.62" width="3" height="3" fill="#bcbd22" fill-opacity="0.36"/>
<rect x="565.8" y="252.78" width="3" height="3" fill="#bcbd22" fill-opacity="0.36"/>
<rect x="564.5" y="259.94" width="3" height="3" fill="#bcbd22" fill-opacity="0.36"/>
<rect x="564" y="267.1" width="3" height="3" fill="#bcbd22" fill-opacity="0.36"/>
<rect x="564" y="274.27" width="3" height="3" fill="#bcbd22" fill-opacity="0.36"/>
<rect x="563.4" y="281.43" width="3" height="3" fill="#bcbd22" fill-opacity="0.36"/>
<rect x="563.1" y="288.59" width="3" height="3" fill="#bcbd22" fill-opacity="0.36"/>
<rect x="562.7" y="295.76" width="3" height="3" fill="#bcbd22" fill-opacity="0.36"/>
<rect x="562.5" y="302.92" width="3" height="3" fill="#bcbd22" fill-opacity="0.36"/>
<rect x="561.5" y="310.08" width="3" height="3" fill="#bcbd22" fill-opacity="0.36"/>
<rect x="560.5" y="317.25" width="3" height="3" fill="#bcbd22" fill-opacity="0.36"/>
<rect x="560" y="324.41" width="3" height="3" fill="#bcbd22" fill-opacity="0.36"/>
<rect x="559.5" y="331.57" width="3" height="3" fill="#bcbd22" fill-opacity="0.36"/>
<rect x="559" y="338.73" width="3" height="3" fill="#bcbd22" fill-opacity="0.36"/>
<rect x="558.5" y="345.9" width="3" height="3" fill="#bcbd22" fill-opacity="0.36"/>
<path d="M610.4,211.3 L605.5,218.46 L592,225.63 L587.6,232.79 L584.9,239.95 L583.1,247.12 L580.7,254.28 L578,261.44 L578,268.6 L577.1,275.77 L574.8,282.93 L574.4,290.09 L573.5,297.26 L573.2,304.42 L570.9,311.58 L568.2,318.75 L566,325.91 L564,333.07 L562,340.23 L560,347.4" fill="none" stroke="#2ca02c" stroke-opacity="0.324" stroke-width="0.75" stroke-dasharray="2 1.1"/>
<rect x="608.9" y="209.8" width="3" height="3" fill="#2ca02c" fill-opacity="0.36"/>
<rect x="604" y="216.96" width="3" height="3" fill="#2ca02c" fill-opacity="0.36"/>
<rect x="590.5" y="224.13" width="3" height="3" fill="#2ca02c" fill-opacity="0.36"/>
<rect x="586.1" y="231.29" width="3" height="3" fill="#2ca02c" fill-opacity="0.36"/>
<rect x="583.4" y="238.45" width="3" height="3" fill="#2ca02c" fill-opacity="0.36"/>
<rect x="581.6" y="245.62" width="3" height="3" fill="#2ca02c" fill-opacity="0.36"/>
<rect x="579.2" y="252.78" width="3" height="3" fill="#2ca02c" fill-opacity="0.36"/>
<rect x="576.5" y="259.94" width="3" height="3" fill="#2ca02c" fill-opacity="0.36"/>
<rect x="576.5" y="267.1" width="3" height="3" fill="#2ca02c" fill-opacity="0.36"/>
<rect x="575.6" y="274.27" width="3" height="3" fill="#2ca02c" fill-opacity="0.36"/>
<rect x="573.3" y="281.43" width="3" height="3" fill="#2ca02c" fill-opacity="0.36"/>
<rect x="572.9" y="288.59" width="3" height="3" fill="#2ca02c" fill-opacity="0.36"/>
<rect x="572" y="295.76" width="3" height="3" fill="#2ca02c" fill-opacity="0.36"/>
<rect x="571.7" y="302.92" width="3" height="3" fill="#2ca02c" fill-opacity="0.36"/>
<rect x="569.4" y="310.08" width="3" height="3" fill="#2ca02c" fill-opacity="0.36"/>
<rect x="566.7" y="317.25" width="3" height="3" fill="#2ca02c" fill-opacity="0.36"/>
<rect x="564.5" y="324.41" width="3" height="3" fill="#2ca02c" fill-opacity="0.36"/>
<rect x="562.5" y="331.57" width="3" height="3" fill="#2ca02c" fill-opacity="0.36"/>
<rect x="560.5" y="338.73" width="3" height="3" fill="#2ca02c" fill-opacity="0.36"/>
<rect x="558.5" y="345.9" width="3" height="3" fill="#2ca02c" fill-opacity="0.36"/>
<path d="M612,211.3 L608,218.46 L598.3,225.63 L591.1,232.79 L592.4,239.95 L589.7,247.12 L590.1,254.28 L586.1,261.44 L586.5,268.6 L584,275.77 L582.9,282.93 L582.2,290.09 L581.6,297.26 L582.5,304.42 L580,311.58 L579.8,318.75 L579.8,325.91 L584.9,333.07 L576.2,340.23 L590.1,347.4" fill="none" stroke="#ff7f0e" stroke-opacity="0.324" stroke-width="0.75" stroke-dasharray="2 1.1"/>
<rect x="610.5" y="209.8" width="3" height="3" fill="#ff7f0e" fill-opacity="0.36"/>
<rect x="606.5" y="216.96" width="3" height="3" fill="#ff7f0e" fill-opacity="0.36"/>
<rect x="596.8" y="224.13" width="3" height="3" fill="#ff7f0e" fill-opacity="0.36"/>
<rect x="589.6" y="231.29" width="3" height="3" fill="#ff7f0e" fill-opacity="0.36"/>
<rect x="590.9" y="238.45" width="3" height="3" fill="#ff7f0e" fill-opacity="0.36"/>
<rect x="588.2" y="245.62" width="3" height="3" fill="#ff7f0e" fill-opacity="0.36"/>
<rect x="588.6" y="252.78" width="3" height="3" fill="#ff7f0e" fill-opacity="0.36"/>
<rect x="584.6" y="259.94" width="3" height="3" fill="#ff7f0e" fill-opacity="0.36"/>
<rect x="585" y="267.1" width="3" height="3" fill="#ff7f0e" fill-opacity="0.36"/>
<rect x="582.5" y="274.27" width="3" height="3" fill="#ff7f0e" fill-opacity="0.36"/>
<rect x="581.4" y="281.43" width="3" height="3" fill="#ff7f0e" fill-opacity="0.36"/>
<rect x="580.7" y="288.59" width="3" height="3" fill="#ff7f0e" fill-opacity="0.36"/>
<rect x="580.1" y="295.76" width="3" height="3" fill="#ff7f0e" fill-opacity="0.36"/>
<rect x="581" y="302.92" width="3" height="3" fill="#ff7f0e" fill-opacity="0.36"/>
<rect x="578.5" y="310.08" width="3" height="3" fill="#ff7f0e" fill-opacity="0.36"/>
<rect x="578.3" y="317.25" width="3" height="3" fill="#ff7f0e" fill-opacity="0.36"/>
<rect x="578.3" y="324.41" width="3" height="3" fill="#ff7f0e" fill-opacity="0.36"/>
<rect x="583.4" y="331.57" width="3" height="3" fill="#ff7f0e" fill-opacity="0.36"/>
<rect x="574.7" y="338.73" width="3" height="3" fill="#ff7f0e" fill-opacity="0.36"/>
<rect x="588.6" y="345.9" width="3" height="3" fill="#ff7f0e" fill-opacity="0.36"/>
<path d="M654.9,211.3 L649.5,218.46 L649.9,225.63 L640,232.79 L643.6,239.95 L644.1,247.12 L640.3,254.28 L635,261.44 L637.3,268.6 L634.6,275.77 L634.2,282.93 L630.6,290.09 L627.4,297.26 L630.1,304.42 L623.8,311.58 L626,318.75 L623.8,325.91 L627.4,333.07 L613,340.23 L608.2,347.4" fill="none" stroke="#1f77b4" stroke-opacity="0.324" stroke-width="0.75" stroke-dasharray="2 1.1"/>
<rect x="653.4" y="209.8" width="3" height="3" fill="#1f77b4" fill-opacity="0.36"/>
<rect x="648" y="216.96" width="3" height="3" fill="#1f77b4" fill-opacity="0.36"/>
<rect x="648.4" y="224.13" width="3" height="3" fill="#1f77b4" fill-opacity="0.36"/>
<rect x="638.5" y="231.29" width="3" height="3" fill="#1f77b4" fill-opacity="0.36"/>
<rect x="642.1" y="238.45" width="3" height="3" fill="#1f77b4" fill-opacity="0.36"/>
<rect x="642.6" y="245.62" width="3" height="3" fill="#1f77b4" fill-opacity="0.36"/>
<rect x="638.8" y="252.78" width="3" height="3" fill="#1f77b4" fill-opacity="0.36"/>
<rect x="633.5" y="259.94" width="3" height="3" fill="#1f77b4" fill-opacity="0.36"/>
<rect x="635.8" y="267.1" width="3" height="3" fill="#1f77b4" fill-opacity="0.36"/>
<rect x="633.1" y="274.27" width="3" height="3" fill="#1f77b4" fill-opacity="0.36"/>
<rect x="632.7" y="281.43" width="3" height="3" fill="#1f77b4" fill-opacity="0.36"/>
<rect x="629.1" y="288.59" width="3" height="3" fill="#1f77b4" fill-opacity="0.36"/>
<rect x="625.9" y="295.76" width="3" height="3" fill="#1f77b4" fill-opacity="0.36"/>
<rect x="628.6" y="302.92" width="3" height="3" fill="#1f77b4" fill-opacity="0.36"/>
<rect x="622.3" y="310.08" width="3" height="3" fill="#1f77b4" fill-opacity="0.36"/>
<rect x="624.5" y="317.25" width="3" height="3" fill="#1f77b4" fill-opacity="0.36"/>
<rect x="622.3" y="324.41" width="3" height="3" fill="#1f77b4" fill-opacity="0.36"/>
<rect x="625.9" y="331.57" width="3" height="3" fill="#1f77b4" fill-opacity="0.36"/>
<rect x="611.5" y="338.73" width="3" height="3" fill="#1f77b4" fill-opacity="0.36"/>
<rect x="606.7" y="345.9" width="3" height="3" fill="#1f77b4" fill-opacity="0.36"/>
<path d="M605.3,211.3 L582.2,218.46 L570.5,225.63 L565.1,232.79 L564.2,239.95 L562.4,247.12 L562.2,254.28 L561.3,261.44 L561,268.6 L560.6,275.77 L560.4,282.93 L560.3,290.09 L560.1,297.26 L560.1,304.42 L559.5,311.58 L559.7,318.75 L560.1,325.91 L560.1,333.07 L559.7,340.23 L558.6,347.4" fill="none" stroke="#9467bd" stroke-opacity="0.85" stroke-width="0.75" stroke-dasharray="2 1.1"/>
<rect x="603.8" y="209.8" width="3" height="3" fill="#9467bd"/>
<rect x="580.7" y="216.96" width="3" height="3" fill="#9467bd"/>
<rect x="569" y="224.13" width="3" height="3" fill="#9467bd"/>
<rect x="563.6" y="231.29" width="3" height="3" fill="#9467bd"/>
<rect x="562.7" y="238.45" width="3" height="3" fill="#9467bd"/>
<rect x="560.9" y="245.62" width="3" height="3" fill="#9467bd"/>
<rect x="560.7" y="252.78" width="3" height="3" fill="#9467bd"/>
<rect x="559.8" y="259.94" width="3" height="3" fill="#9467bd"/>
<rect x="559.5" y="267.1" width="3" height="3" fill="#9467bd"/>
<rect x="559.1" y="274.27" width="3" height="3" fill="#9467bd"/>
<rect x="558.9" y="281.43" width="3" height="3" fill="#9467bd"/>
<rect x="558.8" y="288.59" width="3" height="3" fill="#9467bd"/>
<rect x="558.6" y="295.76" width="3" height="3" fill="#9467bd"/>
<rect x="558.6" y="302.92" width="3" height="3" fill="#9467bd"/>
<rect x="558" y="310.08" width="3" height="3" fill="#9467bd"/>
<rect x="558.2" y="317.25" width="3" height="3" fill="#9467bd"/>
<rect x="558.6" y="324.41" width="3" height="3" fill="#9467bd"/>
<rect x="558.6" y="331.57" width="3" height="3" fill="#9467bd"/>
<rect x="558.2" y="338.73" width="3" height="3" fill="#9467bd"/>
<rect x="557.1" y="345.9" width="3" height="3" fill="#9467bd"/>
<path d="M620.2,211.3 L620.8,218.46 L614,225.63 L608.6,232.79 L604.1,239.95 L604.1,247.12 L602.3,254.28 L599,261.44 L599,268.6 L597.8,275.77 L597.3,282.93 L596,290.09 L594.6,297.26 L595.1,304.42 L594.2,311.58 L592.4,318.75 L592.4,325.91 L593.7,333.07 L587.4,340.23 L594.2,347.4" fill="none" stroke="#ff7f0e" stroke-opacity="0.85" stroke-width="0.75" stroke-dasharray="2 1.1"/>
<rect x="618.7" y="209.8" width="3" height="3" fill="#ff7f0e"/>
<rect x="619.3" y="216.96" width="3" height="3" fill="#ff7f0e"/>
<rect x="612.5" y="224.13" width="3" height="3" fill="#ff7f0e"/>
<rect x="607.1" y="231.29" width="3" height="3" fill="#ff7f0e"/>
<rect x="602.6" y="238.45" width="3" height="3" fill="#ff7f0e"/>
<rect x="602.6" y="245.62" width="3" height="3" fill="#ff7f0e"/>
<rect x="600.8" y="252.78" width="3" height="3" fill="#ff7f0e"/>
<rect x="597.5" y="259.94" width="3" height="3" fill="#ff7f0e"/>
<rect x="597.5" y="267.1" width="3" height="3" fill="#ff7f0e"/>
<rect x="596.3" y="274.27" width="3" height="3" fill="#ff7f0e"/>
<rect x="595.8" y="281.43" width="3" height="3" fill="#ff7f0e"/>
<rect x="594.5" y="288.59" width="3" height="3" fill="#ff7f0e"/>
<rect x="593.1" y="295.76" width="3" height="3" fill="#ff7f0e"/>
<rect x="593.6" y="302.92" width="3" height="3" fill="#ff7f0e"/>
<rect x="592.7" y="310.08" width="3" height="3" fill="#ff7f0e"/>
<rect x="590.9" y="317.25" width="3" height="3" fill="#ff7f0e"/>
<rect x="590.9" y="324.41" width="3" height="3" fill="#ff7f0e"/>
<rect x="592.2" y="331.57" width="3" height="3" fill="#ff7f0e"/>
<rect x="585.9" y="338.73" width="3" height="3" fill="#ff7f0e"/>
<rect x="592.7" y="345.9" width="3" height="3" fill="#ff7f0e"/>
<path d="M623.8,211.3 L610.4,218.46 L590.6,225.63 L582.2,232.79 L575.9,239.95 L573.5,247.12 L572.3,254.28 L570.3,261.44 L569.6,268.6 L569.4,275.77 L568.7,282.93 L568.2,290.09 L567.3,297.26 L566.7,304.42 L564.9,311.58 L564,318.75 L563.1,325.91 L562.2,333.07 L560.5,340.23 L559.5,347.4" fill="none" stroke="#bcbd22" stroke-opacity="0.85" stroke-width="0.75" stroke-dasharray="2 1.1"/>
<rect x="622.3" y="209.8" width="3" height="3" fill="#bcbd22"/>
<rect x="608.9" y="216.96" width="3" height="3" fill="#bcbd22"/>
<rect x="589.1" y="224.13" width="3" height="3" fill="#bcbd22"/>
<rect x="580.7" y="231.29" width="3" height="3" fill="#bcbd22"/>
<rect x="574.4" y="238.45" width="3" height="3" fill="#bcbd22"/>
<rect x="572" y="245.62" width="3" height="3" fill="#bcbd22"/>
<rect x="570.8" y="252.78" width="3" height="3" fill="#bcbd22"/>
<rect x="568.8" y="259.94" width="3" height="3" fill="#bcbd22"/>
<rect x="568.1" y="267.1" width="3" height="3" fill="#bcbd22"/>
<rect x="567.9" y="274.27" width="3" height="3" fill="#bcbd22"/>
<rect x="567.2" y="281.43" width="3" height="3" fill="#bcbd22"/>
<rect x="566.7" y="288.59" width="3" height="3" fill="#bcbd22"/>
<rect x="565.8" y="295.76" width="3" height="3" fill="#bcbd22"/>
<rect x="565.2" y="302.92" width="3" height="3" fill="#bcbd22"/>
<rect x="563.4" y="310.08" width="3" height="3" fill="#bcbd22"/>
<rect x="562.5" y="317.25" width="3" height="3" fill="#bcbd22"/>
<rect x="561.6" y="324.41" width="3" height="3" fill="#bcbd22"/>
<rect x="560.7" y="331.57" width="3" height="3" fill="#bcbd22"/>
<rect x="559" y="338.73" width="3" height="3" fill="#bcbd22"/>
<rect x="558" y="345.9" width="3" height="3" fill="#bcbd22"/>
<path d="M650.4,211.3 L637.3,218.46 L620.2,225.63 L611.3,232.79 L606.4,239.95 L601.7,247.12 L599.6,254.28 L595.1,261.44 L594.6,268.6 L592.9,275.77 L592.4,282.93 L591.5,290.09 L588.3,297.26 L586.1,304.42 L582.2,311.58 L578.4,318.75 L574.8,325.91 L570,333.07 L566.7,340.23 L564,347.4" fill="none" stroke="#2ca02c" stroke-opacity="0.85" stroke-width="0.75" stroke-dasharray="2 1.1"/>
<rect x="648.9" y="209.8" width="3" height="3" fill="#2ca02c"/>
<rect x="635.8" y="216.96" width="3" height="3" fill="#2ca02c"/>
<rect x="618.7" y="224.13" width="3" height="3" fill="#2ca02c"/>
<rect x="609.8" y="231.29" width="3" height="3" fill="#2ca02c"/>
<rect x="604.9" y="238.45" width="3" height="3" fill="#2ca02c"/>
<rect x="600.2" y="245.62" width="3" height="3" fill="#2ca02c"/>
<rect x="598.1" y="252.78" width="3" height="3" fill="#2ca02c"/>
<rect x="593.6" y="259.94" width="3" height="3" fill="#2ca02c"/>
<rect x="593.1" y="267.1" width="3" height="3" fill="#2ca02c"/>
<rect x="591.4" y="274.27" width="3" height="3" fill="#2ca02c"/>
<rect x="590.9" y="281.43" width="3" height="3" fill="#2ca02c"/>
<rect x="590" y="288.59" width="3" height="3" fill="#2ca02c"/>
<rect x="586.8" y="295.76" width="3" height="3" fill="#2ca02c"/>
<rect x="584.6" y="302.92" width="3" height="3" fill="#2ca02c"/>
<rect x="580.7" y="310.08" width="3" height="3" fill="#2ca02c"/>
<rect x="576.9" y="317.25" width="3" height="3" fill="#2ca02c"/>
<rect x="573.3" y="324.41" width="3" height="3" fill="#2ca02c"/>
<rect x="568.5" y="331.57" width="3" height="3" fill="#2ca02c"/>
<rect x="565.2" y="338.73" width="3" height="3" fill="#2ca02c"/>
<rect x="562.5" y="345.9" width="3" height="3" fill="#2ca02c"/>
<path d="M668.7,211.3 L665.7,218.46 L664.2,225.63 L660.3,232.79 L659.4,239.95 L657.6,247.12 L657,254.28 L653.5,261.44 L652.9,268.6 L651.7,275.77 L651.7,282.93 L650.4,290.09 L647.5,297.26 L647.7,304.42 L643.6,311.58 L640.5,318.75 L639.1,325.91 L636.9,333.07 L629.6,340.23 L627.8,347.4" fill="none" stroke="#1f77b4" stroke-opacity="0.85" stroke-width="0.75" stroke-dasharray="2 1.1"/>
<rect x="667.2" y="209.8" width="3" height="3" fill="#1f77b4"/>
<rect x="664.2" y="216.96" width="3" height="3" fill="#1f77b4"/>
<rect x="662.7" y="224.13" width="3" height="3" fill="#1f77b4"/>
<rect x="658.8" y="231.29" width="3" height="3" fill="#1f77b4"/>
<rect x="657.9" y="238.45" width="3" height="3" fill="#1f77b4"/>
<rect x="656.1" y="245.62" width="3" height="3" fill="#1f77b4"/>
<rect x="655.5" y="252.78" width="3" height="3" fill="#1f77b4"/>
<rect x="652" y="259.94" width="3" height="3" fill="#1f77b4"/>
<rect x="651.4" y="267.1" width="3" height="3" fill="#1f77b4"/>
<rect x="650.2" y="274.27" width="3" height="3" fill="#1f77b4"/>
<rect x="650.2" y="281.43" width="3" height="3" fill="#1f77b4"/>
<rect x="648.9" y="288.59" width="3" height="3" fill="#1f77b4"/>
<rect x="646" y="295.76" width="3" height="3" fill="#1f77b4"/>
<rect x="646.2" y="302.92" width="3" height="3" fill="#1f77b4"/>
<rect x="642.1" y="310.08" width="3" height="3" fill="#1f77b4"/>
<rect x="639" y="317.25" width="3" height="3" fill="#1f77b4"/>
<rect x="637.6" y="324.41" width="3" height="3" fill="#1f77b4"/>
<rect x="635.4" y="331.57" width="3" height="3" fill="#1f77b4"/>
<rect x="628.1" y="338.73" width="3" height="3" fill="#1f77b4"/>
<rect x="626.3" y="345.9" width="3" height="3" fill="#1f77b4"/>
<rect x="551.5" y="204.4" width="122.8" height="149.7" fill="none" stroke="#707070" stroke-width="0.9"/>
<line x1="557.6" y1="202.6" x2="557.6" y2="204.4" stroke="#666" stroke-width="0.7"/>
<text x="554.8" y="202.7" text-anchor="middle" font-size="7.2" font-family="Liberation Sans, sans-serif" fill="#111">0.</text>
<line x1="581.3" y1="202.6" x2="581.3" y2="204.4" stroke="#666" stroke-width="0.7"/>
<text x="579.4" y="202.7" text-anchor="middle" font-size="7.2" font-family="Liberation Sans, sans-serif" fill="#111">0.2</text>
<line x1="605.5" y1="202.6" x2="605.5" y2="204.4" stroke="#666" stroke-width="0.7"/>
<text x="602.3" y="202.7" text-anchor="middle" font-size="7.2" font-family="Liberation Sans, sans-serif" fill="#111">0.4</text>
<line x1="629.2" y1="202.6" x2="629.2" y2="204.4" stroke="#666" stroke-width="0.7"/>
<text x="627.4" y="202.7" text-anchor="middle" font-size="7.2" font-family="Liberation Sans, sans-serif" fill="#111">0.6</text>
<line x1="653.6" y1="202.6" x2="653.6" y2="204.4" stroke="#666" stroke-width="0.7"/>
<text x="652.9" y="202.7" text-anchor="middle" font-size="7.2" font-family="Liberation Sans, sans-serif" fill="#111">0.8</text>
<line x1="549.7" y1="211.3" x2="551.5" y2="211.3" stroke="#666" stroke-width="0.7"/>
<text x="550.8" y="214.3" text-anchor="end" font-size="7.2" font-family="Liberation Sans, sans-serif" fill="#111">1</text>
<line x1="549.7" y1="239.95" x2="551.5" y2="239.95" stroke="#666" stroke-width="0.7"/>
<text x="550.8" y="242.95" text-anchor="end" font-size="7.2" font-family="Liberation Sans, sans-serif" fill="#111">5</text>
<line x1="549.7" y1="275.77" x2="551.5" y2="275.77" stroke="#666" stroke-width="0.7"/>
<text x="550.8" y="278.77" text-anchor="end" font-size="7.2" font-family="Liberation Sans, sans-serif" fill="#111">10</text>
<line x1="549.7" y1="311.58" x2="551.5" y2="311.58" stroke="#666" stroke-width="0.7"/>
<text x="550.8" y="314.58" text-anchor="end" font-size="7.2" font-family="Liberation Sans, sans-serif" fill="#111">15</text>
<line x1="549.7" y1="347.4" x2="551.5" y2="347.4" stroke="#666" stroke-width="0.7"/>
<text x="550.8" y="350.4" text-anchor="end" font-size="7.2" font-family="Liberation Sans, sans-serif" fill="#111">20</text>
<text transform="translate(541.2,273.1) rotate(-90)" text-anchor="middle" font-size="7.3" font-family="Liberation Sans, sans-serif" fill="#111">SV complexity</text>
<text transform="translate(677.9,276.7) rotate(90)" text-anchor="middle" font-size="7.2" font-family="Liberation Sans, sans-serif" fill="#111">ONT</text>
<line x1="557.6" y1="384.4" x2="557.6" y2="534.1" stroke="#d0d0d0" stroke-width="0.9"/>
<line x1="582.6" y1="384.4" x2="582.6" y2="534.1" stroke="#d0d0d0" stroke-width="0.9"/>
<line x1="607.6" y1="384.4" x2="607.6" y2="534.1" stroke="#d0d0d0" stroke-width="0.9"/>
<line x1="633.1" y1="384.4" x2="633.1" y2="534.1" stroke="#d0d0d0" stroke-width="0.9"/>
<line x1="658.1" y1="384.4" x2="658.1" y2="534.1" stroke="#d0d0d0" stroke-width="0.9"/>
<line x1="551.5" y1="391.2" x2="674.3" y2="391.2" stroke="#d0d0d0" stroke-width="0.9"/>
<line x1="551.5" y1="419.85" x2="674.3" y2="419.85" stroke="#d0d0d0" stroke-width="0.9"/>
<line x1="551.5" y1="455.67" x2="674.3" y2="455.67" stroke="#d0d0d0" stroke-width="0.9"/>
<line x1="551.5" y1="491.48" x2="674.3" y2="491.48" stroke="#d0d0d0" stroke-width="0.9"/>
<line x1="551.5" y1="527.3" x2="674.3" y2="527.3" stroke="#d0d0d0" stroke-width="0.9"/>
<path d="M592.4,391.2 L583.4,398.36 L576.2,405.53 L574.4,412.69 L572,419.85 L571,427.01 L570.5,434.18 L570,441.34 L570,448.5 L569.8,455.67 L569.6,462.83 L569.5,469.99 L569.4,477.16 L569.4,484.32 L569.4,491.48 L569.4,498.64 L568.2,505.81 L568,512.97 L567,520.13 L566,527.3" fill="none" stroke="#9467bd" stroke-opacity="0.324" stroke-width="0.75" stroke-dasharray="2 1.1"/>
<path d="M592.4,389.3L594.1,391.2L592.4,393.1L590.7,391.2Z" fill="#9467bd" fill-opacity="0.36"/>
<path d="M583.4,396.46L585.1,398.36L583.4,400.26L581.7,398.36Z" fill="#9467bd" fill-opacity="0.36"/>
<path d="M576.2,403.63L577.9,405.53L576.2,407.43L574.5,405.53Z" fill="#9467bd" fill-opacity="0.36"/>
<path d="M574.4,410.79L576.1,412.69L574.4,414.59L572.7,412.69Z" fill="#9467bd" fill-opacity="0.36"/>
<path d="M572,417.95L573.7,419.85L572,421.75L570.3,419.85Z" fill="#9467bd" fill-opacity="0.36"/>
<path d="M571,425.12L572.7,427.01L571,428.91L569.3,427.01Z" fill="#9467bd" fill-opacity="0.36"/>
<path d="M570.5,432.28L572.2,434.18L570.5,436.08L568.8,434.18Z" fill="#9467bd" fill-opacity="0.36"/>
<path d="M570,439.44L571.7,441.34L570,443.24L568.3,441.34Z" fill="#9467bd" fill-opacity="0.36"/>
<path d="M570,446.6L571.7,448.5L570,450.4L568.3,448.5Z" fill="#9467bd" fill-opacity="0.36"/>
<path d="M569.8,453.77L571.5,455.67L569.8,457.57L568.1,455.67Z" fill="#9467bd" fill-opacity="0.36"/>
<path d="M569.6,460.93L571.3,462.83L569.6,464.73L567.9,462.83Z" fill="#9467bd" fill-opacity="0.36"/>
<path d="M569.5,468.09L571.2,469.99L569.5,471.89L567.8,469.99Z" fill="#9467bd" fill-opacity="0.36"/>
<path d="M569.4,475.26L571.1,477.16L569.4,479.06L567.7,477.16Z" fill="#9467bd" fill-opacity="0.36"/>
<path d="M569.4,482.42L571.1,484.32L569.4,486.22L567.7,484.32Z" fill="#9467bd" fill-opacity="0.36"/>
<path d="M569.4,489.58L571.1,491.48L569.4,493.38L567.7,491.48Z" fill="#9467bd" fill-opacity="0.36"/>
<path d="M569.4,496.75L571.1,498.64L569.4,500.54L567.7,498.64Z" fill="#9467bd" fill-opacity="0.36"/>
<path d="M568.2,503.91L569.9,505.81L568.2,507.71L566.5,505.81Z" fill="#9467bd" fill-opacity="0.36"/>
<path d="M568,511.07L569.7,512.97L568,514.87L566.3,512.97Z" fill="#9467bd" fill-opacity="0.36"/>
<path d="M567,518.23L568.7,520.13L567,522.03L565.3,520.13Z" fill="#9467bd" fill-opacity="0.36"/>
<path d="M566,525.4L567.7,527.3L566,529.2L564.3,527.3Z" fill="#9467bd" fill-opacity="0.36"/>
<path d="M605,391.2 L602.3,398.36 L580.7,405.53 L575.5,412.69 L570,419.85 L568.2,427.01 L568.5,434.18 L566.4,441.34 L565.5,448.5 L565.5,455.67 L565.1,462.83 L564.9,469.99 L564.6,477.16 L563.7,484.32 L563,491.48 L562,498.64 L561,505.81 L560.5,512.97 L559.8,520.13 L559.5,527.3" fill="none" stroke="#bcbd22" stroke-opacity="0.324" stroke-width="0.75" stroke-dasharray="2 1.1"/>
<path d="M605,389.3L606.7,391.2L605,393.1L603.3,391.2Z" fill="#bcbd22" fill-opacity="0.36"/>
<path d="M602.3,396.46L604,398.36L602.3,400.26L600.6,398.36Z" fill="#bcbd22" fill-opacity="0.36"/>
<path d="M580.7,403.63L582.4,405.53L580.7,407.43L579,405.53Z" fill="#bcbd22" fill-opacity="0.36"/>
<path d="M575.5,410.79L577.2,412.69L575.5,414.59L573.8,412.69Z" fill="#bcbd22" fill-opacity="0.36"/>
<path d="M570,417.95L571.7,419.85L570,421.75L568.3,419.85Z" fill="#bcbd22" fill-opacity="0.36"/>
<path d="M568.2,425.12L569.9,427.01L568.2,428.91L566.5,427.01Z" fill="#bcbd22" fill-opacity="0.36"/>
<path d="M568.5,432.28L570.2,434.18L568.5,436.08L566.8,434.18Z" fill="#bcbd22" fill-opacity="0.36"/>
<path d="M566.4,439.44L568.1,441.34L566.4,443.24L564.7,441.34Z" fill="#bcbd22" fill-opacity="0.36"/>
<path d="M565.5,446.6L567.2,448.5L565.5,450.4L563.8,448.5Z" fill="#bcbd22" fill-opacity="0.36"/>
<path d="M565.5,453.77L567.2,455.67L565.5,457.57L563.8,455.67Z" fill="#bcbd22" fill-opacity="0.36"/>
<path d="M565.1,460.93L566.8,462.83L565.1,464.73L563.4,462.83Z" fill="#bcbd22" fill-opacity="0.36"/>
<path d="M564.9,468.09L566.6,469.99L564.9,471.89L563.2,469.99Z" fill="#bcbd22" fill-opacity="0.36"/>
<path d="M564.6,475.26L566.3,477.16L564.6,479.06L562.9,477.16Z" fill="#bcbd22" fill-opacity="0.36"/>
<path d="M563.7,482.42L565.4,484.32L563.7,486.22L562,484.32Z" fill="#bcbd22" fill-opacity="0.36"/>
<path d="M563,489.58L564.7,491.48L563,493.38L561.3,491.48Z" fill="#bcbd22" fill-opacity="0.36"/>
<path d="M562,496.75L563.7,498.64L562,500.54L560.3,498.64Z" fill="#bcbd22" fill-opacity="0.36"/>
<path d="M561,503.91L562.7,505.81L561,507.71L559.3,505.81Z" fill="#bcbd22" fill-opacity="0.36"/>
<path d="M560.5,511.07L562.2,512.97L560.5,514.87L558.8,512.97Z" fill="#bcbd22" fill-opacity="0.36"/>
<path d="M559.8,518.23L561.5,520.13L559.8,522.03L558.1,520.13Z" fill="#bcbd22" fill-opacity="0.36"/>
<path d="M559.5,525.4L561.2,527.3L559.5,529.2L557.8,527.3Z" fill="#bcbd22" fill-opacity="0.36"/>
<path d="M610.4,391.2 L603,398.36 L595.1,405.53 L589.7,412.69 L587.9,419.85 L585.8,427.01 L584,434.18 L581.6,441.34 L581.1,448.5 L580.4,455.67 L578.9,462.83 L578.6,469.99 L577.1,477.16 L576,484.32 L575,491.48 L574,498.64 L573,505.81 L572,512.97 L569,520.13 L566,527.3" fill="none" stroke="#2ca02c" stroke-opacity="0.324" stroke-width="0.75" stroke-dasharray="2 1.1"/>
<path d="M610.4,389.3L612.1,391.2L610.4,393.1L608.7,391.2Z" fill="#2ca02c" fill-opacity="0.36"/>
<path d="M603,396.46L604.7,398.36L603,400.26L601.3,398.36Z" fill="#2ca02c" fill-opacity="0.36"/>
<path d="M595.1,403.63L596.8,405.53L595.1,407.43L593.4,405.53Z" fill="#2ca02c" fill-opacity="0.36"/>
<path d="M589.7,410.79L591.4,412.69L589.7,414.59L588,412.69Z" fill="#2ca02c" fill-opacity="0.36"/>
<path d="M587.9,417.95L589.6,419.85L587.9,421.75L586.2,419.85Z" fill="#2ca02c" fill-opacity="0.36"/>
<path d="M585.8,425.12L587.5,427.01L585.8,428.91L584.1,427.01Z" fill="#2ca02c" fill-opacity="0.36"/>
<path d="M584,432.28L585.7,434.18L584,436.08L582.3,434.18Z" fill="#2ca02c" fill-opacity="0.36"/>
<path d="M581.6,439.44L583.3,441.34L581.6,443.24L579.9,441.34Z" fill="#2ca02c" fill-opacity="0.36"/>
<path d="M581.1,446.6L582.8,448.5L581.1,450.4L579.4,448.5Z" fill="#2ca02c" fill-opacity="0.36"/>
<path d="M580.4,453.77L582.1,455.67L580.4,457.57L578.7,455.67Z" fill="#2ca02c" fill-opacity="0.36"/>
<path d="M578.9,460.93L580.6,462.83L578.9,464.73L577.2,462.83Z" fill="#2ca02c" fill-opacity="0.36"/>
<path d="M578.6,468.09L580.3,469.99L578.6,471.89L576.9,469.99Z" fill="#2ca02c" fill-opacity="0.36"/>
<path d="M577.1,475.26L578.8,477.16L577.1,479.06L575.4,477.16Z" fill="#2ca02c" fill-opacity="0.36"/>
<path d="M576,482.42L577.7,484.32L576,486.22L574.3,484.32Z" fill="#2ca02c" fill-opacity="0.36"/>
<path d="M575,489.58L576.7,491.48L575,493.38L573.3,491.48Z" fill="#2ca02c" fill-opacity="0.36"/>
<path d="M574,496.75L575.7,498.64L574,500.54L572.3,498.64Z" fill="#2ca02c" fill-opacity="0.36"/>
<path d="M573,503.91L574.7,505.81L573,507.71L571.3,505.81Z" fill="#2ca02c" fill-opacity="0.36"/>
<path d="M572,511.07L573.7,512.97L572,514.87L570.3,512.97Z" fill="#2ca02c" fill-opacity="0.36"/>
<path d="M569,518.23L570.7,520.13L569,522.03L567.3,520.13Z" fill="#2ca02c" fill-opacity="0.36"/>
<path d="M566,525.4L567.7,527.3L566,529.2L564.3,527.3Z" fill="#2ca02c" fill-opacity="0.36"/>
<path d="M615.7,391.2 L607,398.36 L598,405.53 L592.9,412.69 L592.4,419.85 L587.9,427.01 L590.6,434.18 L585.2,441.34 L587.6,448.5 L584,455.67 L583.4,462.83 L583.4,469.99 L581.6,477.16 L583.4,484.32 L582,491.48 L581,498.64 L580,505.81 L585.2,512.97 L573.5,520.13 L575,527.3" fill="none" stroke="#ff7f0e" stroke-opacity="0.324" stroke-width="0.75" stroke-dasharray="2 1.1"/>
<path d="M615.7,389.3L617.4,391.2L615.7,393.1L614,391.2Z" fill="#ff7f0e" fill-opacity="0.36"/>
<path d="M607,396.46L608.7,398.36L607,400.26L605.3,398.36Z" fill="#ff7f0e" fill-opacity="0.36"/>
<path d="M598,403.63L599.7,405.53L598,407.43L596.3,405.53Z" fill="#ff7f0e" fill-opacity="0.36"/>
<path d="M592.9,410.79L594.6,412.69L592.9,414.59L591.2,412.69Z" fill="#ff7f0e" fill-opacity="0.36"/>
<path d="M592.4,417.95L594.1,419.85L592.4,421.75L590.7,419.85Z" fill="#ff7f0e" fill-opacity="0.36"/>
<path d="M587.9,425.12L589.6,427.01L587.9,428.91L586.2,427.01Z" fill="#ff7f0e" fill-opacity="0.36"/>
<path d="M590.6,432.28L592.3,434.18L590.6,436.08L588.9,434.18Z" fill="#ff7f0e" fill-opacity="0.36"/>
<path d="M585.2,439.44L586.9,441.34L585.2,443.24L583.5,441.34Z" fill="#ff7f0e" fill-opacity="0.36"/>
<path d="M587.6,446.6L589.3,448.5L587.6,450.4L585.9,448.5Z" fill="#ff7f0e" fill-opacity="0.36"/>
<path d="M584,453.77L585.7,455.67L584,457.57L582.3,455.67Z" fill="#ff7f0e" fill-opacity="0.36"/>
<path d="M583.4,460.93L585.1,462.83L583.4,464.73L581.7,462.83Z" fill="#ff7f0e" fill-opacity="0.36"/>
<path d="M583.4,468.09L585.1,469.99L583.4,471.89L581.7,469.99Z" fill="#ff7f0e" fill-opacity="0.36"/>
<path d="M581.6,475.26L583.3,477.16L581.6,479.06L579.9,477.16Z" fill="#ff7f0e" fill-opacity="0.36"/>
<path d="M583.4,482.42L585.1,484.32L583.4,486.22L581.7,484.32Z" fill="#ff7f0e" fill-opacity="0.36"/>
<path d="M582,489.58L583.7,491.48L582,493.38L580.3,491.48Z" fill="#ff7f0e" fill-opacity="0.36"/>
<path d="M581,496.75L582.7,498.64L581,500.54L579.3,498.64Z" fill="#ff7f0e" fill-opacity="0.36"/>
<path d="M580,503.91L581.7,505.81L580,507.71L578.3,505.81Z" fill="#ff7f0e" fill-opacity="0.36"/>
<path d="M585.2,511.07L586.9,512.97L585.2,514.87L583.5,512.97Z" fill="#ff7f0e" fill-opacity="0.36"/>
<path d="M573.5,518.23L575.2,520.13L573.5,522.03L571.8,520.13Z" fill="#ff7f0e" fill-opacity="0.36"/>
<path d="M575,525.4L576.7,527.3L575,529.2L573.3,527.3Z" fill="#ff7f0e" fill-opacity="0.36"/>
<path d="M669,391.2 L654.7,398.36 L650.4,405.53 L646.3,412.69 L645.4,419.85 L645.4,427.01 L644.5,434.18 L637.8,441.34 L639.1,448.5 L636.4,455.67 L635,462.83 L633.7,469.99 L630.1,477.16 L631.4,484.32 L624.4,491.48 L627.8,498.64 L626.2,505.81 L631.5,512.97 L616.6,520.13 L614,527.3" fill="none" stroke="#1f77b4" stroke-opacity="0.324" stroke-width="0.75" stroke-dasharray="2 1.1"/>
<path d="M669,389.3L670.7,391.2L669,393.1L667.3,391.2Z" fill="#1f77b4" fill-opacity="0.36"/>
<path d="M654.7,396.46L656.4,398.36L654.7,400.26L653,398.36Z" fill="#1f77b4" fill-opacity="0.36"/>
<path d="M650.4,403.63L652.1,405.53L650.4,407.43L648.7,405.53Z" fill="#1f77b4" fill-opacity="0.36"/>
<path d="M646.3,410.79L648,412.69L646.3,414.59L644.6,412.69Z" fill="#1f77b4" fill-opacity="0.36"/>
<path d="M645.4,417.95L647.1,419.85L645.4,421.75L643.7,419.85Z" fill="#1f77b4" fill-opacity="0.36"/>
<path d="M645.4,425.12L647.1,427.01L645.4,428.91L643.7,427.01Z" fill="#1f77b4" fill-opacity="0.36"/>
<path d="M644.5,432.28L646.2,434.18L644.5,436.08L642.8,434.18Z" fill="#1f77b4" fill-opacity="0.36"/>
<path d="M637.8,439.44L639.5,441.34L637.8,443.24L636.1,441.34Z" fill="#1f77b4" fill-opacity="0.36"/>
<path d="M639.1,446.6L640.8,448.5L639.1,450.4L637.4,448.5Z" fill="#1f77b4" fill-opacity="0.36"/>
<path d="M636.4,453.77L638.1,455.67L636.4,457.57L634.7,455.67Z" fill="#1f77b4" fill-opacity="0.36"/>
<path d="M635,460.93L636.7,462.83L635,464.73L633.3,462.83Z" fill="#1f77b4" fill-opacity="0.36"/>
<path d="M633.7,468.09L635.4,469.99L633.7,471.89L632,469.99Z" fill="#1f77b4" fill-opacity="0.36"/>
<path d="M630.1,475.26L631.8,477.16L630.1,479.06L628.4,477.16Z" fill="#1f77b4" fill-opacity="0.36"/>
<path d="M631.4,482.42L633.1,484.32L631.4,486.22L629.7,484.32Z" fill="#1f77b4" fill-opacity="0.36"/>
<path d="M624.4,489.58L626.1,491.48L624.4,493.38L622.7,491.48Z" fill="#1f77b4" fill-opacity="0.36"/>
<path d="M627.8,496.75L629.5,498.64L627.8,500.54L626.1,498.64Z" fill="#1f77b4" fill-opacity="0.36"/>
<path d="M626.2,503.91L627.9,505.81L626.2,507.71L624.5,505.81Z" fill="#1f77b4" fill-opacity="0.36"/>
<path d="M631.5,511.07L633.2,512.97L631.5,514.87L629.8,512.97Z" fill="#1f77b4" fill-opacity="0.36"/>
<path d="M616.6,518.23L618.3,520.13L616.6,522.03L614.9,520.13Z" fill="#1f77b4" fill-opacity="0.36"/>
<path d="M614,525.4L615.7,527.3L614,529.2L612.3,527.3Z" fill="#1f77b4" fill-opacity="0.36"/>
<path d="M605.3,391.2 L592.9,398.36 L584.3,405.53 L580.7,412.69 L579.8,419.85 L578.9,427.01 L578,434.18 L576.6,441.34 L575.3,448.5 L574.8,455.67 L575.3,462.83 L575,469.99 L573.5,477.16 L574.4,484.32 L573.5,491.48 L573,498.64 L572.3,505.81 L572.3,512.97 L570,520.13 L569.6,527.3" fill="none" stroke="#9467bd" stroke-opacity="0.85" stroke-width="0.75" stroke-dasharray="2 1.1"/>
<path d="M605.3,389.3L607,391.2L605.3,393.1L603.6,391.2Z" fill="#9467bd"/>
<path d="M592.9,396.46L594.6,398.36L592.9,400.26L591.2,398.36Z" fill="#9467bd"/>
<path d="M584.3,403.63L586,405.53L584.3,407.43L582.6,405.53Z" fill="#9467bd"/>
<path d="M580.7,410.79L582.4,412.69L580.7,414.59L579,412.69Z" fill="#9467bd"/>
<path d="M579.8,417.95L581.5,419.85L579.8,421.75L578.1,419.85Z" fill="#9467bd"/>
<path d="M578.9,425.12L580.6,427.01L578.9,428.91L577.2,427.01Z" fill="#9467bd"/>
<path d="M578,432.28L579.7,434.18L578,436.08L576.3,434.18Z" fill="#9467bd"/>
<path d="M576.6,439.44L578.3,441.34L576.6,443.24L574.9,441.34Z" fill="#9467bd"/>
<path d="M575.3,446.6L577,448.5L575.3,450.4L573.6,448.5Z" fill="#9467bd"/>
<path d="M574.8,453.77L576.5,455.67L574.8,457.57L573.1,455.67Z" fill="#9467bd"/>
<path d="M575.3,460.93L577,462.83L575.3,464.73L573.6,462.83Z" fill="#9467bd"/>
<path d="M575,468.09L576.7,469.99L575,471.89L573.3,469.99Z" fill="#9467bd"/>
<path d="M573.5,475.26L575.2,477.16L573.5,479.06L571.8,477.16Z" fill="#9467bd"/>
<path d="M574.4,482.42L576.1,484.32L574.4,486.22L572.7,484.32Z" fill="#9467bd"/>
<path d="M573.5,489.58L575.2,491.48L573.5,493.38L571.8,491.48Z" fill="#9467bd"/>
<path d="M573,496.75L574.7,498.64L573,500.54L571.3,498.64Z" fill="#9467bd"/>
<path d="M572.3,503.91L574,505.81L572.3,507.71L570.6,505.81Z" fill="#9467bd"/>
<path d="M572.3,511.07L574,512.97L572.3,514.87L570.6,512.97Z" fill="#9467bd"/>
<path d="M570,518.23L571.7,520.13L570,522.03L568.3,520.13Z" fill="#9467bd"/>
<path d="M569.6,525.4L571.3,527.3L569.6,529.2L567.9,527.3Z" fill="#9467bd"/>
<path d="M622,391.2 L619.3,398.36 L611.8,405.53 L607.3,412.69 L604.4,419.85 L601.9,427.01 L601,434.18 L598.3,441.34 L597.4,448.5 L596.9,455.67 L596.5,462.83 L596,469.99 L594.2,477.16 L594.6,484.32 L593.7,491.48 L592.4,498.64 L591.1,505.81 L592.4,512.97 L585.2,520.13 L586.7,527.3" fill="none" stroke="#ff7f0e" stroke-opacity="0.85" stroke-width="0.75" stroke-dasharray="2 1.1"/>
<path d="M622,389.3L623.7,391.2L622,393.1L620.3,391.2Z" fill="#ff7f0e"/>
<path d="M619.3,396.46L621,398.36L619.3,400.26L617.6,398.36Z" fill="#ff7f0e"/>
<path d="M611.8,403.63L613.5,405.53L611.8,407.43L610.1,405.53Z" fill="#ff7f0e"/>
<path d="M607.3,410.79L609,412.69L607.3,414.59L605.6,412.69Z" fill="#ff7f0e"/>
<path d="M604.4,417.95L606.1,419.85L604.4,421.75L602.7,419.85Z" fill="#ff7f0e"/>
<path d="M601.9,425.12L603.6,427.01L601.9,428.91L600.2,427.01Z" fill="#ff7f0e"/>
<path d="M601,432.28L602.7,434.18L601,436.08L599.3,434.18Z" fill="#ff7f0e"/>
<path d="M598.3,439.44L600,441.34L598.3,443.24L596.6,441.34Z" fill="#ff7f0e"/>
<path d="M597.4,446.6L599.1,448.5L597.4,450.4L595.7,448.5Z" fill="#ff7f0e"/>
<path d="M596.9,453.77L598.6,455.67L596.9,457.57L595.2,455.67Z" fill="#ff7f0e"/>
<path d="M596.5,460.93L598.2,462.83L596.5,464.73L594.8,462.83Z" fill="#ff7f0e"/>
<path d="M596,468.09L597.7,469.99L596,471.89L594.3,469.99Z" fill="#ff7f0e"/>
<path d="M594.2,475.26L595.9,477.16L594.2,479.06L592.5,477.16Z" fill="#ff7f0e"/>
<path d="M594.6,482.42L596.3,484.32L594.6,486.22L592.9,484.32Z" fill="#ff7f0e"/>
<path d="M593.7,489.58L595.4,491.48L593.7,493.38L592,491.48Z" fill="#ff7f0e"/>
<path d="M592.4,496.75L594.1,498.64L592.4,500.54L590.7,498.64Z" fill="#ff7f0e"/>
<path d="M591.1,503.91L592.8,505.81L591.1,507.71L589.4,505.81Z" fill="#ff7f0e"/>
<path d="M592.4,511.07L594.1,512.97L592.4,514.87L590.7,512.97Z" fill="#ff7f0e"/>
<path d="M585.2,518.23L586.9,520.13L585.2,522.03L583.5,520.13Z" fill="#ff7f0e"/>
<path d="M586.7,525.4L588.4,527.3L586.7,529.2L585,527.3Z" fill="#ff7f0e"/>
<path d="M625.6,391.2 L608.2,398.36 L588.8,405.53 L579.8,412.69 L574.4,419.85 L572.7,427.01 L572.3,434.18 L570,441.34 L569.6,448.5 L569.4,455.67 L569.4,462.83 L568.5,469.99 L567.8,477.16 L567.3,484.32 L565.5,491.48 L564,498.64 L563.1,505.81 L561.9,512.97 L559.5,520.13 L559.5,527.3" fill="none" stroke="#bcbd22" stroke-opacity="0.85" stroke-width="0.75" stroke-dasharray="2 1.1"/>
<path d="M625.6,389.3L627.3,391.2L625.6,393.1L623.9,391.2Z" fill="#bcbd22"/>
<path d="M608.2,396.46L609.9,398.36L608.2,400.26L606.5,398.36Z" fill="#bcbd22"/>
<path d="M588.8,403.63L590.5,405.53L588.8,407.43L587.1,405.53Z" fill="#bcbd22"/>
<path d="M579.8,410.79L581.5,412.69L579.8,414.59L578.1,412.69Z" fill="#bcbd22"/>
<path d="M574.4,417.95L576.1,419.85L574.4,421.75L572.7,419.85Z" fill="#bcbd22"/>
<path d="M572.7,425.12L574.4,427.01L572.7,428.91L571,427.01Z" fill="#bcbd22"/>
<path d="M572.3,432.28L574,434.18L572.3,436.08L570.6,434.18Z" fill="#bcbd22"/>
<path d="M570,439.44L571.7,441.34L570,443.24L568.3,441.34Z" fill="#bcbd22"/>
<path d="M569.6,446.6L571.3,448.5L569.6,450.4L567.9,448.5Z" fill="#bcbd22"/>
<path d="M569.4,453.77L571.1,455.67L569.4,457.57L567.7,455.67Z" fill="#bcbd22"/>
<path d="M569.4,460.93L571.1,462.83L569.4,464.73L567.7,462.83Z" fill="#bcbd22"/>
<path d="M568.5,468.09L570.2,469.99L568.5,471.89L566.8,469.99Z" fill="#bcbd22"/>
<path d="M567.8,475.26L569.5,477.16L567.8,479.06L566.1,477.16Z" fill="#bcbd22"/>
<path d="M567.3,482.42L569,484.32L567.3,486.22L565.6,484.32Z" fill="#bcbd22"/>
<path d="M565.5,489.58L567.2,491.48L565.5,493.38L563.8,491.48Z" fill="#bcbd22"/>
<path d="M564,496.75L565.7,498.64L564,500.54L562.3,498.64Z" fill="#bcbd22"/>
<path d="M563.1,503.91L564.8,505.81L563.1,507.71L561.4,505.81Z" fill="#bcbd22"/>
<path d="M561.9,511.07L563.6,512.97L561.9,514.87L560.2,512.97Z" fill="#bcbd22"/>
<path d="M559.5,518.23L561.2,520.13L559.5,522.03L557.8,520.13Z" fill="#bcbd22"/>
<path d="M559.5,525.4L561.2,527.3L559.5,529.2L557.8,527.3Z" fill="#bcbd22"/>
<path d="M651.7,391.2 L639.1,398.36 L622.4,405.53 L615.4,412.69 L610.4,419.85 L605.5,427.01 L604.4,434.18 L600.5,441.34 L599.9,448.5 L598.7,455.67 L597.8,462.83 L596.5,469.99 L592.9,477.16 L591.1,484.32 L587.6,491.48 L582.2,498.64 L578.6,505.81 L575,512.97 L567.3,520.13 L566.9,527.3" fill="none" stroke="#2ca02c" stroke-opacity="0.85" stroke-width="0.75" stroke-dasharray="2 1.1"/>
<path d="M651.7,389.3L653.4,391.2L651.7,393.1L650,391.2Z" fill="#2ca02c"/>
<path d="M639.1,396.46L640.8,398.36L639.1,400.26L637.4,398.36Z" fill="#2ca02c"/>
<path d="M622.4,403.63L624.1,405.53L622.4,407.43L620.7,405.53Z" fill="#2ca02c"/>
<path d="M615.4,410.79L617.1,412.69L615.4,414.59L613.7,412.69Z" fill="#2ca02c"/>
<path d="M610.4,417.95L612.1,419.85L610.4,421.75L608.7,419.85Z" fill="#2ca02c"/>
<path d="M605.5,425.12L607.2,427.01L605.5,428.91L603.8,427.01Z" fill="#2ca02c"/>
<path d="M604.4,432.28L606.1,434.18L604.4,436.08L602.7,434.18Z" fill="#2ca02c"/>
<path d="M600.5,439.44L602.2,441.34L600.5,443.24L598.8,441.34Z" fill="#2ca02c"/>
<path d="M599.9,446.6L601.6,448.5L599.9,450.4L598.2,448.5Z" fill="#2ca02c"/>
<path d="M598.7,453.77L600.4,455.67L598.7,457.57L597,455.67Z" fill="#2ca02c"/>
<path d="M597.8,460.93L599.5,462.83L597.8,464.73L596.1,462.83Z" fill="#2ca02c"/>
<path d="M596.5,468.09L598.2,469.99L596.5,471.89L594.8,469.99Z" fill="#2ca02c"/>
<path d="M592.9,475.26L594.6,477.16L592.9,479.06L591.2,477.16Z" fill="#2ca02c"/>
<path d="M591.1,482.42L592.8,484.32L591.1,486.22L589.4,484.32Z" fill="#2ca02c"/>
<path d="M587.6,489.58L589.3,491.48L587.6,493.38L585.9,491.48Z" fill="#2ca02c"/>
<path d="M582.2,496.75L583.9,498.64L582.2,500.54L580.5,498.64Z" fill="#2ca02c"/>
<path d="M578.6,503.91L580.3,505.81L578.6,507.71L576.9,505.81Z" fill="#2ca02c"/>
<path d="M575,511.07L576.7,512.97L575,514.87L573.3,512.97Z" fill="#2ca02c"/>
<path d="M567.3,518.23L569,520.13L567.3,522.03L565.6,520.13Z" fill="#2ca02c"/>
<path d="M566.9,525.4L568.6,527.3L566.9,529.2L565.2,527.3Z" fill="#2ca02c"/>
<path d="M669.1,391.2 L667.8,398.36 L664.6,405.53 L662.4,412.69 L660.3,419.85 L658.8,427.01 L658.8,434.18 L654.7,441.34 L654.9,448.5 L653.5,455.67 L652.6,462.83 L652.6,469.99 L649,477.16 L649,484.32 L643.9,491.48 L640.9,498.64 L639.4,505.81 L638.6,512.97 L631,520.13 L628,527.3" fill="none" stroke="#1f77b4" stroke-opacity="0.85" stroke-width="0.75" stroke-dasharray="2 1.1"/>
<path d="M669.1,389.3L670.8,391.2L669.1,393.1L667.4,391.2Z" fill="#1f77b4"/>
<path d="M667.8,396.46L669.5,398.36L667.8,400.26L666.1,398.36Z" fill="#1f77b4"/>
<path d="M664.6,403.63L666.3,405.53L664.6,407.43L662.9,405.53Z" fill="#1f77b4"/>
<path d="M662.4,410.79L664.1,412.69L662.4,414.59L660.7,412.69Z" fill="#1f77b4"/>
<path d="M660.3,417.95L662,419.85L660.3,421.75L658.6,419.85Z" fill="#1f77b4"/>
<path d="M658.8,425.12L660.5,427.01L658.8,428.91L657.1,427.01Z" fill="#1f77b4"/>
<path d="M658.8,432.28L660.5,434.18L658.8,436.08L657.1,434.18Z" fill="#1f77b4"/>
<path d="M654.7,439.44L656.4,441.34L654.7,443.24L653,441.34Z" fill="#1f77b4"/>
<path d="M654.9,446.6L656.6,448.5L654.9,450.4L653.2,448.5Z" fill="#1f77b4"/>
<path d="M653.5,453.77L655.2,455.67L653.5,457.57L651.8,455.67Z" fill="#1f77b4"/>
<path d="M652.6,460.93L654.3,462.83L652.6,464.73L650.9,462.83Z" fill="#1f77b4"/>
<path d="M652.6,468.09L654.3,469.99L652.6,471.89L650.9,469.99Z" fill="#1f77b4"/>
<path d="M649,475.26L650.7,477.16L649,479.06L647.3,477.16Z" fill="#1f77b4"/>
<path d="M649,482.42L650.7,484.32L649,486.22L647.3,484.32Z" fill="#1f77b4"/>
<path d="M643.9,489.58L645.6,491.48L643.9,493.38L642.2,491.48Z" fill="#1f77b4"/>
<path d="M640.9,496.75L642.6,498.64L640.9,500.54L639.2,498.64Z" fill="#1f77b4"/>
<path d="M639.4,503.91L641.1,505.81L639.4,507.71L637.7,505.81Z" fill="#1f77b4"/>
<path d="M638.6,511.07L640.3,512.97L638.6,514.87L636.9,512.97Z" fill="#1f77b4"/>
<path d="M631,518.23L632.7,520.13L631,522.03L629.3,520.13Z" fill="#1f77b4"/>
<path d="M628,525.4L629.7,527.3L628,529.2L626.3,527.3Z" fill="#1f77b4"/>
<rect x="551.5" y="384.4" width="122.8" height="149.7" fill="none" stroke="#707070" stroke-width="0.9"/>
<line x1="557.6" y1="382.6" x2="557.6" y2="384.4" stroke="#666" stroke-width="0.7"/>
<text x="554.8" y="382.7" text-anchor="middle" font-size="7.2" font-family="Liberation Sans, sans-serif" fill="#111">0.</text>
<line x1="582.6" y1="382.6" x2="582.6" y2="384.4" stroke="#666" stroke-width="0.7"/>
<text x="579.4" y="382.7" text-anchor="middle" font-size="7.2" font-family="Liberation Sans, sans-serif" fill="#111">0.2</text>
<line x1="607.6" y1="382.6" x2="607.6" y2="384.4" stroke="#666" stroke-width="0.7"/>
<text x="602.3" y="382.7" text-anchor="middle" font-size="7.2" font-family="Liberation Sans, sans-serif" fill="#111">0.4</text>
<line x1="633.1" y1="382.6" x2="633.1" y2="384.4" stroke="#666" stroke-width="0.7"/>
<text x="627.4" y="382.7" text-anchor="middle" font-size="7.2" font-family="Liberation Sans, sans-serif" fill="#111">0.6</text>
<line x1="658.1" y1="382.6" x2="658.1" y2="384.4" stroke="#666" stroke-width="0.7"/>
<text x="652.9" y="382.7" text-anchor="middle" font-size="7.2" font-family="Liberation Sans, sans-serif" fill="#111">0.8</text>
<line x1="549.7" y1="391.2" x2="551.5" y2="391.2" stroke="#666" stroke-width="0.7"/>
<text x="550.8" y="394.2" text-anchor="end" font-size="7.2" font-family="Liberation Sans, sans-serif" fill="#111">1</text>
<line x1="549.7" y1="419.85" x2="551.5" y2="419.85" stroke="#666" stroke-width="0.7"/>
<text x="550.8" y="422.85" text-anchor="end" font-size="7.2" font-family="Liberation Sans, sans-serif" fill="#111">5</text>
<line x1="549.7" y1="455.67" x2="551.5" y2="455.67" stroke="#666" stroke-width="0.7"/>
<text x="550.8" y="458.67" text-anchor="end" font-size="7.2" font-family="Liberation Sans, sans-serif" fill="#111">10</text>
<line x1="549.7" y1="491.48" x2="551.5" y2="491.48" stroke="#666" stroke-width="0.7"/>
<text x="550.8" y="494.48" text-anchor="end" font-size="7.2" font-family="Liberation Sans, sans-serif" fill="#111">15</text>
<line x1="549.7" y1="527.3" x2="551.5" y2="527.3" stroke="#666" stroke-width="0.7"/>
<text x="550.8" y="530.3" text-anchor="end" font-size="7.2" font-family="Liberation Sans, sans-serif" fill="#111">20</text>
<text transform="translate(541.2,454.2) rotate(-90)" text-anchor="middle" font-size="7.3" font-family="Liberation Sans, sans-serif" fill="#111">SV complexity</text>
<text transform="translate(678.8,454.6) rotate(90)" text-anchor="middle" font-size="7.2" font-family="Liberation Sans, sans-serif" fill="#111">CLR</text>
<text x="615.8" y="11.8" text-anchor="middle" font-size="7.3" font-family="Liberation Sans, sans-serif" fill="#111">Recall</text>
<text x="534.6" y="7.4" font-size="11" font-family="Liberation Sans, sans-serif" fill="#111">b</text>
<line x1="30.75" y1="425.5" x2="30.75" y2="435.7" stroke="#d8d8d8" stroke-width="0.5"/>
<line x1="31.5" y1="425.5" x2="31.5" y2="435.7" stroke="#3a3a3a" stroke-width="0.6"/>
<line x1="30.7" y1="435.7" x2="32.3" y2="435.7" stroke="#333" stroke-width="0.5"/>
<line x1="34.8" y1="421.7" x2="34.8" y2="428.2" stroke="#d8d8d8" stroke-width="0.5"/>
<line x1="35.55" y1="421.7" x2="35.55" y2="428.2" stroke="#3a3a3a" stroke-width="0.6"/>
<line x1="34.75" y1="428.2" x2="36.35" y2="428.2" stroke="#333" stroke-width="0.5"/>
<line x1="38.85" y1="411.1" x2="38.85" y2="428.2" stroke="#d8d8d8" stroke-width="0.5"/>
<line x1="39.6" y1="411.1" x2="39.6" y2="428.2" stroke="#3a3a3a" stroke-width="0.6"/>
<line x1="38.8" y1="428.2" x2="40.4" y2="428.2" stroke="#333" stroke-width="0.5"/>
<line x1="42.9" y1="415.5" x2="42.9" y2="422.1" stroke="#d8d8d8" stroke-width="0.5"/>
<line x1="43.65" y1="415.5" x2="43.65" y2="422.1" stroke="#3a3a3a" stroke-width="0.6"/>
<line x1="42.85" y1="422.1" x2="44.45" y2="422.1" stroke="#333" stroke-width="0.5"/>
<line x1="46.95" y1="410.7" x2="46.95" y2="422.1" stroke="#d8d8d8" stroke-width="0.5"/>
<line x1="47.7" y1="410.7" x2="47.7" y2="422.1" stroke="#3a3a3a" stroke-width="0.6"/>
<line x1="46.9" y1="422.1" x2="48.5" y2="422.1" stroke="#333" stroke-width="0.5"/>
<line x1="51" y1="407.9" x2="51" y2="411.7" stroke="#d8d8d8" stroke-width="0.5"/>
<line x1="51.75" y1="407.9" x2="51.75" y2="411.7" stroke="#3a3a3a" stroke-width="0.6"/>
<line x1="50.95" y1="411.7" x2="52.55" y2="411.7" stroke="#333" stroke-width="0.5"/>
<line x1="55.05" y1="404" x2="55.05" y2="422.1" stroke="#d8d8d8" stroke-width="0.5"/>
<line x1="55.8" y1="404" x2="55.8" y2="422.1" stroke="#3a3a3a" stroke-width="0.6"/>
<line x1="55" y1="422.1" x2="56.6" y2="422.1" stroke="#333" stroke-width="0.5"/>
<line x1="59.1" y1="401.2" x2="59.1" y2="407.9" stroke="#d8d8d8" stroke-width="0.5"/>
<line x1="59.85" y1="401.2" x2="59.85" y2="407.9" stroke="#3a3a3a" stroke-width="0.6"/>
<line x1="59.05" y1="407.9" x2="60.65" y2="407.9" stroke="#333" stroke-width="0.5"/>
<line x1="63.15" y1="397.4" x2="63.15" y2="405" stroke="#d8d8d8" stroke-width="0.5"/>
<line x1="63.9" y1="397.4" x2="63.9" y2="405" stroke="#3a3a3a" stroke-width="0.6"/>
<line x1="63.1" y1="405" x2="64.7" y2="405" stroke="#333" stroke-width="0.5"/>
<line x1="67.2" y1="394" x2="67.2" y2="397.4" stroke="#d8d8d8" stroke-width="0.5"/>
<line x1="67.95" y1="394" x2="67.95" y2="397.4" stroke="#3a3a3a" stroke-width="0.6"/>
<line x1="67.15" y1="397.4" x2="68.75" y2="397.4" stroke="#333" stroke-width="0.5"/>
<line x1="71.25" y1="390.8" x2="71.25" y2="435.7" stroke="#d8d8d8" stroke-width="0.5"/>
<line x1="72" y1="390.8" x2="72" y2="435.7" stroke="#3a3a3a" stroke-width="0.6"/>
<line x1="71.2" y1="435.7" x2="72.8" y2="435.7" stroke="#333" stroke-width="0.5"/>
<line x1="75.3" y1="387" x2="75.3" y2="404.6" stroke="#d8d8d8" stroke-width="0.5"/>
<line x1="76.05" y1="387" x2="76.05" y2="404.6" stroke="#3a3a3a" stroke-width="0.6"/>
<line x1="75.25" y1="404.6" x2="76.85" y2="404.6" stroke="#333" stroke-width="0.5"/>
<line x1="79.35" y1="383.8" x2="79.35" y2="435.7" stroke="#d8d8d8" stroke-width="0.5"/>
<line x1="80.1" y1="383.8" x2="80.1" y2="435.7" stroke="#3a3a3a" stroke-width="0.6"/>
<line x1="79.3" y1="435.7" x2="80.9" y2="435.7" stroke="#333" stroke-width="0.5"/>
<line x1="83.4" y1="380.4" x2="83.4" y2="418.7" stroke="#d8d8d8" stroke-width="0.5"/>
<line x1="84.15" y1="380.4" x2="84.15" y2="418.7" stroke="#3a3a3a" stroke-width="0.6"/>
<line x1="83.35" y1="418.7" x2="84.95" y2="418.7" stroke="#333" stroke-width="0.5"/>
<line x1="87.45" y1="376.6" x2="87.45" y2="418.7" stroke="#d8d8d8" stroke-width="0.5"/>
<line x1="88.2" y1="376.6" x2="88.2" y2="418.7" stroke="#3a3a3a" stroke-width="0.6"/>
<line x1="87.4" y1="418.7" x2="89" y2="418.7" stroke="#333" stroke-width="0.5"/>
<line x1="91.5" y1="373.1" x2="91.5" y2="397.4" stroke="#d8d8d8" stroke-width="0.5"/>
<line x1="92.25" y1="373.1" x2="92.25" y2="397.4" stroke="#3a3a3a" stroke-width="0.6"/>
<line x1="91.45" y1="397.4" x2="93.05" y2="397.4" stroke="#333" stroke-width="0.5"/>
<line x1="95.55" y1="369.9" x2="95.55" y2="432.5" stroke="#d8d8d8" stroke-width="0.5"/>
<line x1="96.3" y1="369.9" x2="96.3" y2="432.5" stroke="#3a3a3a" stroke-width="0.6"/>
<line x1="95.5" y1="432.5" x2="97.1" y2="432.5" stroke="#333" stroke-width="0.5"/>
<line x1="99.6" y1="366.7" x2="99.6" y2="432.5" stroke="#d8d8d8" stroke-width="0.5"/>
<line x1="100.35" y1="366.7" x2="100.35" y2="432.5" stroke="#3a3a3a" stroke-width="0.6"/>
<line x1="99.55" y1="432.5" x2="101.15" y2="432.5" stroke="#333" stroke-width="0.5"/>
<line x1="23.4" y1="432.05" x2="100.35" y2="366.5" stroke="#bcbd22" stroke-width="0.6"/>
<line x1="23.4" y1="432.05" x2="100.35" y2="366.5" stroke="#ff7f0e" stroke-width="1.1" stroke-dasharray="1.1 4.22" opacity="0.9"/>
<rect x="19.5" y="363" width="84.9" height="72.6" fill="none" stroke="#8a8a8a" stroke-width="0.8"/>
<line x1="18.3" y1="366.5" x2="19.5" y2="366.5" stroke="#777" stroke-width="0.5"/>
<text x="18.6" y="369.4" text-anchor="end" font-size="7.0" font-family="Liberation Sans, sans-serif" fill="#111">22</text>
<line x1="18.3" y1="380.3" x2="19.5" y2="380.3" stroke="#777" stroke-width="0.5"/>
<text x="18.6" y="383.5" text-anchor="end" font-size="7.0" font-family="Liberation Sans, sans-serif" fill="#111">18</text>
<line x1="18.3" y1="397.55" x2="19.5" y2="397.55" stroke="#777" stroke-width="0.5"/>
<text x="18.6" y="400.8" text-anchor="end" font-size="7.0" font-family="Liberation Sans, sans-serif" fill="#111">13</text>
<line x1="18.3" y1="414.8" x2="19.5" y2="414.8" stroke="#777" stroke-width="0.5"/>
<text x="18.6" y="418.5" text-anchor="end" font-size="7.0" font-family="Liberation Sans, sans-serif" fill="#111">8</text>
<line x1="18.3" y1="432.05" x2="19.5" y2="432.05" stroke="#777" stroke-width="0.5"/>
<text x="18.6" y="435.1" text-anchor="end" font-size="7.0" font-family="Liberation Sans, sans-serif" fill="#111">3</text>
<text x="23.4" y="442.8" text-anchor="middle" font-size="7.0" font-family="Liberation Sans, sans-serif" fill="#111">3</text>
<text x="40.8" y="442.8" text-anchor="middle" font-size="7.0" font-family="Liberation Sans, sans-serif" fill="#111">8</text>
<text x="61.6" y="442.8" text-anchor="middle" font-size="7.0" font-family="Liberation Sans, sans-serif" fill="#111">13</text>
<text x="82" y="442.8" text-anchor="middle" font-size="7.0" font-family="Liberation Sans, sans-serif" fill="#111">18</text>
<text x="101.1" y="442.8" text-anchor="middle" font-size="7.0" font-family="Liberation Sans, sans-serif" fill="#111">22</text>
<text x="66" y="360.8" text-anchor="middle" font-size="7.3" font-family="Liberation Sans, sans-serif" fill="#111">VACmap (ONT)</text>
<rect x="124.1" y="431.5" width="2.6" height="2.1" fill="#ff7f0e" stroke="#2a2a2a" stroke-width="0.5"/>
<rect x="128.15" y="428.8" width="2.6" height="3.8" fill="#ff7f0e" stroke="#2a2a2a" stroke-width="0.5"/>
<line x1="133.5" y1="427.15" x2="133.5" y2="433.2" stroke="#555" stroke-width="0.6"/>
<line x1="132.8" y1="427.15" x2="134.2" y2="427.15" stroke="#444" stroke-width="0.5"/>
<rect x="132.2" y="425.5" width="2.6" height="3.6" fill="#ff7f0e" stroke="#2a2a2a" stroke-width="0.5"/>
<line x1="137.55" y1="423.7" x2="137.55" y2="433.2" stroke="#555" stroke-width="0.6"/>
<line x1="136.85" y1="423.7" x2="138.25" y2="423.7" stroke="#444" stroke-width="0.5"/>
<rect x="136.25" y="425" width="2.6" height="3.8" fill="#ff7f0e" stroke="#2a2a2a" stroke-width="0.5"/>
<line x1="141.6" y1="420.25" x2="141.6" y2="433.2" stroke="#555" stroke-width="0.6"/>
<line x1="140.9" y1="420.25" x2="142.3" y2="420.25" stroke="#444" stroke-width="0.5"/>
<rect x="140.3" y="421.7" width="2.6" height="7.1" fill="#ff7f0e" stroke="#2a2a2a" stroke-width="0.5"/>
<line x1="145.65" y1="416.8" x2="145.65" y2="433.2" stroke="#555" stroke-width="0.6"/>
<line x1="144.95" y1="416.8" x2="146.35" y2="416.8" stroke="#444" stroke-width="0.5"/>
<rect x="144.35" y="418.3" width="2.6" height="7.2" fill="#ff7f0e" stroke="#2a2a2a" stroke-width="0.5"/>
<line x1="149.7" y1="413.35" x2="149.7" y2="433.2" stroke="#555" stroke-width="0.6"/>
<line x1="149" y1="413.35" x2="150.4" y2="413.35" stroke="#444" stroke-width="0.5"/>
<rect x="148.4" y="414.9" width="2.6" height="10.6" fill="#ff7f0e" stroke="#2a2a2a" stroke-width="0.5"/>
<line x1="153.75" y1="409.9" x2="153.75" y2="433.2" stroke="#555" stroke-width="0.6"/>
<line x1="153.05" y1="409.9" x2="154.45" y2="409.9" stroke="#444" stroke-width="0.5"/>
<rect x="152.45" y="414.9" width="2.6" height="10.6" fill="#ff7f0e" stroke="#2a2a2a" stroke-width="0.5"/>
<line x1="157.8" y1="406.45" x2="157.8" y2="433.2" stroke="#555" stroke-width="0.6"/>
<line x1="157.1" y1="406.45" x2="158.5" y2="406.45" stroke="#444" stroke-width="0.5"/>
<rect x="156.5" y="411.5" width="2.6" height="10.2" fill="#ff7f0e" stroke="#2a2a2a" stroke-width="0.5"/>
<line x1="161.85" y1="403" x2="161.85" y2="433.2" stroke="#555" stroke-width="0.6"/>
<line x1="161.15" y1="403" x2="162.55" y2="403" stroke="#444" stroke-width="0.5"/>
<rect x="160.55" y="408" width="2.6" height="13.7" fill="#ff7f0e" stroke="#2a2a2a" stroke-width="0.5"/>
<line x1="165.9" y1="399.55" x2="165.9" y2="433.2" stroke="#555" stroke-width="0.6"/>
<line x1="165.2" y1="399.55" x2="166.6" y2="399.55" stroke="#444" stroke-width="0.5"/>
<rect x="164.6" y="404.4" width="2.6" height="17.3" fill="#ff7f0e" stroke="#2a2a2a" stroke-width="0.5"/>
<line x1="169.95" y1="396.1" x2="169.95" y2="433.2" stroke="#555" stroke-width="0.6"/>
<line x1="169.25" y1="396.1" x2="170.65" y2="396.1" stroke="#444" stroke-width="0.5"/>
<rect x="168.65" y="401.1" width="2.6" height="20.6" fill="#ff7f0e" stroke="#2a2a2a" stroke-width="0.5"/>
<line x1="174" y1="392.65" x2="174" y2="433.2" stroke="#555" stroke-width="0.6"/>
<line x1="173.3" y1="392.65" x2="174.7" y2="392.65" stroke="#444" stroke-width="0.5"/>
<rect x="172.7" y="401.1" width="2.6" height="17.2" fill="#ff7f0e" stroke="#2a2a2a" stroke-width="0.5"/>
<line x1="178.05" y1="389.2" x2="178.05" y2="433.2" stroke="#555" stroke-width="0.6"/>
<line x1="177.35" y1="389.2" x2="178.75" y2="389.2" stroke="#444" stroke-width="0.5"/>
<rect x="176.75" y="397.6" width="2.6" height="20.7" fill="#ff7f0e" stroke="#2a2a2a" stroke-width="0.5"/>
<line x1="182.1" y1="385.75" x2="182.1" y2="433.2" stroke="#555" stroke-width="0.6"/>
<line x1="181.4" y1="385.75" x2="182.8" y2="385.75" stroke="#444" stroke-width="0.5"/>
<rect x="180.8" y="394.2" width="2.6" height="20.7" fill="#ff7f0e" stroke="#2a2a2a" stroke-width="0.5"/>
<line x1="186.15" y1="382.3" x2="186.15" y2="433.2" stroke="#555" stroke-width="0.6"/>
<line x1="185.45" y1="382.3" x2="186.85" y2="382.3" stroke="#444" stroke-width="0.5"/>
<rect x="184.85" y="390.7" width="2.6" height="24.2" fill="#ff7f0e" stroke="#2a2a2a" stroke-width="0.5"/>
<line x1="190.2" y1="378.85" x2="190.2" y2="433.2" stroke="#555" stroke-width="0.6"/>
<line x1="189.5" y1="378.85" x2="190.9" y2="378.85" stroke="#444" stroke-width="0.5"/>
<rect x="188.9" y="387.1" width="2.6" height="31.2" fill="#ff7f0e" stroke="#2a2a2a" stroke-width="0.5"/>
<line x1="194.25" y1="375.4" x2="194.25" y2="433.2" stroke="#555" stroke-width="0.6"/>
<line x1="193.55" y1="375.4" x2="194.95" y2="375.4" stroke="#444" stroke-width="0.5"/>
<rect x="192.95" y="387.1" width="2.6" height="31.2" fill="#ff7f0e" stroke="#2a2a2a" stroke-width="0.5"/>
<line x1="198.3" y1="373" x2="198.3" y2="433.2" stroke="#555" stroke-width="0.6"/>
<line x1="197.6" y1="373" x2="199" y2="373" stroke="#444" stroke-width="0.5"/>
<rect x="197" y="383.6" width="2.6" height="27.9" fill="#ff7f0e" stroke="#2a2a2a" stroke-width="0.5"/>
<line x1="202.35" y1="367.2" x2="202.35" y2="433.2" stroke="#555" stroke-width="0.6"/>
<line x1="201.65" y1="367.2" x2="203.05" y2="367.2" stroke="#444" stroke-width="0.5"/>
<rect x="201.05" y="380.3" width="2.6" height="34.6" fill="#ff7f0e" stroke="#2a2a2a" stroke-width="0.5"/>
<path d="M125.4,432.55 L129.45,430.7 L133.5,427.3 L137.55,426.9 L141.6,425.25 L145.65,421.9 L149.7,420.2 L153.75,420.2 L157.8,416.6 L161.85,414.85 L165.9,413.05 L169.95,411.4 L174,409.7 L178.05,407.95 L182.1,404.55 L186.15,402.8 L190.2,402.7 L194.25,402.7 L198.3,397.55 L202.35,397.6" fill="none" stroke="#ffd9b0" stroke-width="0.8" stroke-dasharray="1.5 1"/>
<line x1="125.4" y1="432.05" x2="202.35" y2="366.5" stroke="#2ca02c" stroke-opacity="0.3" stroke-width="0.8"/><line x1="125.4" y1="432.05" x2="202.35" y2="366.5" stroke="#2ca02c" stroke-opacity="0.8" stroke-width="0.8" stroke-dasharray="0.9 1.1"/>
<rect x="121.5" y="363" width="84.9" height="72.6" fill="none" stroke="#8a8a8a" stroke-width="0.8"/>
<line x1="120.3" y1="366.5" x2="121.5" y2="366.5" stroke="#777" stroke-width="0.5"/>
<text x="120.6" y="369.4" text-anchor="end" font-size="7.0" font-family="Liberation Sans, sans-serif" fill="#111">22</text>
<line x1="120.3" y1="380.3" x2="121.5" y2="380.3" stroke="#777" stroke-width="0.5"/>
<text x="120.6" y="383.5" text-anchor="end" font-size="7.0" font-family="Liberation Sans, sans-serif" fill="#111">18</text>
<line x1="120.3" y1="397.55" x2="121.5" y2="397.55" stroke="#777" stroke-width="0.5"/>
<text x="120.6" y="400.8" text-anchor="end" font-size="7.0" font-family="Liberation Sans, sans-serif" fill="#111">13</text>
<line x1="120.3" y1="414.8" x2="121.5" y2="414.8" stroke="#777" stroke-width="0.5"/>
<text x="120.6" y="418.5" text-anchor="end" font-size="7.0" font-family="Liberation Sans, sans-serif" fill="#111">8</text>
<line x1="120.3" y1="432.05" x2="121.5" y2="432.05" stroke="#777" stroke-width="0.5"/>
<text x="120.6" y="435.1" text-anchor="end" font-size="7.0" font-family="Liberation Sans, sans-serif" fill="#111">3</text>
<text x="125.4" y="442.8" text-anchor="middle" font-size="7.0" font-family="Liberation Sans, sans-serif" fill="#111">3</text>
<text x="142.8" y="442.8" text-anchor="middle" font-size="7.0" font-family="Liberation Sans, sans-serif" fill="#111">8</text>
<text x="163.6" y="442.8" text-anchor="middle" font-size="7.0" font-family="Liberation Sans, sans-serif" fill="#111">13</text>
<text x="184" y="442.8" text-anchor="middle" font-size="7.0" font-family="Liberation Sans, sans-serif" fill="#111">18</text>
<text x="203.1" y="442.8" text-anchor="middle" font-size="7.0" font-family="Liberation Sans, sans-serif" fill="#111">22</text>
<text x="165.8" y="360.8" text-anchor="middle" font-size="7.3" font-family="Liberation Sans, sans-serif" fill="#111">minimap2 (ONT)</text>
<rect x="226.4" y="431.97" width="2.6" height="2.47" fill="#2ca02c" stroke="#2a2a2a" stroke-width="0.5"/>
<rect x="230.45" y="428.75" width="2.6" height="4.74" fill="#2ca02c" stroke="#2a2a2a" stroke-width="0.5"/>
<line x1="235.8" y1="426.95" x2="235.8" y2="433.6" stroke="#555" stroke-width="0.6"/>
<rect x="234.5" y="425.52" width="2.6" height="6.45" fill="#2ca02c" stroke="#2a2a2a" stroke-width="0.5"/>
<line x1="239.85" y1="423.5" x2="239.85" y2="433.6" stroke="#555" stroke-width="0.6"/>
<rect x="238.55" y="422.11" width="2.6" height="9.87" fill="#2ca02c" stroke="#2a2a2a" stroke-width="0.5"/>
<line x1="243.9" y1="420.05" x2="243.9" y2="433.6" stroke="#555" stroke-width="0.6"/>
<rect x="242.6" y="418.31" width="2.6" height="10.44" fill="#2ca02c" stroke="#2a2a2a" stroke-width="0.5"/>
<line x1="247.95" y1="416.6" x2="247.95" y2="433.6" stroke="#555" stroke-width="0.6"/>
<rect x="246.65" y="414.52" width="2.6" height="13.66" fill="#2ca02c" stroke="#2a2a2a" stroke-width="0.5"/>
<line x1="252" y1="413.15" x2="252" y2="433.6" stroke="#555" stroke-width="0.6"/>
<rect x="250.7" y="411.1" width="2.6" height="17.08" fill="#2ca02c" stroke="#2a2a2a" stroke-width="0.5"/>
<line x1="256.05" y1="409.7" x2="256.05" y2="433.6" stroke="#555" stroke-width="0.6"/>
<rect x="254.75" y="407.87" width="2.6" height="17.08" fill="#2ca02c" stroke="#2a2a2a" stroke-width="0.5"/>
<line x1="260.1" y1="406.25" x2="260.1" y2="433.6" stroke="#555" stroke-width="0.6"/>
<rect x="258.8" y="404.08" width="2.6" height="21.44" fill="#2ca02c" stroke="#2a2a2a" stroke-width="0.5"/>
<line x1="264.15" y1="402.8" x2="264.15" y2="433.6" stroke="#555" stroke-width="0.6"/>
<rect x="262.85" y="400.85" width="2.6" height="24.1" fill="#2ca02c" stroke="#2a2a2a" stroke-width="0.5"/>
<line x1="268.2" y1="399.35" x2="268.2" y2="433.6" stroke="#555" stroke-width="0.6"/>
<rect x="266.9" y="397.06" width="2.6" height="25.05" fill="#2ca02c" stroke="#2a2a2a" stroke-width="0.5"/>
<line x1="272.25" y1="395.9" x2="272.25" y2="433.6" stroke="#555" stroke-width="0.6"/>
<rect x="270.95" y="397.06" width="2.6" height="24.67" fill="#2ca02c" stroke="#2a2a2a" stroke-width="0.5"/>
<line x1="276.3" y1="392.45" x2="276.3" y2="433.6" stroke="#555" stroke-width="0.6"/>
<rect x="275" y="394.02" width="2.6" height="27.7" fill="#2ca02c" stroke="#2a2a2a" stroke-width="0.5"/>
<line x1="280.35" y1="389" x2="280.35" y2="433.6" stroke="#555" stroke-width="0.6"/>
<rect x="279.05" y="390.23" width="2.6" height="31.5" fill="#2ca02c" stroke="#2a2a2a" stroke-width="0.5"/>
<line x1="284.4" y1="385.55" x2="284.4" y2="433.6" stroke="#555" stroke-width="0.6"/>
<rect x="283.1" y="390.23" width="2.6" height="28.08" fill="#2ca02c" stroke="#2a2a2a" stroke-width="0.5"/>
<line x1="288.45" y1="382.1" x2="288.45" y2="433.6" stroke="#555" stroke-width="0.6"/>
<rect x="287.15" y="387" width="2.6" height="31.31" fill="#2ca02c" stroke="#2a2a2a" stroke-width="0.5"/>
<line x1="292.5" y1="378.65" x2="292.5" y2="433.6" stroke="#555" stroke-width="0.6"/>
<rect x="291.2" y="383.78" width="2.6" height="34.54" fill="#2ca02c" stroke="#2a2a2a" stroke-width="0.5"/>
<line x1="296.55" y1="375.2" x2="296.55" y2="433.6" stroke="#555" stroke-width="0.6"/>
<rect x="295.25" y="383.78" width="2.6" height="34.54" fill="#2ca02c" stroke="#2a2a2a" stroke-width="0.5"/>
<line x1="300.6" y1="371.75" x2="300.6" y2="433.6" stroke="#555" stroke-width="0.6"/>
<rect x="299.3" y="380.74" width="2.6" height="34.16" fill="#2ca02c" stroke="#2a2a2a" stroke-width="0.5"/>
<line x1="304.65" y1="368.3" x2="304.65" y2="433.6" stroke="#555" stroke-width="0.6"/>
<rect x="303.35" y="379.98" width="2.6" height="34.91" fill="#2ca02c" stroke="#2a2a2a" stroke-width="0.5"/>
<path d="M227.7,429.7 L231.75,428.75 L235.8,426.85 L239.85,424.95 L243.9,422.11 L247.95,419.83 L252,416.41 L256.05,414.14 L260.1,410.34 L264.15,406.93 L268.2,405.03 L272.25,402.18 L276.3,401.23 L280.35,403.13 L284.4,401.23 L288.45,400.85 L292.5,400.85 L296.55,400.85 L300.6,403.13 L304.65,405.03" fill="none" stroke="#ff7f0e" stroke-width="0.7" stroke-dasharray="2 0.8"/>
<line x1="227.7" y1="432.05" x2="304.65" y2="366.5" stroke="#2ca02c" stroke-opacity="0.3" stroke-width="0.8"/><line x1="227.7" y1="432.05" x2="304.65" y2="366.5" stroke="#2ca02c" stroke-opacity="0.8" stroke-width="0.8" stroke-dasharray="0.9 1.1"/>
<rect x="223.8" y="363" width="84.9" height="72.6" fill="none" stroke="#8a8a8a" stroke-width="0.8"/>
<line x1="222.6" y1="366.5" x2="223.8" y2="366.5" stroke="#777" stroke-width="0.5"/>
<text x="222.9" y="369.4" text-anchor="end" font-size="7.0" font-family="Liberation Sans, sans-serif" fill="#111">22</text>
<line x1="222.6" y1="380.3" x2="223.8" y2="380.3" stroke="#777" stroke-width="0.5"/>
<text x="222.9" y="383.5" text-anchor="end" font-size="7.0" font-family="Liberation Sans, sans-serif" fill="#111">18</text>
<line x1="222.6" y1="397.55" x2="223.8" y2="397.55" stroke="#777" stroke-width="0.5"/>
<text x="222.9" y="400.8" text-anchor="end" font-size="7.0" font-family="Liberation Sans, sans-serif" fill="#111">13</text>
<line x1="222.6" y1="414.8" x2="223.8" y2="414.8" stroke="#777" stroke-width="0.5"/>
<text x="222.9" y="418.5" text-anchor="end" font-size="7.0" font-family="Liberation Sans, sans-serif" fill="#111">8</text>
<line x1="222.6" y1="432.05" x2="223.8" y2="432.05" stroke="#777" stroke-width="0.5"/>
<text x="222.9" y="435.1" text-anchor="end" font-size="7.0" font-family="Liberation Sans, sans-serif" fill="#111">3</text>
<text x="227.7" y="442.8" text-anchor="middle" font-size="7.0" font-family="Liberation Sans, sans-serif" fill="#111">3</text>
<text x="245.1" y="442.8" text-anchor="middle" font-size="7.0" font-family="Liberation Sans, sans-serif" fill="#111">8</text>
<text x="265.9" y="442.8" text-anchor="middle" font-size="7.0" font-family="Liberation Sans, sans-serif" fill="#111">13</text>
<text x="286.3" y="442.8" text-anchor="middle" font-size="7.0" font-family="Liberation Sans, sans-serif" fill="#111">18</text>
<text x="305.4" y="442.8" text-anchor="middle" font-size="7.0" font-family="Liberation Sans, sans-serif" fill="#111">22</text>
<text x="268.6" y="360.8" text-anchor="middle" font-size="7.3" font-family="Liberation Sans, sans-serif" fill="#111">NGMLR (ONT)</text>
<line x1="330.5" y1="432.05" x2="407.45" y2="366.5" stroke="#2ca02c" stroke-opacity="0.3" stroke-width="0.8"/><line x1="330.5" y1="432.05" x2="407.45" y2="366.5" stroke="#2ca02c" stroke-opacity="0.8" stroke-width="0.8" stroke-dasharray="0.9 1.1"/>
<line x1="334.55" y1="431.59" x2="334.55" y2="434.82" stroke="#555" stroke-width="0.6"/>
<line x1="333.85" y1="431.59" x2="335.25" y2="431.59" stroke="#444" stroke-width="0.5"/>
<line x1="338.6" y1="428.75" x2="338.6" y2="434.82" stroke="#555" stroke-width="0.6"/>
<line x1="337.9" y1="428.75" x2="339.3" y2="428.75" stroke="#444" stroke-width="0.5"/>
<rect x="337.3" y="431.59" width="2.6" height="3.23" fill="#bcbd22" stroke="#2a2a2a" stroke-width="0.5"/>
<line x1="342.65" y1="427.8" x2="342.65" y2="434.82" stroke="#555" stroke-width="0.6"/>
<line x1="341.95" y1="427.8" x2="343.35" y2="427.8" stroke="#444" stroke-width="0.5"/>
<rect x="341.35" y="431.59" width="2.6" height="3.23" fill="#bcbd22" stroke="#2a2a2a" stroke-width="0.5"/>
<line x1="346.7" y1="421.16" x2="346.7" y2="434.82" stroke="#555" stroke-width="0.6"/>
<line x1="346" y1="421.16" x2="347.4" y2="421.16" stroke="#444" stroke-width="0.5"/>
<line x1="350.75" y1="424.95" x2="350.75" y2="434.82" stroke="#555" stroke-width="0.6"/>
<line x1="350.05" y1="424.95" x2="351.45" y2="424.95" stroke="#444" stroke-width="0.5"/>
<rect x="349.45" y="427.8" width="2.6" height="4.74" fill="#bcbd22" stroke="#2a2a2a" stroke-width="0.5"/>
<line x1="354.8" y1="424.95" x2="354.8" y2="434.82" stroke="#555" stroke-width="0.6"/>
<line x1="354.1" y1="424.95" x2="355.5" y2="424.95" stroke="#444" stroke-width="0.5"/>
<rect x="353.5" y="427.8" width="2.6" height="4.74" fill="#bcbd22" stroke="#2a2a2a" stroke-width="0.5"/>
<line x1="358.85" y1="424.95" x2="358.85" y2="434.82" stroke="#555" stroke-width="0.6"/>
<line x1="358.15" y1="424.95" x2="359.55" y2="424.95" stroke="#444" stroke-width="0.5"/>
<rect x="357.55" y="427.8" width="2.6" height="4.74" fill="#bcbd22" stroke="#2a2a2a" stroke-width="0.5"/>
<line x1="362.9" y1="424.95" x2="362.9" y2="434.82" stroke="#555" stroke-width="0.6"/>
<line x1="362.2" y1="424.95" x2="363.6" y2="424.95" stroke="#444" stroke-width="0.5"/>
<rect x="361.6" y="427.8" width="2.6" height="4.74" fill="#bcbd22" stroke="#2a2a2a" stroke-width="0.5"/>
<line x1="366.95" y1="424.95" x2="366.95" y2="434.82" stroke="#555" stroke-width="0.6"/>
<line x1="366.25" y1="424.95" x2="367.65" y2="424.95" stroke="#444" stroke-width="0.5"/>
<rect x="365.65" y="427.8" width="2.6" height="4.74" fill="#bcbd22" stroke="#2a2a2a" stroke-width="0.5"/>
<line x1="371" y1="424.95" x2="371" y2="434.82" stroke="#555" stroke-width="0.6"/>
<line x1="370.3" y1="424.95" x2="371.7" y2="424.95" stroke="#444" stroke-width="0.5"/>
<rect x="369.7" y="427.8" width="2.6" height="4.74" fill="#bcbd22" stroke="#2a2a2a" stroke-width="0.5"/>
<line x1="375.05" y1="424.95" x2="375.05" y2="434.82" stroke="#555" stroke-width="0.6"/>
<line x1="374.35" y1="424.95" x2="375.75" y2="424.95" stroke="#444" stroke-width="0.5"/>
<rect x="373.75" y="427.8" width="2.6" height="4.74" fill="#bcbd22" stroke="#2a2a2a" stroke-width="0.5"/>
<line x1="379.1" y1="414.52" x2="379.1" y2="434.82" stroke="#555" stroke-width="0.6"/>
<line x1="378.4" y1="414.52" x2="379.8" y2="414.52" stroke="#444" stroke-width="0.5"/>
<rect x="377.8" y="424.95" width="2.6" height="7.59" fill="#bcbd22" stroke="#2a2a2a" stroke-width="0.5"/>
<line x1="383.15" y1="414.52" x2="383.15" y2="434.82" stroke="#555" stroke-width="0.6"/>
<line x1="382.45" y1="414.52" x2="383.85" y2="414.52" stroke="#444" stroke-width="0.5"/>
<rect x="381.85" y="424.95" width="2.6" height="7.59" fill="#bcbd22" stroke="#2a2a2a" stroke-width="0.5"/>
<line x1="387.2" y1="414.52" x2="387.2" y2="434.82" stroke="#555" stroke-width="0.6"/>
<line x1="386.5" y1="414.52" x2="387.9" y2="414.52" stroke="#444" stroke-width="0.5"/>
<rect x="385.9" y="424.95" width="2.6" height="7.59" fill="#bcbd22" stroke="#2a2a2a" stroke-width="0.5"/>
<line x1="391.25" y1="414.52" x2="391.25" y2="434.82" stroke="#555" stroke-width="0.6"/>
<line x1="390.55" y1="414.52" x2="391.95" y2="414.52" stroke="#444" stroke-width="0.5"/>
<rect x="389.95" y="424.95" width="2.6" height="7.59" fill="#bcbd22" stroke="#2a2a2a" stroke-width="0.5"/>
<line x1="395.3" y1="414.52" x2="395.3" y2="434.82" stroke="#555" stroke-width="0.6"/>
<line x1="394.6" y1="414.52" x2="396" y2="414.52" stroke="#444" stroke-width="0.5"/>
<rect x="394" y="424.95" width="2.6" height="7.59" fill="#bcbd22" stroke="#2a2a2a" stroke-width="0.5"/>
<line x1="399.35" y1="414.52" x2="399.35" y2="434.82" stroke="#555" stroke-width="0.6"/>
<line x1="398.65" y1="414.52" x2="400.05" y2="414.52" stroke="#444" stroke-width="0.5"/>
<rect x="398.05" y="424.95" width="2.6" height="7.59" fill="#bcbd22" stroke="#2a2a2a" stroke-width="0.5"/>
<line x1="403.4" y1="414.52" x2="403.4" y2="434.82" stroke="#555" stroke-width="0.6"/>
<line x1="402.7" y1="414.52" x2="404.1" y2="414.52" stroke="#444" stroke-width="0.5"/>
<rect x="402.1" y="424.95" width="2.6" height="7.59" fill="#bcbd22" stroke="#2a2a2a" stroke-width="0.5"/>
<line x1="407.45" y1="414.52" x2="407.45" y2="434.82" stroke="#555" stroke-width="0.6"/>
<line x1="406.75" y1="414.52" x2="408.15" y2="414.52" stroke="#444" stroke-width="0.5"/>
<rect x="406.15" y="424.95" width="2.6" height="7.59" fill="#bcbd22" stroke="#2a2a2a" stroke-width="0.5"/>
<path d="M330.5,432.92 L375.05,432.54 L379.1,428.18 L407.45,428.18" fill="none" stroke="#ff7f0e" stroke-width="0.7"/>
<rect x="326.6" y="363" width="84.9" height="72.6" fill="none" stroke="#8a8a8a" stroke-width="0.8"/>
<line x1="325.4" y1="366.5" x2="326.6" y2="366.5" stroke="#777" stroke-width="0.5"/>
<text x="325.7" y="369.4" text-anchor="end" font-size="7.0" font-family="Liberation Sans, sans-serif" fill="#111">22</text>
<line x1="325.4" y1="380.3" x2="326.6" y2="380.3" stroke="#777" stroke-width="0.5"/>
<text x="325.7" y="383.5" text-anchor="end" font-size="7.0" font-family="Liberation Sans, sans-serif" fill="#111">18</text>
<line x1="325.4" y1="397.55" x2="326.6" y2="397.55" stroke="#777" stroke-width="0.5"/>
<text x="325.7" y="400.8" text-anchor="end" font-size="7.0" font-family="Liberation Sans, sans-serif" fill="#111">13</text>
<line x1="325.4" y1="414.8" x2="326.6" y2="414.8" stroke="#777" stroke-width="0.5"/>
<text x="325.7" y="418.5" text-anchor="end" font-size="7.0" font-family="Liberation Sans, sans-serif" fill="#111">8</text>
<line x1="325.4" y1="432.05" x2="326.6" y2="432.05" stroke="#777" stroke-width="0.5"/>
<text x="325.7" y="435.1" text-anchor="end" font-size="7.0" font-family="Liberation Sans, sans-serif" fill="#111">3</text>
<text x="330.5" y="442.8" text-anchor="middle" font-size="7.0" font-family="Liberation Sans, sans-serif" fill="#111">3</text>
<text x="347.9" y="442.8" text-anchor="middle" font-size="7.0" font-family="Liberation Sans, sans-serif" fill="#111">8</text>
<text x="368.7" y="442.8" text-anchor="middle" font-size="7.0" font-family="Liberation Sans, sans-serif" fill="#111">13</text>
<text x="389.1" y="442.8" text-anchor="middle" font-size="7.0" font-family="Liberation Sans, sans-serif" fill="#111">18</text>
<text x="408.2" y="442.8" text-anchor="middle" font-size="7.0" font-family="Liberation Sans, sans-serif" fill="#111">22</text>
<text x="367.3" y="360.8" text-anchor="middle" font-size="7.3" font-family="Liberation Sans, sans-serif" fill="#111">Winnowmap2 (ONT)</text>
<line x1="432.4" y1="432.05" x2="509.35" y2="366.5" stroke="#2ca02c" stroke-opacity="0.3" stroke-width="0.8"/><line x1="432.4" y1="432.05" x2="509.35" y2="366.5" stroke="#2ca02c" stroke-opacity="0.8" stroke-width="0.8" stroke-dasharray="0.9 1.1"/>
<rect x="428.5" y="363" width="84.9" height="72.6" fill="none" stroke="#8a8a8a" stroke-width="0.8"/>
<line x1="427.3" y1="366.5" x2="428.5" y2="366.5" stroke="#777" stroke-width="0.5"/>
<text x="427.6" y="369.4" text-anchor="end" font-size="7.0" font-family="Liberation Sans, sans-serif" fill="#111">22</text>
<line x1="427.3" y1="380.3" x2="428.5" y2="380.3" stroke="#777" stroke-width="0.5"/>
<text x="427.6" y="383.5" text-anchor="end" font-size="7.0" font-family="Liberation Sans, sans-serif" fill="#111">18</text>
<line x1="427.3" y1="397.55" x2="428.5" y2="397.55" stroke="#777" stroke-width="0.5"/>
<text x="427.6" y="400.8" text-anchor="end" font-size="7.0" font-family="Liberation Sans, sans-serif" fill="#111">13</text>
<line x1="427.3" y1="414.8" x2="428.5" y2="414.8" stroke="#777" stroke-width="0.5"/>
<text x="427.6" y="418.5" text-anchor="end" font-size="7.0" font-family="Liberation Sans, sans-serif" fill="#111">8</text>
<line x1="427.3" y1="432.05" x2="428.5" y2="432.05" stroke="#777" stroke-width="0.5"/>
<text x="427.6" y="435.1" text-anchor="end" font-size="7.0" font-family="Liberation Sans, sans-serif" fill="#111">3</text>
<text x="432.4" y="442.8" text-anchor="middle" font-size="7.0" font-family="Liberation Sans, sans-serif" fill="#111">3</text>
<text x="449.8" y="442.8" text-anchor="middle" font-size="7.0" font-family="Liberation Sans, sans-serif" fill="#111">8</text>
<text x="470.6" y="442.8" text-anchor="middle" font-size="7.0" font-family="Liberation Sans, sans-serif" fill="#111">13</text>
<text x="491" y="442.8" text-anchor="middle" font-size="7.0" font-family="Liberation Sans, sans-serif" fill="#111">18</text>
<text x="510.1" y="442.8" text-anchor="middle" font-size="7.0" font-family="Liberation Sans, sans-serif" fill="#111">22</text>
<text x="469.6" y="360.8" text-anchor="middle" font-size="7.3" font-family="Liberation Sans, sans-serif" fill="#111">LRA (ONT)</text>
<text transform="translate(8.9,397.5) rotate(-90)" text-anchor="middle" font-size="7.35" font-family="Liberation Sans, sans-serif" fill="#111">Estimated Copy Number</text>
<line x1="30.75" y1="513" x2="30.75" y2="522.9" stroke="#d8d8d8" stroke-width="0.5"/>
<line x1="31.5" y1="513" x2="31.5" y2="522.9" stroke="#3a3a3a" stroke-width="0.6"/>
<line x1="30.7" y1="522.9" x2="32.3" y2="522.9" stroke="#333" stroke-width="0.5"/>
<line x1="34.8" y1="508.7" x2="34.8" y2="512.1" stroke="#d8d8d8" stroke-width="0.5"/>
<line x1="35.55" y1="508.7" x2="35.55" y2="512.1" stroke="#3a3a3a" stroke-width="0.6"/>
<line x1="34.75" y1="512.1" x2="36.35" y2="512.1" stroke="#333" stroke-width="0.5"/>
<line x1="38.85" y1="497.9" x2="38.85" y2="516.3" stroke="#d8d8d8" stroke-width="0.5"/>
<line x1="39.6" y1="497.9" x2="39.6" y2="516.3" stroke="#3a3a3a" stroke-width="0.6"/>
<line x1="38.8" y1="516.3" x2="40.4" y2="516.3" stroke="#333" stroke-width="0.5"/>
<line x1="42.9" y1="501.7" x2="42.9" y2="509.3" stroke="#d8d8d8" stroke-width="0.5"/>
<line x1="43.65" y1="501.7" x2="43.65" y2="509.3" stroke="#3a3a3a" stroke-width="0.6"/>
<line x1="42.85" y1="509.3" x2="44.45" y2="509.3" stroke="#333" stroke-width="0.5"/>
<line x1="46.95" y1="498.4" x2="46.95" y2="509.3" stroke="#d8d8d8" stroke-width="0.5"/>
<line x1="47.7" y1="498.4" x2="47.7" y2="509.3" stroke="#3a3a3a" stroke-width="0.6"/>
<line x1="46.9" y1="509.3" x2="48.5" y2="509.3" stroke="#333" stroke-width="0.5"/>
<line x1="51" y1="495" x2="51" y2="497.9" stroke="#d8d8d8" stroke-width="0.5"/>
<line x1="51.75" y1="495" x2="51.75" y2="497.9" stroke="#3a3a3a" stroke-width="0.6"/>
<line x1="50.95" y1="497.9" x2="52.55" y2="497.9" stroke="#333" stroke-width="0.5"/>
<line x1="55.05" y1="491.2" x2="55.05" y2="498.8" stroke="#d8d8d8" stroke-width="0.5"/>
<line x1="55.8" y1="491.2" x2="55.8" y2="498.8" stroke="#3a3a3a" stroke-width="0.6"/>
<line x1="55" y1="498.8" x2="56.6" y2="498.8" stroke="#333" stroke-width="0.5"/>
<line x1="59.1" y1="488.4" x2="59.1" y2="495" stroke="#d8d8d8" stroke-width="0.5"/>
<line x1="59.85" y1="488.4" x2="59.85" y2="495" stroke="#3a3a3a" stroke-width="0.6"/>
<line x1="59.05" y1="495" x2="60.65" y2="495" stroke="#333" stroke-width="0.5"/>
<line x1="63.15" y1="484.6" x2="63.15" y2="491.2" stroke="#d8d8d8" stroke-width="0.5"/>
<line x1="63.9" y1="484.6" x2="63.9" y2="491.2" stroke="#3a3a3a" stroke-width="0.6"/>
<line x1="63.1" y1="491.2" x2="64.7" y2="491.2" stroke="#333" stroke-width="0.5"/>
<line x1="67.2" y1="481.7" x2="67.2" y2="484.6" stroke="#d8d8d8" stroke-width="0.5"/>
<line x1="67.95" y1="481.7" x2="67.95" y2="484.6" stroke="#3a3a3a" stroke-width="0.6"/>
<line x1="67.15" y1="484.6" x2="68.75" y2="484.6" stroke="#333" stroke-width="0.5"/>
<line x1="71.25" y1="478.2" x2="71.25" y2="522.6" stroke="#d8d8d8" stroke-width="0.5"/>
<line x1="72" y1="478.2" x2="72" y2="522.6" stroke="#3a3a3a" stroke-width="0.6"/>
<line x1="71.2" y1="522.6" x2="72.8" y2="522.6" stroke="#333" stroke-width="0.5"/>
<line x1="75.3" y1="475" x2="75.3" y2="491.3" stroke="#d8d8d8" stroke-width="0.5"/>
<line x1="76.05" y1="475" x2="76.05" y2="491.3" stroke="#3a3a3a" stroke-width="0.6"/>
<line x1="75.25" y1="491.3" x2="76.85" y2="491.3" stroke="#333" stroke-width="0.5"/>
<line x1="79.35" y1="471.1" x2="79.35" y2="515.8" stroke="#d8d8d8" stroke-width="0.5"/>
<line x1="80.1" y1="471.1" x2="80.1" y2="515.8" stroke="#3a3a3a" stroke-width="0.6"/>
<line x1="79.3" y1="515.8" x2="80.9" y2="515.8" stroke="#333" stroke-width="0.5"/>
<line x1="83.4" y1="468.1" x2="83.4" y2="505.4" stroke="#d8d8d8" stroke-width="0.5"/>
<line x1="84.15" y1="468.1" x2="84.15" y2="505.4" stroke="#3a3a3a" stroke-width="0.6"/>
<line x1="83.35" y1="505.4" x2="84.95" y2="505.4" stroke="#333" stroke-width="0.5"/>
<line x1="87.45" y1="464.6" x2="87.45" y2="471.1" stroke="#d8d8d8" stroke-width="0.5"/>
<line x1="88.2" y1="464.6" x2="88.2" y2="471.1" stroke="#3a3a3a" stroke-width="0.6"/>
<line x1="87.4" y1="471.1" x2="89" y2="471.1" stroke="#333" stroke-width="0.5"/>
<line x1="91.5" y1="460.9" x2="91.5" y2="484.5" stroke="#d8d8d8" stroke-width="0.5"/>
<line x1="92.25" y1="460.9" x2="92.25" y2="484.5" stroke="#3a3a3a" stroke-width="0.6"/>
<line x1="91.45" y1="484.5" x2="93.05" y2="484.5" stroke="#333" stroke-width="0.5"/>
<line x1="95.55" y1="454.5" x2="95.55" y2="464.3" stroke="#d8d8d8" stroke-width="0.5"/>
<line x1="96.3" y1="454.5" x2="96.3" y2="464.3" stroke="#3a3a3a" stroke-width="0.6"/>
<line x1="95.5" y1="464.3" x2="97.1" y2="464.3" stroke="#333" stroke-width="0.5"/>
<line x1="99.6" y1="453.4" x2="99.6" y2="519" stroke="#d8d8d8" stroke-width="0.5"/>
<line x1="100.35" y1="453.4" x2="100.35" y2="519" stroke="#3a3a3a" stroke-width="0.6"/>
<line x1="99.55" y1="519" x2="101.15" y2="519" stroke="#333" stroke-width="0.5"/>
<rect x="95" y="456.8" width="2.6" height="4.2" fill="#1f77b4" stroke="#234" stroke-width="0.5"/>
<line x1="23.4" y1="519.05" x2="100.35" y2="453.5" stroke="#bcbd22" stroke-width="0.6"/>
<line x1="23.4" y1="519.05" x2="100.35" y2="453.5" stroke="#ff7f0e" stroke-width="1.1" stroke-dasharray="1.1 4.22" opacity="0.9"/>
<text x="29.6" y="505.8" text-anchor="middle" font-size="7.6" font-family="Liberation Sans, sans-serif" fill="#111">0.2</text>
<rect x="19.5" y="450.5" width="84.9" height="72.1" fill="none" stroke="#8a8a8a" stroke-width="0.8"/>
<line x1="18.3" y1="453.5" x2="19.5" y2="453.5" stroke="#777" stroke-width="0.5"/>
<text x="18.6" y="457.9" text-anchor="end" font-size="7.0" font-family="Liberation Sans, sans-serif" fill="#111">22</text>
<line x1="18.3" y1="467.3" x2="19.5" y2="467.3" stroke="#777" stroke-width="0.5"/>
<text x="18.6" y="472" text-anchor="end" font-size="7.0" font-family="Liberation Sans, sans-serif" fill="#111">18</text>
<line x1="18.3" y1="484.55" x2="19.5" y2="484.55" stroke="#777" stroke-width="0.5"/>
<text x="18.6" y="489.5" text-anchor="end" font-size="7.0" font-family="Liberation Sans, sans-serif" fill="#111">13</text>
<line x1="18.3" y1="501.8" x2="19.5" y2="501.8" stroke="#777" stroke-width="0.5"/>
<text x="18.6" y="505.8" text-anchor="end" font-size="7.0" font-family="Liberation Sans, sans-serif" fill="#111">8</text>
<line x1="18.3" y1="519.05" x2="19.5" y2="519.05" stroke="#777" stroke-width="0.5"/>
<text x="18.6" y="522.5" text-anchor="end" font-size="7.0" font-family="Liberation Sans, sans-serif" fill="#111">3</text>
<text x="23.4" y="529.8" text-anchor="middle" font-size="7.0" font-family="Liberation Sans, sans-serif" fill="#111">3</text>
<text x="40.8" y="529.8" text-anchor="middle" font-size="7.0" font-family="Liberation Sans, sans-serif" fill="#111">8</text>
<text x="61.6" y="529.8" text-anchor="middle" font-size="7.0" font-family="Liberation Sans, sans-serif" fill="#111">13</text>
<text x="82" y="529.8" text-anchor="middle" font-size="7.0" font-family="Liberation Sans, sans-serif" fill="#111">18</text>
<text x="101.1" y="529.8" text-anchor="middle" font-size="7.0" font-family="Liberation Sans, sans-serif" fill="#111">22</text>
<text x="60.6" y="449.2" text-anchor="middle" font-size="7.2" font-family="Liberation Sans, sans-serif" fill="#111">VACmap (ONT repeats)</text>
<text x="60.9" y="537.7" text-anchor="middle" font-size="7.3" font-family="Liberation Sans, sans-serif" fill="#111">Copy Number</text>
<line x1="129.3" y1="512.4" x2="129.3" y2="517.5" stroke="#555" stroke-width="0.6"/>
<line x1="128.6" y1="512.4" x2="130" y2="512.4" stroke="#444" stroke-width="0.5"/>
<rect x="128" y="514" width="2.6" height="3" fill="#ff7f0e" stroke="#2a2a2a" stroke-width="0.5"/>
<rect x="132" y="515" width="2.6" height="1.4" fill="#ff7f0e" stroke="#2a2a2a" stroke-width="0.5"/>
<line x1="137.3" y1="509.1" x2="137.3" y2="522.8" stroke="#555" stroke-width="0.6"/>
<line x1="136.6" y1="509.1" x2="138" y2="509.1" stroke="#444" stroke-width="0.5"/>
<rect x="136" y="514" width="2.6" height="5.3" fill="#ff7f0e" stroke="#2a2a2a" stroke-width="0.5"/>
<line x1="141.5" y1="502.5" x2="141.5" y2="522.8" stroke="#555" stroke-width="0.6"/>
<line x1="140.8" y1="502.5" x2="142.2" y2="502.5" stroke="#444" stroke-width="0.5"/>
<rect x="140.2" y="510" width="2.6" height="8.8" fill="#ff7f0e" stroke="#2a2a2a" stroke-width="0.5"/>
<line x1="145.6" y1="498.5" x2="145.6" y2="522.8" stroke="#555" stroke-width="0.6"/>
<line x1="144.9" y1="498.5" x2="146.3" y2="498.5" stroke="#444" stroke-width="0.5"/>
<rect x="144.3" y="505.1" width="2.6" height="11.3" fill="#ff7f0e" stroke="#2a2a2a" stroke-width="0.5"/>
<line x1="149.9" y1="502" x2="149.9" y2="522.8" stroke="#555" stroke-width="0.6"/>
<line x1="149.2" y1="502" x2="150.6" y2="502" stroke="#444" stroke-width="0.5"/>
<rect x="148.6" y="506" width="2.6" height="9" fill="#ff7f0e" stroke="#2a2a2a" stroke-width="0.5"/>
<line x1="153.9" y1="495.2" x2="153.9" y2="522.8" stroke="#555" stroke-width="0.6"/>
<line x1="153.2" y1="495.2" x2="154.6" y2="495.2" stroke="#444" stroke-width="0.5"/>
<rect x="152.6" y="503.8" width="2.6" height="13.9" fill="#ff7f0e" stroke="#2a2a2a" stroke-width="0.5"/>
<line x1="157.8" y1="488.5" x2="157.8" y2="512.4" stroke="#555" stroke-width="0.6"/>
<line x1="157.1" y1="488.5" x2="158.5" y2="488.5" stroke="#444" stroke-width="0.5"/>
<rect x="156.5" y="494.9" width="2.6" height="10.6" fill="#ff7f0e" stroke="#2a2a2a" stroke-width="0.5"/>
<line x1="161.8" y1="488.5" x2="161.8" y2="522.8" stroke="#555" stroke-width="0.6"/>
<line x1="161.1" y1="488.5" x2="162.5" y2="488.5" stroke="#444" stroke-width="0.5"/>
<rect x="160.5" y="501.8" width="2.6" height="17.5" fill="#ff7f0e" stroke="#2a2a2a" stroke-width="0.5"/>
<line x1="166.1" y1="488.5" x2="166.1" y2="522.8" stroke="#555" stroke-width="0.6"/>
<line x1="165.4" y1="488.5" x2="166.8" y2="488.5" stroke="#444" stroke-width="0.5"/>
<rect x="164.8" y="498.5" width="2.6" height="17.2" fill="#ff7f0e" stroke="#2a2a2a" stroke-width="0.5"/>
<line x1="170.2" y1="481.2" x2="170.2" y2="522.8" stroke="#555" stroke-width="0.6"/>
<line x1="169.5" y1="481.2" x2="170.9" y2="481.2" stroke="#444" stroke-width="0.5"/>
<rect x="168.9" y="499.1" width="2.6" height="13.3" fill="#ff7f0e" stroke="#2a2a2a" stroke-width="0.5"/>
<line x1="174.2" y1="477.9" x2="174.2" y2="522.8" stroke="#555" stroke-width="0.6"/>
<line x1="173.5" y1="477.9" x2="174.9" y2="477.9" stroke="#444" stroke-width="0.5"/>
<rect x="172.9" y="491.4" width="2.6" height="21" fill="#ff7f0e" stroke="#2a2a2a" stroke-width="0.5"/>
<line x1="178.2" y1="474.2" x2="178.2" y2="522.8" stroke="#555" stroke-width="0.6"/>
<line x1="177.5" y1="474.2" x2="178.9" y2="474.2" stroke="#444" stroke-width="0.5"/>
<rect x="176.9" y="495.2" width="2.6" height="17.2" fill="#ff7f0e" stroke="#2a2a2a" stroke-width="0.5"/>
<line x1="182.2" y1="467.3" x2="182.2" y2="522.8" stroke="#555" stroke-width="0.6"/>
<line x1="181.5" y1="467.3" x2="182.9" y2="467.3" stroke="#444" stroke-width="0.5"/>
<rect x="180.9" y="487.2" width="2.6" height="32.1" fill="#ff7f0e" stroke="#2a2a2a" stroke-width="0.5"/>
<line x1="186.4" y1="477.9" x2="186.4" y2="522.8" stroke="#555" stroke-width="0.6"/>
<line x1="185.7" y1="477.9" x2="187.1" y2="477.9" stroke="#444" stroke-width="0.5"/>
<rect x="185.1" y="491.4" width="2.6" height="22.3" fill="#ff7f0e" stroke="#2a2a2a" stroke-width="0.5"/>
<line x1="190.4" y1="467.3" x2="190.4" y2="522.8" stroke="#555" stroke-width="0.6"/>
<line x1="189.7" y1="467.3" x2="191.1" y2="467.3" stroke="#444" stroke-width="0.5"/>
<rect x="189.1" y="477.9" width="2.6" height="35.8" fill="#ff7f0e" stroke="#2a2a2a" stroke-width="0.5"/>
<line x1="194.6" y1="464" x2="194.6" y2="516.4" stroke="#555" stroke-width="0.6"/>
<line x1="193.9" y1="464" x2="195.3" y2="464" stroke="#444" stroke-width="0.5"/>
<rect x="193.3" y="473.2" width="2.6" height="36.6" fill="#ff7f0e" stroke="#2a2a2a" stroke-width="0.5"/>
<line x1="198.6" y1="456.9" x2="198.6" y2="522.8" stroke="#555" stroke-width="0.6"/>
<line x1="197.9" y1="456.9" x2="199.3" y2="456.9" stroke="#444" stroke-width="0.5"/>
<rect x="197.3" y="477.9" width="2.6" height="41.1" fill="#ff7f0e" stroke="#2a2a2a" stroke-width="0.5"/>
<path d="M125,515.4 L133.3,515.7 L141.5,515 L145.6,512.4 L149.9,511 L153.9,508.4 L157.8,501.1 L161.8,507.1 L166.1,504.4 L170.2,505.8 L174.2,501.8 L178.2,501.8 L182.2,503.1 L186.4,499.1 L190.4,496.5 L194.6,495.2 L198.6,498.5" fill="none" stroke="#ffb877" stroke-width="0.8" stroke-dasharray="1.5 1"/>
<line x1="125" y1="516.1" x2="199" y2="453.7" stroke="#2ca02c" stroke-opacity="0.3" stroke-width="0.8"/><line x1="125" y1="516.1" x2="199" y2="453.7" stroke="#2ca02c" stroke-opacity="0.8" stroke-width="0.8" stroke-dasharray="0.9 1.1"/>
<rect x="121.5" y="450.5" width="84.9" height="72.1" fill="none" stroke="#8a8a8a" stroke-width="0.8"/>
<line x1="120.3" y1="453.5" x2="121.5" y2="453.5" stroke="#777" stroke-width="0.5"/>
<text x="120.6" y="457.9" text-anchor="end" font-size="7.0" font-family="Liberation Sans, sans-serif" fill="#111">22</text>
<line x1="120.3" y1="467.3" x2="121.5" y2="467.3" stroke="#777" stroke-width="0.5"/>
<text x="120.6" y="472" text-anchor="end" font-size="7.0" font-family="Liberation Sans, sans-serif" fill="#111">18</text>
<line x1="120.3" y1="484.55" x2="121.5" y2="484.55" stroke="#777" stroke-width="0.5"/>
<text x="120.6" y="489.5" text-anchor="end" font-size="7.0" font-family="Liberation Sans, sans-serif" fill="#111">13</text>
<line x1="120.3" y1="501.8" x2="121.5" y2="501.8" stroke="#777" stroke-width="0.5"/>
<text x="120.6" y="505.8" text-anchor="end" font-size="7.0" font-family="Liberation Sans, sans-serif" fill="#111">8</text>
<line x1="120.3" y1="519.05" x2="121.5" y2="519.05" stroke="#777" stroke-width="0.5"/>
<text x="120.6" y="522.5" text-anchor="end" font-size="7.0" font-family="Liberation Sans, sans-serif" fill="#111">3</text>
<text x="125.4" y="529.8" text-anchor="middle" font-size="7.0" font-family="Liberation Sans, sans-serif" fill="#111">3</text>
<text x="142.8" y="529.8" text-anchor="middle" font-size="7.0" font-family="Liberation Sans, sans-serif" fill="#111">8</text>
<text x="163.6" y="529.8" text-anchor="middle" font-size="7.0" font-family="Liberation Sans, sans-serif" fill="#111">13</text>
<text x="184" y="529.8" text-anchor="middle" font-size="7.0" font-family="Liberation Sans, sans-serif" fill="#111">18</text>
<text x="203.1" y="529.8" text-anchor="middle" font-size="7.0" font-family="Liberation Sans, sans-serif" fill="#111">22</text>
<text x="167.3" y="449.2" text-anchor="middle" font-size="7.2" font-family="Liberation Sans, sans-serif" fill="#111">minimap2 (ONT repeats)</text>
<text x="163.5" y="537.7" text-anchor="middle" font-size="7.3" font-family="Liberation Sans, sans-serif" fill="#111">Copy Number</text>
<rect x="226.4" y="519.7" width="2.6" height="3.23" fill="#2ca02c" stroke="#2a2a2a" stroke-width="0.5"/>
<rect x="230.45" y="515.9" width="2.6" height="7.02" fill="#2ca02c" stroke="#2a2a2a" stroke-width="0.5"/>
<rect x="234.5" y="513.06" width="2.6" height="9.87" fill="#2ca02c" stroke="#2a2a2a" stroke-width="0.5"/>
<rect x="238.55" y="511.73" width="2.6" height="7.97" fill="#2ca02c" stroke="#2a2a2a" stroke-width="0.5"/>
<rect x="242.6" y="507.93" width="2.6" height="10.82" fill="#2ca02c" stroke="#2a2a2a" stroke-width="0.5"/>
<line x1="247.95" y1="496.93" x2="247.95" y2="522.92" stroke="#555" stroke-width="0.6"/>
<line x1="247.25" y1="496.93" x2="248.65" y2="496.93" stroke="#444" stroke-width="0.5"/>
<rect x="246.65" y="502.24" width="2.6" height="14.61" fill="#2ca02c" stroke="#2a2a2a" stroke-width="0.5"/>
<line x1="252" y1="502.62" x2="252" y2="521.59" stroke="#555" stroke-width="0.6"/>
<line x1="251.3" y1="502.62" x2="252.7" y2="502.62" stroke="#444" stroke-width="0.5"/>
<rect x="250.7" y="507.93" width="2.6" height="7.59" fill="#2ca02c" stroke="#2a2a2a" stroke-width="0.5"/>
<line x1="256.05" y1="502.62" x2="256.05" y2="521.59" stroke="#555" stroke-width="0.6"/>
<line x1="255.35" y1="502.62" x2="256.75" y2="502.62" stroke="#444" stroke-width="0.5"/>
<rect x="254.75" y="507.93" width="2.6" height="7.97" fill="#2ca02c" stroke="#2a2a2a" stroke-width="0.5"/>
<line x1="260.1" y1="492.18" x2="260.1" y2="522.92" stroke="#555" stroke-width="0.6"/>
<line x1="259.4" y1="492.18" x2="260.8" y2="492.18" stroke="#444" stroke-width="0.5"/>
<rect x="258.8" y="498.44" width="2.6" height="20.3" fill="#2ca02c" stroke="#2a2a2a" stroke-width="0.5"/>
<line x1="264.15" y1="488.39" x2="264.15" y2="522.92" stroke="#555" stroke-width="0.6"/>
<line x1="263.45" y1="488.39" x2="264.85" y2="488.39" stroke="#444" stroke-width="0.5"/>
<rect x="262.85" y="495.03" width="2.6" height="18.98" fill="#2ca02c" stroke="#2a2a2a" stroke-width="0.5"/>
<line x1="268.2" y1="495.03" x2="268.2" y2="522.92" stroke="#555" stroke-width="0.6"/>
<line x1="267.5" y1="495.03" x2="268.9" y2="495.03" stroke="#444" stroke-width="0.5"/>
<rect x="266.9" y="509.26" width="2.6" height="6.64" fill="#2ca02c" stroke="#2a2a2a" stroke-width="0.5"/>
<line x1="272.25" y1="480.8" x2="272.25" y2="519.7" stroke="#555" stroke-width="0.6"/>
<line x1="271.55" y1="480.8" x2="272.95" y2="480.8" stroke="#444" stroke-width="0.5"/>
<rect x="270.95" y="502.24" width="2.6" height="13.66" fill="#2ca02c" stroke="#2a2a2a" stroke-width="0.5"/>
<line x1="276.3" y1="480.8" x2="276.3" y2="522.92" stroke="#555" stroke-width="0.6"/>
<line x1="275.6" y1="480.8" x2="277" y2="480.8" stroke="#444" stroke-width="0.5"/>
<rect x="275" y="495.03" width="2.6" height="18.98" fill="#2ca02c" stroke="#2a2a2a" stroke-width="0.5"/>
<line x1="280.35" y1="477.95" x2="280.35" y2="522.92" stroke="#555" stroke-width="0.6"/>
<line x1="279.65" y1="477.95" x2="281.05" y2="477.95" stroke="#444" stroke-width="0.5"/>
<rect x="279.05" y="491.23" width="2.6" height="22.77" fill="#2ca02c" stroke="#2a2a2a" stroke-width="0.5"/>
<line x1="284.4" y1="477.95" x2="284.4" y2="519.7" stroke="#555" stroke-width="0.6"/>
<line x1="283.7" y1="477.95" x2="285.1" y2="477.95" stroke="#444" stroke-width="0.5"/>
<rect x="283.1" y="498.44" width="2.6" height="14.61" fill="#2ca02c" stroke="#2a2a2a" stroke-width="0.5"/>
<line x1="288.45" y1="477.95" x2="288.45" y2="522.92" stroke="#555" stroke-width="0.6"/>
<line x1="287.75" y1="477.95" x2="289.15" y2="477.95" stroke="#444" stroke-width="0.5"/>
<rect x="287.15" y="491.23" width="2.6" height="16.7" fill="#2ca02c" stroke="#2a2a2a" stroke-width="0.5"/>
<line x1="292.5" y1="477.95" x2="292.5" y2="519.7" stroke="#555" stroke-width="0.6"/>
<line x1="291.8" y1="477.95" x2="293.2" y2="477.95" stroke="#444" stroke-width="0.5"/>
<rect x="291.2" y="495.98" width="2.6" height="16.51" fill="#2ca02c" stroke="#2a2a2a" stroke-width="0.5"/>
<line x1="296.55" y1="459.92" x2="296.55" y2="521.59" stroke="#555" stroke-width="0.6"/>
<line x1="295.85" y1="459.92" x2="297.25" y2="459.92" stroke="#444" stroke-width="0.5"/>
<rect x="295.25" y="474.16" width="2.6" height="35.1" fill="#2ca02c" stroke="#2a2a2a" stroke-width="0.5"/>
<line x1="300.6" y1="460.49" x2="300.6" y2="521.59" stroke="#555" stroke-width="0.6"/>
<line x1="299.9" y1="460.49" x2="301.3" y2="460.49" stroke="#444" stroke-width="0.5"/>
<rect x="299.3" y="488.39" width="2.6" height="23.72" fill="#2ca02c" stroke="#2a2a2a" stroke-width="0.5"/>
<line x1="304.65" y1="463.72" x2="304.65" y2="521.59" stroke="#555" stroke-width="0.6"/>
<line x1="303.95" y1="463.72" x2="305.35" y2="463.72" stroke="#444" stroke-width="0.5"/>
<rect x="303.35" y="483.26" width="2.6" height="26" fill="#2ca02c" stroke="#2a2a2a" stroke-width="0.5"/>
<rect x="299.7" y="510" width="2.4" height="5" fill="#666" fill-opacity="0.55"/>
<rect x="303.6" y="506" width="2.4" height="6.4" fill="#666" fill-opacity="0.55"/>
<rect x="275.1" y="511.5" width="2.4" height="3.3" fill="#666" fill-opacity="0.55"/>
<rect x="285.8" y="512.5" width="2.4" height="2.5" fill="#666" fill-opacity="0.55"/>
<path d="M227.7,519.7 L231.75,519.7 L235.8,518.75 L239.85,515.52 L243.9,513.06 L247.95,509.26 L252,512.11 L256.05,512.11 L260.1,511.73 L264.15,504.14 L268.2,509.26 L272.25,509.26 L276.3,505.46 L280.35,506.79 L284.4,502.62 L288.45,502.24 L292.5,504.14 L296.55,491.61 L300.6,506.41 L304.65,502.62" fill="none" stroke="#ff7f0e" stroke-width="0.8"/>
<line x1="226.6" y1="520.6" x2="304.9" y2="453.7" stroke="#2ca02c" stroke-opacity="0.3" stroke-width="0.8"/><line x1="226.6" y1="520.6" x2="304.9" y2="453.7" stroke="#2ca02c" stroke-opacity="0.8" stroke-width="0.8" stroke-dasharray="0.9 1.1"/>
<rect x="223.8" y="450.5" width="84.9" height="72.1" fill="none" stroke="#8a8a8a" stroke-width="0.8"/>
<line x1="222.6" y1="453.5" x2="223.8" y2="453.5" stroke="#777" stroke-width="0.5"/>
<text x="222.9" y="457.9" text-anchor="end" font-size="7.0" font-family="Liberation Sans, sans-serif" fill="#111">22</text>
<line x1="222.6" y1="467.3" x2="223.8" y2="467.3" stroke="#777" stroke-width="0.5"/>
<text x="222.9" y="472" text-anchor="end" font-size="7.0" font-family="Liberation Sans, sans-serif" fill="#111">18</text>
<line x1="222.6" y1="484.55" x2="223.8" y2="484.55" stroke="#777" stroke-width="0.5"/>
<text x="222.9" y="489.5" text-anchor="end" font-size="7.0" font-family="Liberation Sans, sans-serif" fill="#111">13</text>
<line x1="222.6" y1="501.8" x2="223.8" y2="501.8" stroke="#777" stroke-width="0.5"/>
<text x="222.9" y="505.8" text-anchor="end" font-size="7.0" font-family="Liberation Sans, sans-serif" fill="#111">8</text>
<line x1="222.6" y1="519.05" x2="223.8" y2="519.05" stroke="#777" stroke-width="0.5"/>
<text x="222.9" y="522.5" text-anchor="end" font-size="7.0" font-family="Liberation Sans, sans-serif" fill="#111">3</text>
<text x="227.7" y="529.8" text-anchor="middle" font-size="7.0" font-family="Liberation Sans, sans-serif" fill="#111">3</text>
<text x="245.1" y="529.8" text-anchor="middle" font-size="7.0" font-family="Liberation Sans, sans-serif" fill="#111">8</text>
<text x="265.9" y="529.8" text-anchor="middle" font-size="7.0" font-family="Liberation Sans, sans-serif" fill="#111">13</text>
<text x="286.3" y="529.8" text-anchor="middle" font-size="7.0" font-family="Liberation Sans, sans-serif" fill="#111">18</text>
<text x="305.4" y="529.8" text-anchor="middle" font-size="7.0" font-family="Liberation Sans, sans-serif" fill="#111">22</text>
<text x="271.2" y="449.2" text-anchor="middle" font-size="7.2" font-family="Liberation Sans, sans-serif" fill="#111">NGMLR (ONT repeats)</text>
<text x="266.3" y="537.7" text-anchor="middle" font-size="7.3" font-family="Liberation Sans, sans-serif" fill="#111">Copy Number</text>
<line x1="330.4" y1="519.3" x2="407.8" y2="453.3" stroke="#2ca02c" stroke-opacity="0.3" stroke-width="0.8"/><line x1="330.4" y1="519.3" x2="407.8" y2="453.3" stroke="#2ca02c" stroke-opacity="0.8" stroke-width="0.8" stroke-dasharray="0.9 1.1"/>
<line x1="334.55" y1="516.85" x2="334.55" y2="522.92" stroke="#555" stroke-width="0.6"/>
<line x1="333.85" y1="516.85" x2="335.25" y2="516.85" stroke="#444" stroke-width="0.5"/>
<rect x="333.25" y="519.7" width="2.6" height="2.85" fill="#bcbd22" stroke="#2a2a2a" stroke-width="0.5"/>
<line x1="338.6" y1="516.85" x2="338.6" y2="522.92" stroke="#555" stroke-width="0.6"/>
<line x1="337.9" y1="516.85" x2="339.3" y2="516.85" stroke="#444" stroke-width="0.5"/>
<rect x="337.3" y="519.7" width="2.6" height="3.23" fill="#bcbd22" stroke="#2a2a2a" stroke-width="0.5"/>
<line x1="342.65" y1="515.9" x2="342.65" y2="522.92" stroke="#555" stroke-width="0.6"/>
<line x1="341.95" y1="515.9" x2="343.35" y2="515.9" stroke="#444" stroke-width="0.5"/>
<rect x="341.35" y="517.8" width="2.6" height="5.12" fill="#bcbd22" stroke="#2a2a2a" stroke-width="0.5"/>
<line x1="346.7" y1="515.9" x2="346.7" y2="522.92" stroke="#555" stroke-width="0.6"/>
<line x1="346" y1="515.9" x2="347.4" y2="515.9" stroke="#444" stroke-width="0.5"/>
<rect x="345.4" y="518.18" width="2.6" height="4.74" fill="#bcbd22" stroke="#2a2a2a" stroke-width="0.5"/>
<line x1="350.75" y1="515.9" x2="350.75" y2="522.92" stroke="#555" stroke-width="0.6"/>
<line x1="350.05" y1="515.9" x2="351.45" y2="515.9" stroke="#444" stroke-width="0.5"/>
<rect x="349.45" y="518.75" width="2.6" height="4.17" fill="#bcbd22" stroke="#2a2a2a" stroke-width="0.5"/>
<line x1="354.8" y1="516.85" x2="354.8" y2="522.92" stroke="#555" stroke-width="0.6"/>
<line x1="354.1" y1="516.85" x2="355.5" y2="516.85" stroke="#444" stroke-width="0.5"/>
<rect x="353.5" y="519.7" width="2.6" height="3.23" fill="#bcbd22" stroke="#2a2a2a" stroke-width="0.5"/>
<line x1="358.85" y1="516.85" x2="358.85" y2="522.92" stroke="#555" stroke-width="0.6"/>
<line x1="358.15" y1="516.85" x2="359.55" y2="516.85" stroke="#444" stroke-width="0.5"/>
<rect x="357.55" y="519.7" width="2.6" height="3.23" fill="#bcbd22" stroke="#2a2a2a" stroke-width="0.5"/>
<line x1="362.9" y1="512.11" x2="362.9" y2="522.92" stroke="#555" stroke-width="0.6"/>
<line x1="362.2" y1="512.11" x2="363.6" y2="512.11" stroke="#444" stroke-width="0.5"/>
<rect x="361.6" y="513.06" width="2.6" height="7.59" fill="#bcbd22" stroke="#2a2a2a" stroke-width="0.5"/>
<line x1="366.95" y1="512.11" x2="366.95" y2="522.92" stroke="#555" stroke-width="0.6"/>
<line x1="366.25" y1="512.11" x2="367.65" y2="512.11" stroke="#444" stroke-width="0.5"/>
<rect x="365.65" y="515.52" width="2.6" height="5.12" fill="#bcbd22" stroke="#2a2a2a" stroke-width="0.5"/>
<line x1="371" y1="516.85" x2="371" y2="522.92" stroke="#555" stroke-width="0.6"/>
<line x1="370.3" y1="516.85" x2="371.7" y2="516.85" stroke="#444" stroke-width="0.5"/>
<rect x="369.7" y="517.8" width="2.6" height="5.12" fill="#bcbd22" stroke="#2a2a2a" stroke-width="0.5"/>
<line x1="375.05" y1="508.69" x2="375.05" y2="522.92" stroke="#555" stroke-width="0.6"/>
<line x1="374.35" y1="508.69" x2="375.75" y2="508.69" stroke="#444" stroke-width="0.5"/>
<rect x="373.75" y="516.85" width="2.6" height="6.07" fill="#bcbd22" stroke="#2a2a2a" stroke-width="0.5"/>
<line x1="379.1" y1="508.69" x2="379.1" y2="522.92" stroke="#555" stroke-width="0.6"/>
<line x1="378.4" y1="508.69" x2="379.8" y2="508.69" stroke="#444" stroke-width="0.5"/>
<rect x="377.8" y="515.9" width="2.6" height="7.02" fill="#bcbd22" stroke="#2a2a2a" stroke-width="0.5"/>
<line x1="383.15" y1="508.69" x2="383.15" y2="522.92" stroke="#555" stroke-width="0.6"/>
<line x1="382.45" y1="508.69" x2="383.85" y2="508.69" stroke="#444" stroke-width="0.5"/>
<rect x="381.85" y="515.9" width="2.6" height="7.02" fill="#bcbd22" stroke="#2a2a2a" stroke-width="0.5"/>
<line x1="387.2" y1="511.16" x2="387.2" y2="522.92" stroke="#555" stroke-width="0.6"/>
<line x1="386.5" y1="511.16" x2="387.9" y2="511.16" stroke="#444" stroke-width="0.5"/>
<rect x="385.9" y="515.9" width="2.6" height="5.69" fill="#bcbd22" stroke="#2a2a2a" stroke-width="0.5"/>
<line x1="391.25" y1="513.06" x2="391.25" y2="522.92" stroke="#555" stroke-width="0.6"/>
<line x1="390.55" y1="513.06" x2="391.95" y2="513.06" stroke="#444" stroke-width="0.5"/>
<rect x="389.95" y="514.95" width="2.6" height="5.69" fill="#bcbd22" stroke="#2a2a2a" stroke-width="0.5"/>
<line x1="395.3" y1="511.16" x2="395.3" y2="522.92" stroke="#555" stroke-width="0.6"/>
<line x1="394.6" y1="511.16" x2="396" y2="511.16" stroke="#444" stroke-width="0.5"/>
<rect x="394" y="513.06" width="2.6" height="7.59" fill="#bcbd22" stroke="#2a2a2a" stroke-width="0.5"/>
<line x1="399.35" y1="505.46" x2="399.35" y2="522.92" stroke="#555" stroke-width="0.6"/>
<line x1="398.65" y1="505.46" x2="400.05" y2="505.46" stroke="#444" stroke-width="0.5"/>
<rect x="398.05" y="512.11" width="2.6" height="8.54" fill="#bcbd22" stroke="#2a2a2a" stroke-width="0.5"/>
<line x1="403.4" y1="505.46" x2="403.4" y2="522.92" stroke="#555" stroke-width="0.6"/>
<line x1="402.7" y1="505.46" x2="404.1" y2="505.46" stroke="#444" stroke-width="0.5"/>
<rect x="402.1" y="511.16" width="2.6" height="9.49" fill="#bcbd22" stroke="#2a2a2a" stroke-width="0.5"/>
<line x1="407.45" y1="498.44" x2="407.45" y2="522.92" stroke="#555" stroke-width="0.6"/>
<line x1="406.75" y1="498.44" x2="408.15" y2="498.44" stroke="#444" stroke-width="0.5"/>
<rect x="406.15" y="510.21" width="2.6" height="12.71" fill="#bcbd22" stroke="#2a2a2a" stroke-width="0.5"/>
<path d="M330.5,522.92 L334.55,519.7 L338.6,520.08 L342.65,519.7 L346.7,519.7 L350.75,519.7 L354.8,519.89 L358.85,519.89 L362.9,516.85 L366.95,517.8 L371,519.7 L375.05,519.7 L379.1,519.7 L383.15,519.7 L387.2,519.32 L391.25,517.8 L395.3,518.18 L399.35,515.52 L403.4,514.95 L407.45,514.95" fill="none" stroke="#ff7f0e" stroke-width="0.7"/>
<rect x="326.6" y="450.5" width="84.9" height="72.1" fill="none" stroke="#8a8a8a" stroke-width="0.8"/>
<line x1="325.4" y1="453.5" x2="326.6" y2="453.5" stroke="#777" stroke-width="0.5"/>
<text x="325.7" y="457.9" text-anchor="end" font-size="7.0" font-family="Liberation Sans, sans-serif" fill="#111">22</text>
<line x1="325.4" y1="467.3" x2="326.6" y2="467.3" stroke="#777" stroke-width="0.5"/>
<text x="325.7" y="472" text-anchor="end" font-size="7.0" font-family="Liberation Sans, sans-serif" fill="#111">18</text>
<line x1="325.4" y1="484.55" x2="326.6" y2="484.55" stroke="#777" stroke-width="0.5"/>
<text x="325.7" y="489.5" text-anchor="end" font-size="7.0" font-family="Liberation Sans, sans-serif" fill="#111">13</text>
<line x1="325.4" y1="501.8" x2="326.6" y2="501.8" stroke="#777" stroke-width="0.5"/>
<text x="325.7" y="505.8" text-anchor="end" font-size="7.0" font-family="Liberation Sans, sans-serif" fill="#111">8</text>
<line x1="325.4" y1="519.05" x2="326.6" y2="519.05" stroke="#777" stroke-width="0.5"/>
<text x="325.7" y="522.5" text-anchor="end" font-size="7.0" font-family="Liberation Sans, sans-serif" fill="#111">3</text>
<text x="330.5" y="529.8" text-anchor="middle" font-size="7.0" font-family="Liberation Sans, sans-serif" fill="#111">3</text>
<text x="347.9" y="529.8" text-anchor="middle" font-size="7.0" font-family="Liberation Sans, sans-serif" fill="#111">8</text>
<text x="368.7" y="529.8" text-anchor="middle" font-size="7.0" font-family="Liberation Sans, sans-serif" fill="#111">13</text>
<text x="389.1" y="529.8" text-anchor="middle" font-size="7.0" font-family="Liberation Sans, sans-serif" fill="#111">18</text>
<text x="408.2" y="529.8" text-anchor="middle" font-size="7.0" font-family="Liberation Sans, sans-serif" fill="#111">22</text>
<text x="370.4" y="449.2" text-anchor="middle" font-size="7.2" font-family="Liberation Sans, sans-serif" fill="#111">Winnowmap2 (ONT repeats)</text>
<text x="369.9" y="537.7" text-anchor="middle" font-size="7.3" font-family="Liberation Sans, sans-serif" fill="#111">Copy Number</text>
<line x1="432.4" y1="519.05" x2="509.35" y2="453.5" stroke="#2ca02c" stroke-opacity="0.3" stroke-width="0.8"/><line x1="432.4" y1="519.05" x2="509.35" y2="453.5" stroke="#2ca02c" stroke-opacity="0.8" stroke-width="0.8" stroke-dasharray="0.9 1.1"/>
<rect x="428.5" y="450.5" width="84.9" height="72.1" fill="none" stroke="#8a8a8a" stroke-width="0.8"/>
<line x1="427.3" y1="453.5" x2="428.5" y2="453.5" stroke="#777" stroke-width="0.5"/>
<text x="427.6" y="457.9" text-anchor="end" font-size="7.0" font-family="Liberation Sans, sans-serif" fill="#111">22</text>
<line x1="427.3" y1="467.3" x2="428.5" y2="467.3" stroke="#777" stroke-width="0.5"/>
<text x="427.6" y="472" text-anchor="end" font-size="7.0" font-family="Liberation Sans, sans-serif" fill="#111">18</text>
<line x1="427.3" y1="484.55" x2="428.5" y2="484.55" stroke="#777" stroke-width="0.5"/>
<text x="427.6" y="489.5" text-anchor="end" font-size="7.0" font-family="Liberation Sans, sans-serif" fill="#111">13</text>
<line x1="427.3" y1="501.8" x2="428.5" y2="501.8" stroke="#777" stroke-width="0.5"/>
<text x="427.6" y="505.8" text-anchor="end" font-size="7.0" font-family="Liberation Sans, sans-serif" fill="#111">8</text>
<line x1="427.3" y1="519.05" x2="428.5" y2="519.05" stroke="#777" stroke-width="0.5"/>
<text x="427.6" y="522.5" text-anchor="end" font-size="7.0" font-family="Liberation Sans, sans-serif" fill="#111">3</text>
<text x="432.4" y="529.8" text-anchor="middle" font-size="7.0" font-family="Liberation Sans, sans-serif" fill="#111">3</text>
<text x="449.8" y="529.8" text-anchor="middle" font-size="7.0" font-family="Liberation Sans, sans-serif" fill="#111">8</text>
<text x="470.6" y="529.8" text-anchor="middle" font-size="7.0" font-family="Liberation Sans, sans-serif" fill="#111">13</text>
<text x="491" y="529.8" text-anchor="middle" font-size="7.0" font-family="Liberation Sans, sans-serif" fill="#111">18</text>
<text x="510.1" y="529.8" text-anchor="middle" font-size="7.0" font-family="Liberation Sans, sans-serif" fill="#111">22</text>
<text x="474.6" y="449.2" text-anchor="middle" font-size="7.2" font-family="Liberation Sans, sans-serif" fill="#111">LRA (ONT repeats)</text>
<text x="471.5" y="537.7" text-anchor="middle" font-size="7.3" font-family="Liberation Sans, sans-serif" fill="#111">Copy Number</text>
<text transform="translate(8.9,486) rotate(-90)" text-anchor="middle" font-size="7.35" font-family="Liberation Sans, sans-serif" fill="#111">Estimated Copy Number</text>
<text x="4.9" y="347.8" font-size="11" font-family="Liberation Sans, sans-serif" fill="#111">c</text>
<rect x="238.1" y="557.3" width="13.6" height="5.7" fill="#1f77b4"/>
<text x="255" y="563.1" font-size="8.8" font-family="Liberation Sans, sans-serif" fill="#111">VACmap</text>
<rect x="293.5" y="557.3" width="13.6" height="5.7" fill="#ff7f0e"/>
<text x="310.4" y="563.1" font-size="8.8" font-family="Liberation Sans, sans-serif" fill="#111">minimap2</text>
<rect x="352.2" y="557.3" width="13.6" height="5.7" fill="#2ca02c"/>
<text x="369.1" y="563.1" font-size="8.6" font-family="Liberation Sans, sans-serif" fill="#111">NGNLR</text>
<rect x="403.2" y="557.3" width="13.6" height="5.7" fill="#bcbd22"/>
<text x="420.1" y="563.1" font-size="8.8" font-family="Liberation Sans, sans-serif" fill="#111">Winnowmap2</text>
<rect x="473.8" y="557.3" width="13.6" height="5.7" fill="#9467bd"/>
<text x="490.7" y="563.1" font-size="7.2" font-family="Liberation Sans, sans-serif" fill="#111">LRA</text>
</svg>
</body></html>
